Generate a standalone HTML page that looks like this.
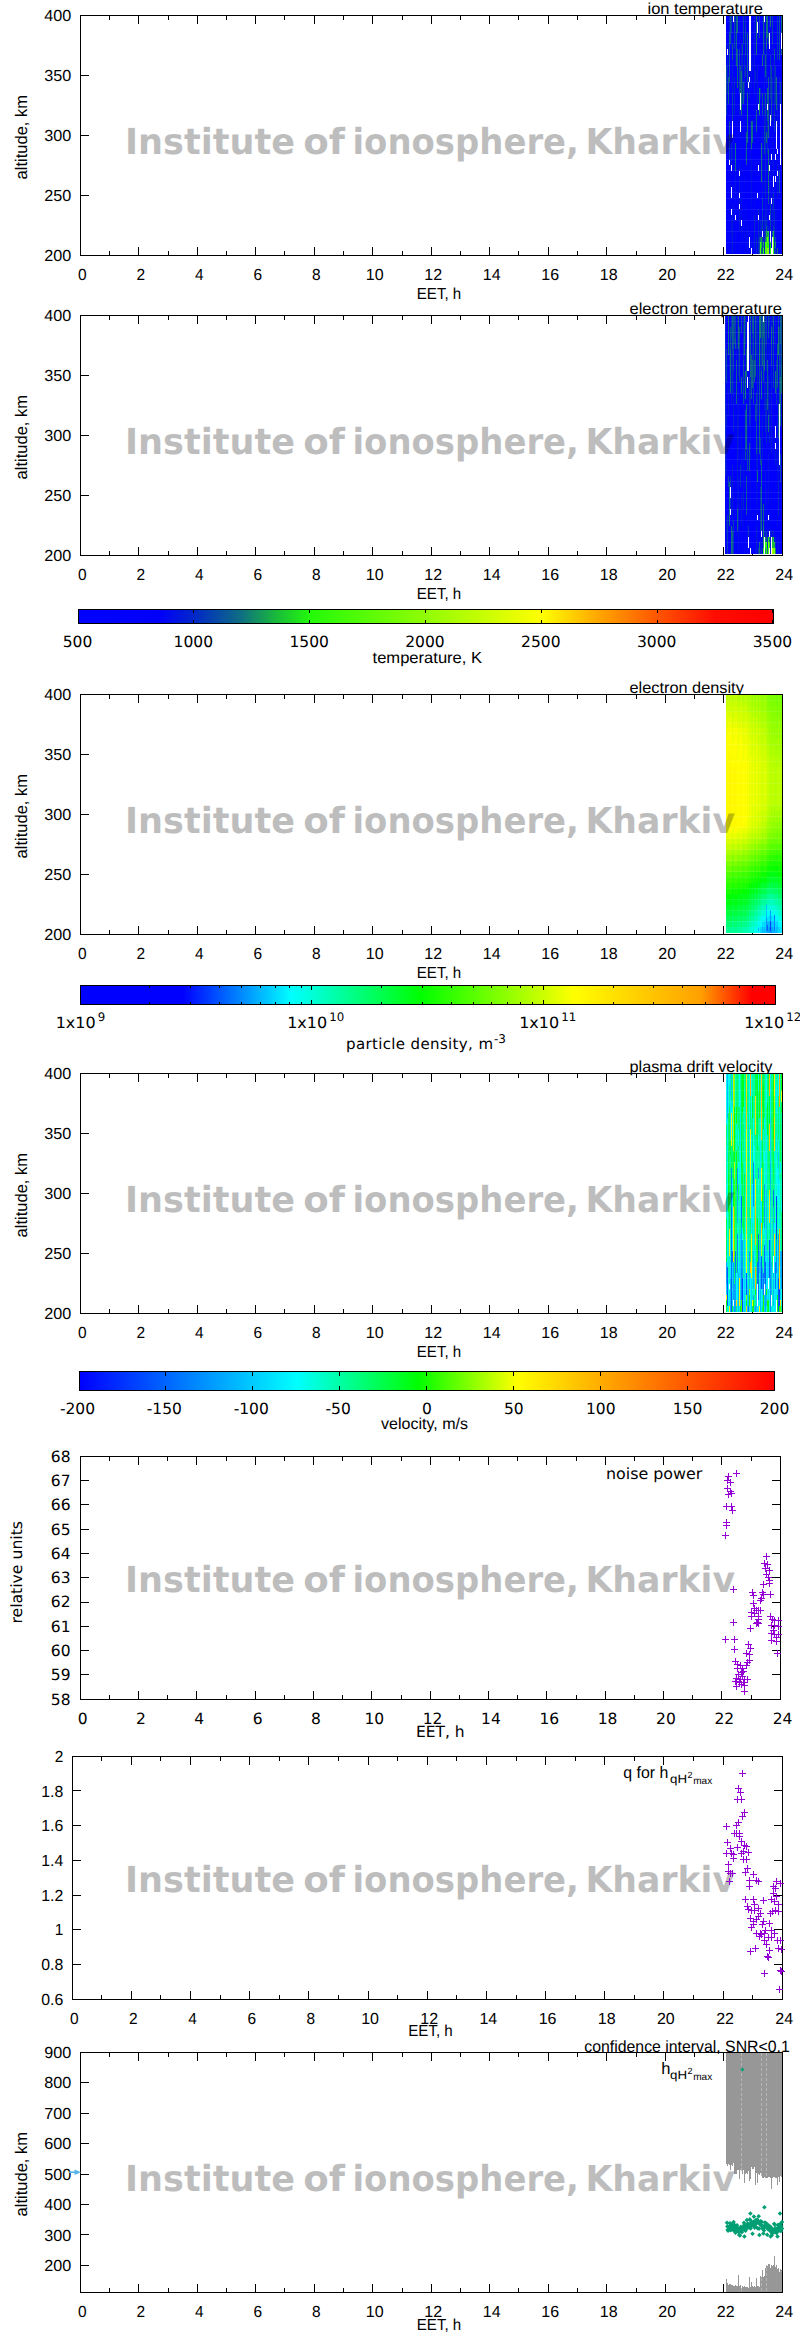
<!DOCTYPE html>
<html><head><meta charset="utf-8"><title>Institute of ionosphere, Kharkiv</title>
<style>
html,body{margin:0;padding:0;background:#fff}
svg{display:block}
.u{font-family:"Liberation Sans",sans-serif}
.d{font-family:"DejaVu Sans",sans-serif}
</style></head><body>
<svg width="800" height="2337" viewBox="0 0 800 2337" shape-rendering="crispEdges" text-rendering="geometricPrecision">
<defs>
<linearGradient id="gT" x1="0" y1="0" x2="1" y2="0"><stop offset="0.0000" stop-color="#0000ff"/><stop offset="0.1167" stop-color="#0000fa"/><stop offset="0.1667" stop-color="#0028c8"/><stop offset="0.2333" stop-color="#0f6e82"/><stop offset="0.2833" stop-color="#19b93c"/><stop offset="0.3333" stop-color="#23fa0a"/><stop offset="0.6667" stop-color="#ffff00"/><stop offset="0.7500" stop-color="#ffa500"/><stop offset="0.8333" stop-color="#ff5500"/><stop offset="0.9167" stop-color="#ff0c00"/><stop offset="1.0000" stop-color="#ff0000"/></linearGradient>
<linearGradient id="gD" x1="0" y1="0" x2="1" y2="0"><stop offset="0.0000" stop-color="#0000ff"/><stop offset="0.1467" stop-color="#0000ff"/><stop offset="0.3033" stop-color="#00ffff"/><stop offset="0.4900" stop-color="#00ff00"/><stop offset="0.7100" stop-color="#ffff00"/><stop offset="0.8933" stop-color="#ffa000"/><stop offset="0.9667" stop-color="#ff0000"/><stop offset="1.0000" stop-color="#ff0000"/></linearGradient>
<linearGradient id="gV" x1="0" y1="0" x2="1" y2="0"><stop offset="0.0000" stop-color="#0000ff"/><stop offset="0.3125" stop-color="#00ffff"/><stop offset="0.4875" stop-color="#00ff00"/><stop offset="0.6300" stop-color="#ffff00"/><stop offset="1.0000" stop-color="#ff0000"/></linearGradient>
</defs>
<text x="647.5" y="14.4" class="u" font-size="16" textLength="115.5" lengthAdjust="spacingAndGlyphs">ion temperature</text>
<rect x="80" y="15" width="703" height="1" fill="#000"/>
<rect x="80" y="255" width="703" height="1" fill="#000"/>
<rect x="80" y="15" width="1" height="241" fill="#000"/>
<rect x="782" y="15" width="1" height="241" fill="#000"/>
<text x="82.2" y="280.1" class="u" font-size="16" text-anchor="middle" textLength="8.6" lengthAdjust="spacingAndGlyphs">0</text>
<rect x="109" y="251" width="1" height="4" fill="#000"/>
<rect x="109" y="16" width="1" height="4" fill="#000"/>
<rect x="138" y="247" width="1" height="8" fill="#000"/>
<rect x="138" y="16" width="1" height="8" fill="#000"/>
<text x="140.7" y="280.1" class="u" font-size="16" text-anchor="middle" textLength="8.6" lengthAdjust="spacingAndGlyphs">2</text>
<rect x="168" y="251" width="1" height="4" fill="#000"/>
<rect x="168" y="16" width="1" height="4" fill="#000"/>
<rect x="197" y="247" width="1" height="8" fill="#000"/>
<rect x="197" y="16" width="1" height="8" fill="#000"/>
<text x="199.2" y="280.1" class="u" font-size="16" text-anchor="middle" textLength="8.6" lengthAdjust="spacingAndGlyphs">4</text>
<rect x="226" y="251" width="1" height="4" fill="#000"/>
<rect x="226" y="16" width="1" height="4" fill="#000"/>
<rect x="255" y="247" width="1" height="8" fill="#000"/>
<rect x="255" y="16" width="1" height="8" fill="#000"/>
<text x="257.7" y="280.1" class="u" font-size="16" text-anchor="middle" textLength="8.6" lengthAdjust="spacingAndGlyphs">6</text>
<rect x="284" y="251" width="1" height="4" fill="#000"/>
<rect x="284" y="16" width="1" height="4" fill="#000"/>
<rect x="314" y="247" width="1" height="8" fill="#000"/>
<rect x="314" y="16" width="1" height="8" fill="#000"/>
<text x="316.2" y="280.1" class="u" font-size="16" text-anchor="middle" textLength="8.6" lengthAdjust="spacingAndGlyphs">8</text>
<rect x="343" y="251" width="1" height="4" fill="#000"/>
<rect x="343" y="16" width="1" height="4" fill="#000"/>
<rect x="372" y="247" width="1" height="8" fill="#000"/>
<rect x="372" y="16" width="1" height="8" fill="#000"/>
<text x="374.7" y="280.1" class="u" font-size="16" text-anchor="middle" textLength="17.8" lengthAdjust="spacingAndGlyphs">10</text>
<rect x="402" y="251" width="1" height="4" fill="#000"/>
<rect x="402" y="16" width="1" height="4" fill="#000"/>
<rect x="431" y="247" width="1" height="8" fill="#000"/>
<rect x="431" y="16" width="1" height="8" fill="#000"/>
<text x="433.2" y="280.1" class="u" font-size="16" text-anchor="middle" textLength="17.8" lengthAdjust="spacingAndGlyphs">12</text>
<rect x="460" y="251" width="1" height="4" fill="#000"/>
<rect x="460" y="16" width="1" height="4" fill="#000"/>
<rect x="489" y="247" width="1" height="8" fill="#000"/>
<rect x="489" y="16" width="1" height="8" fill="#000"/>
<text x="491.7" y="280.1" class="u" font-size="16" text-anchor="middle" textLength="17.8" lengthAdjust="spacingAndGlyphs">14</text>
<rect x="518" y="251" width="1" height="4" fill="#000"/>
<rect x="518" y="16" width="1" height="4" fill="#000"/>
<rect x="548" y="247" width="1" height="8" fill="#000"/>
<rect x="548" y="16" width="1" height="8" fill="#000"/>
<text x="550.2" y="280.1" class="u" font-size="16" text-anchor="middle" textLength="17.8" lengthAdjust="spacingAndGlyphs">16</text>
<rect x="577" y="251" width="1" height="4" fill="#000"/>
<rect x="577" y="16" width="1" height="4" fill="#000"/>
<rect x="606" y="247" width="1" height="8" fill="#000"/>
<rect x="606" y="16" width="1" height="8" fill="#000"/>
<text x="608.7" y="280.1" class="u" font-size="16" text-anchor="middle" textLength="17.8" lengthAdjust="spacingAndGlyphs">18</text>
<rect x="636" y="251" width="1" height="4" fill="#000"/>
<rect x="636" y="16" width="1" height="4" fill="#000"/>
<rect x="665" y="247" width="1" height="8" fill="#000"/>
<rect x="665" y="16" width="1" height="8" fill="#000"/>
<text x="667.2" y="280.1" class="u" font-size="16" text-anchor="middle" textLength="17.8" lengthAdjust="spacingAndGlyphs">20</text>
<rect x="694" y="251" width="1" height="4" fill="#000"/>
<rect x="694" y="16" width="1" height="4" fill="#000"/>
<rect x="723" y="247" width="1" height="8" fill="#000"/>
<rect x="723" y="16" width="1" height="8" fill="#000"/>
<text x="725.7" y="280.1" class="u" font-size="16" text-anchor="middle" textLength="17.8" lengthAdjust="spacingAndGlyphs">22</text>
<rect x="752" y="251" width="1" height="4" fill="#000"/>
<rect x="752" y="16" width="1" height="4" fill="#000"/>
<text x="784.2" y="280.1" class="u" font-size="16" text-anchor="middle" textLength="17.8" lengthAdjust="spacingAndGlyphs">24</text>
<text x="71.3" y="260.9" class="u" font-size="16" text-anchor="end" textLength="27" lengthAdjust="spacingAndGlyphs">200</text>
<rect x="81" y="195" width="8" height="1" fill="#000"/>
<rect x="774" y="195" width="8" height="1" fill="#000"/>
<text x="71.3" y="200.9" class="u" font-size="16" text-anchor="end" textLength="27" lengthAdjust="spacingAndGlyphs">250</text>
<rect x="81" y="135" width="8" height="1" fill="#000"/>
<rect x="774" y="135" width="8" height="1" fill="#000"/>
<text x="71.3" y="140.9" class="u" font-size="16" text-anchor="end" textLength="27" lengthAdjust="spacingAndGlyphs">300</text>
<rect x="81" y="75" width="8" height="1" fill="#000"/>
<rect x="774" y="75" width="8" height="1" fill="#000"/>
<text x="71.3" y="80.9" class="u" font-size="16" text-anchor="end" textLength="27" lengthAdjust="spacingAndGlyphs">350</text>
<text x="71.3" y="20.9" class="u" font-size="16" text-anchor="end" textLength="27" lengthAdjust="spacingAndGlyphs">400</text>
<text x="439" y="298.8" class="u" font-size="16" text-anchor="middle" textLength="44.5" lengthAdjust="spacingAndGlyphs">EET, h</text>
<text x="26.8" y="137.2" class="u" font-size="16.8" text-anchor="middle" textLength="84.5" lengthAdjust="spacingAndGlyphs" transform="rotate(-90 26.8 137.2)">altitude, km</text>
<rect x="726" y="16" width="56" height="237.5" fill="#fff"/>
<path fill="#0000fa" d="M726 16v49.71h1v-49.71zM726 115.42v16.57h1v-16.57zM730 137.51v33.14h1v-33.14zM731 120.94v22.09h1v-22.09zM731 170.65v16.57h1v-16.57zM731 198.27v11.04h1v-11.04zM732 16v11.05h1v-11.05zM735 98.85v44.18h1v-44.18zM738 16v99.42h1v-99.42zM738 231.41v16.57h1v-16.57zM739 231.41v11.04h1v-11.04zM740 32.57v33.14h1v-33.14zM740 159.6v22.1h1v-22.1zM744 16v38.66h1v-38.66zM744 137.51v38.66h1v-38.66zM745 76.76v38.66h1v-38.66zM746 220.36v33.14h1v-33.14zM747 16v16.57h1v-16.57zM747 143.03v82.85h1v-82.85zM749 98.85v22.09h1v-22.09zM749 159.6v38.67h1v-38.67zM749 214.84v22.09h1v-22.09zM750 93.33v16.57h1v-16.57zM751 87.8v33.14h1v-33.14zM752 16v33.14h1v-33.14zM752 71.23v33.14h1v-33.14zM752 143.03v110.47h1v-110.47zM754 93.33v99.41h1v-99.41zM757 242.45v5.53h1v-5.53zM760 60.19v27.61h1v-27.61zM760 176.17v33.14h1v-33.14zM762 65.71v27.62h1v-27.62zM763 214.84v5.52h1v-5.52zM763 225.88v5.53h1v-5.53zM764 198.27v16.57h1v-16.57zM765 16v38.66h1v-38.66zM766 198.27v5.52h1v-5.52zM767 214.84v5.52h1v-5.52zM768 209.31v16.57h1v-16.57zM769 54.66v49.71h1v-49.71zM770 98.85v16.57h1v-16.57zM770 126.47v5.52h1v-5.52zM772 104.37v27.62h1v-27.62zM773 16v38.66h1v-38.66zM773 120.94v27.62h1v-27.62zM775 231.41v5.52h1v-5.52zM776 165.13v44.18h1v-44.18zM777 60.19v33.14h1v-33.14zM777 198.27v49.71h1v-49.71zM780 43.62v38.66h1v-38.66zM780 209.31v33.14h1v-33.14z"/>
<path fill="#0644ac" d="M726 65.71v27.62h1v-27.62zM731 16v16.57h1v-16.57zM732 93.33v27.61h1v-27.61zM734 16v33.14h1v-33.14zM739 49.14v44.19h1v-44.19zM743 16v27.62h1v-27.62zM745 27.05v27.61h1v-27.61zM759 16v22.09h1v-22.09zM759 236.93v11.05h1v-11.05zM762 198.27v11.04h1v-11.04zM762 220.36v11.05h1v-11.05zM762 236.93v11.05h1v-11.05zM764 126.47v27.61h1v-27.61zM770 203.79v27.62h1v-27.62zM771 65.71v33.14h1v-33.14zM772 16v27.62h1v-27.62zM775 236.93v5.52h1v-5.52zM775 247.98v5.52h1v-5.52zM780 82.28v22.09h1v-22.09z"/>
<path fill="#0336ba" d="M726 93.33v22.09h1v-22.09zM729 137.51v22.09h1v-22.09zM745 65.71v11.05h1v-11.05zM762 209.31v11.05h1v-11.05zM765 231.41v5.52h1v-5.52zM769 242.45v11.05h1v-11.05zM770 54.66v44.19h1v-44.19zM773 192.74v16.57h1v-16.57zM773 225.88v5.53h1v-5.53zM774 109.9v22.09h1v-22.09zM775 65.71v38.66h1v-38.66zM777 16v44.19h1v-44.19z"/>
<path fill="#0000fc" d="M726 131.99v11.04h1v-11.04zM726 214.84v16.57h1v-16.57zM727 93.33v49.7h1v-49.7zM728 16v49.71h1v-49.71zM728 104.37v22.1h1v-22.1zM728 154.08v44.19h1v-44.19zM729 82.28v38.66h1v-38.66zM729 165.13v49.71h1v-49.71zM733 82.28v60.75h1v-60.75zM733 225.88v27.62h1v-27.62zM734 49.14v27.62h1v-27.62zM734 154.08v66.28h1v-66.28zM736 143.03v22.1h1v-22.1zM736 192.74v60.76h1v-60.76zM737 32.57v16.57h1v-16.57zM737 98.85v49.71h1v-49.71zM737 236.93v16.57h1v-16.57zM742 16v27.62h1v-27.62zM742 104.37v27.62h1v-27.62zM742 176.17v66.28h1v-66.28zM744 98.85v38.66h1v-38.66zM746 65.71v66.28h1v-66.28zM746 165.13v55.23h1v-55.23zM753 16v99.42h1v-99.42zM753 131.99v11.04h1v-11.04zM755 54.66v16.57h1v-16.57zM755 126.47v33.13h1v-33.13zM755 187.22v66.28h1v-66.28zM756 154.08v33.14h1v-33.14zM756 220.36v16.57h1v-16.57zM757 16v5.52h1v-5.52zM757 32.57v11.05h1v-11.05zM757 104.37v66.28h1v-66.28zM757 187.22v5.52h1v-5.52zM757 198.27v38.66h1v-38.66zM758 43.62v44.18h1v-44.18zM758 143.03v16.57h1v-16.57zM759 203.79v16.57h1v-16.57zM760 98.85v33.14h1v-33.14zM761 16v77.33h1v-77.33zM761 181.7v33.14h1v-33.14zM763 54.66v82.85h1v-82.85zM763 187.22v11.05h1v-11.05zM766 181.7v5.52h1v-5.52zM767 38.09v49.71h1v-49.71zM767 154.08v38.66h1v-38.66zM768 16v16.57h1v-16.57zM768 43.62v33.14h1v-33.14zM768 137.51v11.05h1v-11.05zM771 181.7v16.57h1v-16.57zM771 203.79v5.52h1v-5.52zM771 220.36v5.52h1v-5.52zM774 176.17v33.14h1v-33.14zM775 16v49.71h1v-49.71zM775 143.03v11.05h1v-11.05zM775 198.27v27.61h1v-27.61zM778 16v16.57h1v-16.57zM778 93.33v44.18h1v-44.18zM779 115.42v55.23h1v-55.23zM779 242.45v11.05h1v-11.05zM780 165.13v44.18h1v-44.18zM781 82.28v171.22h1v-171.22z"/>
<path fill="#0000fb" d="M726 143.03v71.81h1v-71.81zM726 231.41v22.09h1v-22.09zM727 16v27.62h1v-27.62zM727 170.65v16.57h1v-16.57zM727 231.41v22.09h1v-22.09zM728 65.71v11.05h1v-11.05zM728 126.47v27.61h1v-27.61zM730 43.62v93.89h1v-93.89zM730 203.79v49.71h1v-49.71zM731 49.14v71.8h1v-71.8zM732 159.6v44.19h1v-44.19zM733 21.52v60.76h1v-60.76zM733 192.74v33.14h1v-33.14zM734 115.42v38.66h1v-38.66zM734 220.36v33.14h1v-33.14zM735 65.71v33.14h1v-33.14zM736 165.13v27.61h1v-27.61zM737 198.27v38.66h1v-38.66zM738 137.51v93.9h1v-93.9zM738 247.98v5.52h1v-5.52zM739 115.42v49.71h1v-49.71zM740 16v16.57h1v-16.57zM740 181.7v71.8h1v-71.8zM741 16v27.62h1v-27.62zM742 165.13v11.04h1v-11.04zM743 43.62v38.66h1v-38.66zM743 143.03v82.85h1v-82.85zM743 242.45v11.05h1v-11.05zM744 187.22v66.28h1v-66.28zM745 159.6v44.19h1v-44.19zM746 16v49.71h1v-49.71zM748 16v66.28h1v-66.28zM748 87.8v165.7h1v-165.7zM749 120.94v38.66h1v-38.66zM749 198.27v16.57h1v-16.57zM749 247.98v5.52h1v-5.52zM750 71.23v22.1h1v-22.1zM750 176.17v77.33h1v-77.33zM752 104.37v16.57h1v-16.57zM753 115.42v16.57h1v-16.57zM755 16v38.66h1v-38.66zM755 82.28v44.19h1v-44.19zM755 159.6v27.62h1v-27.62zM756 54.66v22.1h1v-22.1zM757 43.62v22.09h1v-22.09zM757 236.93v5.52h1v-5.52zM757 247.98v5.52h1v-5.52zM759 220.36v11.05h1v-11.05zM760 16v44.19h1v-44.19zM760 131.99v44.18h1v-44.18zM760 209.31v11.05h1v-11.05zM761 93.33v49.7h1v-49.7zM761 214.84v5.52h1v-5.52zM762 16v38.66h1v-38.66zM763 137.51v49.71h1v-49.71zM763 198.27v16.57h1v-16.57zM765 76.76v16.57h1v-16.57zM766 187.22v11.05h1v-11.05zM767 192.74v11.05h1v-11.05zM768 203.79v5.52h1v-5.52zM769 49.14v5.52h1v-5.52zM769 131.99v33.14h1v-33.14zM769 170.65v11.05h1v-11.05zM770 27.05v27.61h1v-27.61zM770 131.99v22.09h1v-22.09zM771 16v49.71h1v-49.71zM771 170.65v11.05h1v-11.05zM771 225.88v11.05h1v-11.05zM774 16v33.14h1v-33.14zM774 131.99v44.18h1v-44.18zM775 159.6v5.53h1v-5.53zM775 225.88v5.53h1v-5.53zM776 16v60.76h1v-60.76zM776 109.9v11.04h1v-11.04zM776 242.45v11.05h1v-11.05zM778 76.76v16.57h1v-16.57zM778 159.6v49.71h1v-49.71zM780 16v27.62h1v-27.62zM780 242.45v11.05h1v-11.05zM781 54.66v27.62h1v-27.62z"/>
<path fill="#001dd5" d="M727 43.62v5.52h1v-5.52zM727 54.66v38.67h1v-38.67zM732 60.19v33.14h1v-33.14zM732 220.36v33.14h1v-33.14zM739 93.33v22.09h1v-22.09zM739 165.13v5.52h1v-5.52zM739 176.17v16.57h1v-16.57zM739 198.27v5.52h1v-5.52zM739 209.31v22.1h1v-22.1zM741 43.62v27.61h1v-27.61zM747 82.28v11.05h1v-11.05zM749 71.23v5.53h1v-5.53zM749 82.28v16.57h1v-16.57zM754 16v77.33h1v-77.33zM757 65.71v38.66h1v-38.66zM760 231.41v5.52h1v-5.52zM763 236.93v5.52h1v-5.52zM764 21.52v27.62h1v-27.62zM764 93.33v33.14h1v-33.14zM764 214.84v33.14h1v-33.14zM766 214.84v5.52h1v-5.52zM767 225.88v5.53h1v-5.53zM768 225.88v5.53h1v-5.53zM772 76.76v27.61h1v-27.61zM777 93.33v33.14h1v-33.14zM777 165.13v5.52h1v-5.52zM777 176.17v22.1h1v-22.1zM779 76.76v38.66h1v-38.66z"/>
<path fill="#0000fd" d="M727 143.03v27.62h1v-27.62zM727 187.22v44.19h1v-44.19zM728 198.27v55.23h1v-55.23zM729 214.84v38.66h1v-38.66zM733 143.03v49.71h1v-49.71zM736 115.42v27.61h1v-27.61zM742 131.99v33.14h1v-33.14zM742 242.45v11.05h1v-11.05zM753 143.03v16.57h1v-16.57zM753 181.7v71.8h1v-71.8zM756 209.31v11.05h1v-11.05zM758 87.8v16.57h1v-16.57zM758 109.9v16.57h1v-16.57zM766 82.28v49.71h1v-49.71zM766 170.65v11.05h1v-11.05zM771 120.94v33.14h1v-33.14zM771 159.6v11.05h1v-11.05zM771 209.31v11.05h1v-11.05zM775 104.37v38.66h1v-38.66zM775 165.13v11.04h1v-11.04zM775 181.7v16.57h1v-16.57zM778 137.51v22.09h1v-22.09zM778 209.31v44.19h1v-44.19zM779 60.19v16.57h1v-16.57z"/>
<path fill="#0c6090" d="M728 76.76v27.61h1v-27.61zM729 32.57v49.71h1v-49.71zM736 16v49.71h1v-49.71zM737 49.14v38.66h1v-38.66zM743 82.28v22.09h1v-22.09zM746 131.99v33.14h1v-33.14zM747 32.57v49.71h1v-49.71zM752 120.94v22.09h1v-22.09zM756 109.9v22.09h1v-22.09zM761 247.98v5.52h1v-5.52zM762 247.98v5.52h1v-5.52zM763 16v38.66h1v-38.66zM765 54.66v22.1h1v-22.1zM766 225.88v5.53h1v-5.53zM767 87.8v16.57h1v-16.57zM767 109.9v11.04h1v-11.04zM768 76.76v49.71h1v-49.71zM777 247.98v5.52h1v-5.52z"/>
<path fill="#0028c8" d="M729 16v16.57h1v-16.57zM731 143.03v22.1h1v-22.1zM734 76.76v38.66h1v-38.66zM742 54.66v49.71h1v-49.71zM744 54.66v44.19h1v-44.19zM745 16v11.05h1v-11.05zM754 214.84v33.14h1v-33.14zM755 71.23v11.05h1v-11.05zM756 236.93v16.57h1v-16.57zM758 209.31v5.53h1v-5.53zM758 220.36v33.14h1v-33.14zM760 87.8v11.05h1v-11.05zM760 220.36v5.52h1v-5.52zM761 225.88v5.53h1v-5.53zM764 247.98v5.52h1v-5.52zM765 115.42v82.85h1v-82.85zM765 220.36v5.52h1v-5.52zM766 49.14v33.14h1v-33.14zM766 220.36v5.52h1v-5.52zM767 120.94v33.14h1v-33.14zM774 60.19v49.71h1v-49.71zM774 209.31v44.19h1v-44.19z"/>
<path fill="#09529e" d="M729 120.94v16.57h1v-16.57zM730 16v27.62h1v-27.62zM732 43.62v16.57h1v-16.57zM740 65.71v27.62h1v-27.62zM742 43.62v11.04h1v-11.04zM759 247.98v5.52h1v-5.52zM762 93.33v22.09h1v-22.09zM765 93.33v22.09h1v-22.09zM768 32.57v11.05h1v-11.05zM768 192.74v11.05h1v-11.05zM771 98.85v22.09h1v-22.09zM772 231.41v5.52h1v-5.52zM774 49.14v11.05h1v-11.05zM779 16v44.19h1v-44.19zM779 170.65v22.09h1v-22.09z"/>
<path fill="#0008f0" d="M730 170.65v33.14h1v-33.14zM731 236.93v16.57h1v-16.57zM732 27.05v16.57h1v-16.57zM732 137.51v11.05h1v-11.05zM735 198.27v16.57h1v-16.57zM735 220.36v33.14h1v-33.14zM738 115.42v22.09h1v-22.09zM739 32.57v16.57h1v-16.57zM739 242.45v11.05h1v-11.05zM740 109.9v11.04h1v-11.04zM740 131.99v27.61h1v-27.61zM741 115.42v82.85h1v-82.85zM741 236.93v16.57h1v-16.57zM743 104.37v38.66h1v-38.66zM743 225.88v16.57h1v-16.57zM744 176.17v11.05h1v-11.05zM745 54.66v11.05h1v-11.05zM745 115.42v33.14h1v-33.14zM745 203.79v49.71h1v-49.71zM750 109.9v66.27h1v-66.27zM751 16v38.66h1v-38.66zM751 148.56v11.04h1v-11.04zM751 203.79v38.66h1v-38.66zM752 49.14v11.05h1v-11.05zM754 192.74v22.1h1v-22.1zM754 247.98v5.52h1v-5.52zM761 220.36v5.52h1v-5.52zM761 231.41v5.52h1v-5.52zM762 115.42v16.57h1v-16.57zM763 220.36v5.52h1v-5.52zM764 154.08v44.19h1v-44.19zM767 203.79v11.05h1v-11.05zM769 104.37v27.62h1v-27.62zM769 192.74v22.1h1v-22.1zM769 220.36v22.09h1v-22.09zM770 154.08v49.71h1v-49.71zM771 236.93v5.52h1v-5.52zM772 54.66v22.1h1v-22.1zM772 131.99v71.8h1v-71.8zM773 54.66v66.28h1v-66.28zM776 148.56v16.57h1v-16.57zM776 209.31v33.14h1v-33.14zM777 126.47v22.09h1v-22.09zM777 154.08v11.05h1v-11.05z"/>
<path fill="#0013e3" d="M731 32.57v16.57h1v-16.57zM731 214.84v22.09h1v-22.09zM732 148.56v11.04h1v-11.04zM732 203.79v16.57h1v-16.57zM735 16v49.71h1v-49.71zM735 170.65v27.62h1v-27.62zM739 16v16.57h1v-16.57zM741 198.27v22.09h1v-22.09zM741 225.88v11.05h1v-11.05zM745 148.56v11.04h1v-11.04zM747 225.88v27.62h1v-27.62zM751 54.66v33.14h1v-33.14zM751 159.6v44.19h1v-44.19zM751 242.45v5.53h1v-5.53zM752 60.19v11.04h1v-11.04zM759 231.41v5.52h1v-5.52zM760 225.88v5.53h1v-5.53zM762 131.99v66.28h1v-66.28zM763 231.41v5.52h1v-5.52zM764 49.14v44.19h1v-44.19zM765 198.27v22.09h1v-22.09zM765 225.88v5.53h1v-5.53zM766 203.79v11.05h1v-11.05zM767 220.36v5.52h1v-5.52zM769 16v16.57h1v-16.57zM769 181.7v11.04h1v-11.04zM771 242.45v5.53h1v-5.53zM772 43.62v11.04h1v-11.04zM772 203.79v27.62h1v-27.62zM773 148.56v27.61h1v-27.61zM773 187.22v5.52h1v-5.52zM773 209.31v16.57h1v-16.57z"/>
<path fill="#0f6e82" d="M735 143.03v27.62h1v-27.62zM737 16v16.57h1v-16.57zM741 71.23v44.19h1v-44.19zM747 93.33v49.7h1v-49.7zM751 120.94v27.62h1v-27.62zM756 16v38.66h1v-38.66zM760 236.93v5.52h1v-5.52zM761 143.03v38.67h1v-38.67zM762 54.66v11.05h1v-11.05zM765 236.93v5.52h1v-5.52zM766 16v33.14h1v-33.14zM766 131.99v11.04h1v-11.04zM767 16v22.09h1v-22.09zM768 126.47v11.04h1v-11.04zM768 148.56v44.18h1v-44.18zM770 16v11.05h1v-11.05zM776 76.76v33.14h1v-33.14zM781 16v16.57h1v-16.57zM781 49.14v5.52h1v-5.52z"/>
<path fill="#0000fe" d="M736 65.71v49.71h1v-49.71zM737 87.8v11.05h1v-11.05zM737 148.56v49.71h1v-49.71zM753 159.6v22.1h1v-22.1zM756 76.76v33.14h1v-33.14zM756 131.99v22.09h1v-22.09zM756 187.22v22.09h1v-22.09zM757 170.65v16.57h1v-16.57zM758 16v27.62h1v-27.62zM758 126.47v16.56h1v-16.56zM758 159.6v5.53h1v-5.53zM758 170.65v38.66h1v-38.66zM759 38.09v49.71h1v-49.71zM759 115.42v88.37h1v-88.37zM766 143.03v27.62h1v-27.62zM778 32.57v44.19h1v-44.19zM779 192.74v49.71h1v-49.71z"/>
<path fill="#12826f" d="M759 87.8v27.62h1v-27.62zM775 242.45v5.53h1v-5.53z"/>
<path fill="#27fa0a" d="M760 242.45v5.53h1v-5.53z"/>
<path fill="#53fb08" d="M760 247.98v5.52h1v-5.52z"/>
<path fill="#14965d" d="M761 236.93v5.52h1v-5.52zM767 231.41v5.52h1v-5.52z"/>
<path fill="#1abd39" d="M761 242.45v5.53h1v-5.53zM766 236.93v5.52h1v-5.52z"/>
<path fill="#17aa4a" d="M763 242.45v5.53h1v-5.53zM766 231.41v5.52h1v-5.52zM773 231.41v5.52h1v-5.52z"/>
<path fill="#39fa09" d="M763 247.98v5.52h1v-5.52z"/>
<path fill="#4bfb08" d="M765 242.45v5.53h1v-5.53zM766 242.45v5.53h1v-5.53z"/>
<path fill="#5cfb07" d="M765 247.98v5.52h1v-5.52z"/>
<path fill="#42fb09" d="M766 247.98v5.52h1v-5.52zM773 236.93v5.52h1v-5.52zM773 247.98v5.52h1v-5.52z"/>
<path fill="#6efc07" d="M767 236.93v5.52h1v-5.52z"/>
<path fill="#22f111" d="M767 242.45v5.53h1v-5.53zM770 247.98v5.52h1v-5.52z"/>
<path fill="#9afd05" d="M767 247.98v5.52h1v-5.52z"/>
<path fill="#1ccf2b" d="M768 231.41v5.52h1v-5.52z"/>
<path fill="#1fe01e" d="M768 236.93v5.52h1v-5.52zM770 242.45v5.53h1v-5.53z"/>
<path fill="#30fa09" d="M768 242.45v5.53h1v-5.53z"/>
<path fill="#88fc05" d="M768 247.98v5.52h1v-5.52z"/>
<path fill="#65fc07" d="M773 242.45v5.53h1v-5.53z"/>
<rect x="726" y="21.27" width="56" height="0.5" fill="#ffffff" fill-opacity="0.08"/>
<rect x="726" y="26.8" width="56" height="0.5" fill="#ffffff" fill-opacity="0.08"/>
<rect x="726" y="32.32" width="56" height="0.5" fill="#ffffff" fill-opacity="0.08"/>
<rect x="726" y="37.84" width="56" height="0.5" fill="#ffffff" fill-opacity="0.08"/>
<rect x="726" y="43.37" width="56" height="0.5" fill="#ffffff" fill-opacity="0.08"/>
<rect x="726" y="48.89" width="56" height="0.5" fill="#ffffff" fill-opacity="0.08"/>
<rect x="726" y="54.41" width="56" height="0.5" fill="#ffffff" fill-opacity="0.08"/>
<rect x="726" y="59.94" width="56" height="0.5" fill="#ffffff" fill-opacity="0.08"/>
<rect x="726" y="65.46" width="56" height="0.5" fill="#ffffff" fill-opacity="0.08"/>
<rect x="726" y="70.98" width="56" height="0.5" fill="#ffffff" fill-opacity="0.08"/>
<rect x="726" y="76.51" width="56" height="0.5" fill="#ffffff" fill-opacity="0.08"/>
<rect x="726" y="82.03" width="56" height="0.5" fill="#ffffff" fill-opacity="0.08"/>
<rect x="726" y="87.55" width="56" height="0.5" fill="#ffffff" fill-opacity="0.08"/>
<rect x="726" y="93.08" width="56" height="0.5" fill="#ffffff" fill-opacity="0.08"/>
<rect x="726" y="98.6" width="56" height="0.5" fill="#ffffff" fill-opacity="0.08"/>
<rect x="726" y="104.12" width="56" height="0.5" fill="#ffffff" fill-opacity="0.08"/>
<rect x="726" y="109.65" width="56" height="0.5" fill="#ffffff" fill-opacity="0.08"/>
<rect x="726" y="115.17" width="56" height="0.5" fill="#ffffff" fill-opacity="0.08"/>
<rect x="726" y="120.69" width="56" height="0.5" fill="#ffffff" fill-opacity="0.08"/>
<rect x="726" y="126.22" width="56" height="0.5" fill="#ffffff" fill-opacity="0.08"/>
<rect x="726" y="131.74" width="56" height="0.5" fill="#ffffff" fill-opacity="0.08"/>
<rect x="726" y="137.26" width="56" height="0.5" fill="#ffffff" fill-opacity="0.08"/>
<rect x="726" y="142.78" width="56" height="0.5" fill="#ffffff" fill-opacity="0.08"/>
<rect x="726" y="148.31" width="56" height="0.5" fill="#ffffff" fill-opacity="0.08"/>
<rect x="726" y="153.83" width="56" height="0.5" fill="#ffffff" fill-opacity="0.08"/>
<rect x="726" y="159.35" width="56" height="0.5" fill="#ffffff" fill-opacity="0.08"/>
<rect x="726" y="164.88" width="56" height="0.5" fill="#ffffff" fill-opacity="0.08"/>
<rect x="726" y="170.4" width="56" height="0.5" fill="#ffffff" fill-opacity="0.08"/>
<rect x="726" y="175.92" width="56" height="0.5" fill="#ffffff" fill-opacity="0.08"/>
<rect x="726" y="181.45" width="56" height="0.5" fill="#ffffff" fill-opacity="0.08"/>
<rect x="726" y="186.97" width="56" height="0.5" fill="#ffffff" fill-opacity="0.08"/>
<rect x="726" y="192.49" width="56" height="0.5" fill="#ffffff" fill-opacity="0.08"/>
<rect x="726" y="198.02" width="56" height="0.5" fill="#ffffff" fill-opacity="0.08"/>
<rect x="726" y="203.54" width="56" height="0.5" fill="#ffffff" fill-opacity="0.08"/>
<rect x="726" y="209.06" width="56" height="0.5" fill="#ffffff" fill-opacity="0.08"/>
<rect x="726" y="214.59" width="56" height="0.5" fill="#ffffff" fill-opacity="0.08"/>
<rect x="726" y="220.11" width="56" height="0.5" fill="#ffffff" fill-opacity="0.08"/>
<rect x="726" y="225.63" width="56" height="0.5" fill="#ffffff" fill-opacity="0.08"/>
<rect x="726" y="231.16" width="56" height="0.5" fill="#ffffff" fill-opacity="0.08"/>
<rect x="726" y="236.68" width="56" height="0.5" fill="#ffffff" fill-opacity="0.08"/>
<rect x="726" y="242.2" width="56" height="0.5" fill="#ffffff" fill-opacity="0.08"/>
<rect x="726" y="247.73" width="56" height="0.5" fill="#ffffff" fill-opacity="0.08"/>
<g font-family="'DejaVu Sans Condensed','DejaVu Sans',sans-serif" font-size="35.8" font-weight="bold" fill="#000" opacity="0.255">
<text x="125" y="153.5" textLength="170" lengthAdjust="spacingAndGlyphs">Institute</text>
<text x="303.3" y="153.5" textLength="41.7" lengthAdjust="spacingAndGlyphs">of</text>
<text x="352.5" y="153.5" textLength="226.5" lengthAdjust="spacingAndGlyphs">ionosphere,</text>
<text x="585.5" y="153.5" textLength="149.5" lengthAdjust="spacingAndGlyphs">Kharkiv</text>
</g>
<text x="629.5" y="314.4" class="u" font-size="16" textLength="152.5" lengthAdjust="spacingAndGlyphs">electron temperature</text>
<rect x="80" y="315" width="703" height="1" fill="#000"/>
<rect x="80" y="555" width="703" height="1" fill="#000"/>
<rect x="80" y="315" width="1" height="241" fill="#000"/>
<rect x="782" y="315" width="1" height="241" fill="#000"/>
<text x="82.2" y="580.1" class="u" font-size="16" text-anchor="middle" textLength="8.6" lengthAdjust="spacingAndGlyphs">0</text>
<rect x="109" y="551" width="1" height="4" fill="#000"/>
<rect x="109" y="316" width="1" height="4" fill="#000"/>
<rect x="138" y="547" width="1" height="8" fill="#000"/>
<rect x="138" y="316" width="1" height="8" fill="#000"/>
<text x="140.7" y="580.1" class="u" font-size="16" text-anchor="middle" textLength="8.6" lengthAdjust="spacingAndGlyphs">2</text>
<rect x="168" y="551" width="1" height="4" fill="#000"/>
<rect x="168" y="316" width="1" height="4" fill="#000"/>
<rect x="197" y="547" width="1" height="8" fill="#000"/>
<rect x="197" y="316" width="1" height="8" fill="#000"/>
<text x="199.2" y="580.1" class="u" font-size="16" text-anchor="middle" textLength="8.6" lengthAdjust="spacingAndGlyphs">4</text>
<rect x="226" y="551" width="1" height="4" fill="#000"/>
<rect x="226" y="316" width="1" height="4" fill="#000"/>
<rect x="255" y="547" width="1" height="8" fill="#000"/>
<rect x="255" y="316" width="1" height="8" fill="#000"/>
<text x="257.7" y="580.1" class="u" font-size="16" text-anchor="middle" textLength="8.6" lengthAdjust="spacingAndGlyphs">6</text>
<rect x="284" y="551" width="1" height="4" fill="#000"/>
<rect x="284" y="316" width="1" height="4" fill="#000"/>
<rect x="314" y="547" width="1" height="8" fill="#000"/>
<rect x="314" y="316" width="1" height="8" fill="#000"/>
<text x="316.2" y="580.1" class="u" font-size="16" text-anchor="middle" textLength="8.6" lengthAdjust="spacingAndGlyphs">8</text>
<rect x="343" y="551" width="1" height="4" fill="#000"/>
<rect x="343" y="316" width="1" height="4" fill="#000"/>
<rect x="372" y="547" width="1" height="8" fill="#000"/>
<rect x="372" y="316" width="1" height="8" fill="#000"/>
<text x="374.7" y="580.1" class="u" font-size="16" text-anchor="middle" textLength="17.8" lengthAdjust="spacingAndGlyphs">10</text>
<rect x="402" y="551" width="1" height="4" fill="#000"/>
<rect x="402" y="316" width="1" height="4" fill="#000"/>
<rect x="431" y="547" width="1" height="8" fill="#000"/>
<rect x="431" y="316" width="1" height="8" fill="#000"/>
<text x="433.2" y="580.1" class="u" font-size="16" text-anchor="middle" textLength="17.8" lengthAdjust="spacingAndGlyphs">12</text>
<rect x="460" y="551" width="1" height="4" fill="#000"/>
<rect x="460" y="316" width="1" height="4" fill="#000"/>
<rect x="489" y="547" width="1" height="8" fill="#000"/>
<rect x="489" y="316" width="1" height="8" fill="#000"/>
<text x="491.7" y="580.1" class="u" font-size="16" text-anchor="middle" textLength="17.8" lengthAdjust="spacingAndGlyphs">14</text>
<rect x="518" y="551" width="1" height="4" fill="#000"/>
<rect x="518" y="316" width="1" height="4" fill="#000"/>
<rect x="548" y="547" width="1" height="8" fill="#000"/>
<rect x="548" y="316" width="1" height="8" fill="#000"/>
<text x="550.2" y="580.1" class="u" font-size="16" text-anchor="middle" textLength="17.8" lengthAdjust="spacingAndGlyphs">16</text>
<rect x="577" y="551" width="1" height="4" fill="#000"/>
<rect x="577" y="316" width="1" height="4" fill="#000"/>
<rect x="606" y="547" width="1" height="8" fill="#000"/>
<rect x="606" y="316" width="1" height="8" fill="#000"/>
<text x="608.7" y="580.1" class="u" font-size="16" text-anchor="middle" textLength="17.8" lengthAdjust="spacingAndGlyphs">18</text>
<rect x="636" y="551" width="1" height="4" fill="#000"/>
<rect x="636" y="316" width="1" height="4" fill="#000"/>
<rect x="665" y="547" width="1" height="8" fill="#000"/>
<rect x="665" y="316" width="1" height="8" fill="#000"/>
<text x="667.2" y="580.1" class="u" font-size="16" text-anchor="middle" textLength="17.8" lengthAdjust="spacingAndGlyphs">20</text>
<rect x="694" y="551" width="1" height="4" fill="#000"/>
<rect x="694" y="316" width="1" height="4" fill="#000"/>
<rect x="723" y="547" width="1" height="8" fill="#000"/>
<rect x="723" y="316" width="1" height="8" fill="#000"/>
<text x="725.7" y="580.1" class="u" font-size="16" text-anchor="middle" textLength="17.8" lengthAdjust="spacingAndGlyphs">22</text>
<rect x="752" y="551" width="1" height="4" fill="#000"/>
<rect x="752" y="316" width="1" height="4" fill="#000"/>
<text x="784.2" y="580.1" class="u" font-size="16" text-anchor="middle" textLength="17.8" lengthAdjust="spacingAndGlyphs">24</text>
<text x="71.3" y="560.9" class="u" font-size="16" text-anchor="end" textLength="27" lengthAdjust="spacingAndGlyphs">200</text>
<rect x="81" y="495" width="8" height="1" fill="#000"/>
<rect x="774" y="495" width="8" height="1" fill="#000"/>
<text x="71.3" y="500.9" class="u" font-size="16" text-anchor="end" textLength="27" lengthAdjust="spacingAndGlyphs">250</text>
<rect x="81" y="435" width="8" height="1" fill="#000"/>
<rect x="774" y="435" width="8" height="1" fill="#000"/>
<text x="71.3" y="440.9" class="u" font-size="16" text-anchor="end" textLength="27" lengthAdjust="spacingAndGlyphs">300</text>
<rect x="81" y="375" width="8" height="1" fill="#000"/>
<rect x="774" y="375" width="8" height="1" fill="#000"/>
<text x="71.3" y="380.9" class="u" font-size="16" text-anchor="end" textLength="27" lengthAdjust="spacingAndGlyphs">350</text>
<text x="71.3" y="320.9" class="u" font-size="16" text-anchor="end" textLength="27" lengthAdjust="spacingAndGlyphs">400</text>
<text x="439" y="598.8" class="u" font-size="16" text-anchor="middle" textLength="44.5" lengthAdjust="spacingAndGlyphs">EET, h</text>
<text x="26.8" y="437.2" class="u" font-size="16.8" text-anchor="middle" textLength="84.5" lengthAdjust="spacingAndGlyphs" transform="rotate(-90 26.8 437.2)">altitude, km</text>
<rect x="726" y="316" width="56" height="237.5" fill="#fff"/>
<path fill="#0000fb" d="M726 316v33.14h1v-33.14zM726 476.17v44.19h1v-44.19zM727 316v38.66h1v-38.66zM727 415.42v49.71h1v-49.71zM727 487.22v27.62h1v-27.62zM728 354.66v33.14h1v-33.14zM728 487.22v11.05h1v-11.05zM729 437.51v44.19h1v-44.19zM730 393.33v16.57h1v-16.57zM730 426.47v49.7h1v-49.7zM731 454.08v38.66h1v-38.66zM732 393.33v71.8h1v-71.8zM733 476.17v33.14h1v-33.14zM734 426.47v27.61h1v-27.61zM734 487.22v22.09h1v-22.09zM735 443.03v110.47h1v-110.47zM736 316v27.62h1v-27.62zM736 481.7v16.57h1v-16.57zM736 547.98v5.52h1v-5.52zM739 459.6v71.81h1v-71.81zM739 547.98v5.52h1v-5.52zM741 332.57v44.19h1v-44.19zM741 393.33v38.66h1v-38.66zM741 470.65v22.09h1v-22.09zM742 316v38.66h1v-38.66zM742 393.33v49.7h1v-49.7zM742 498.27v55.23h1v-55.23zM745 531.41v22.09h1v-22.09zM746 376.76v27.61h1v-27.61zM746 448.56v11.04h1v-11.04zM747 470.65v49.71h1v-49.71zM748 371.23v5.53h1v-5.53zM749 426.47v16.56h1v-16.56zM749 525.88v22.1h1v-22.1zM753 404.37v16.57h1v-16.57zM754 382.28v22.09h1v-22.09zM755 443.03v55.24h1v-55.24zM758 431.99v44.18h1v-44.18zM759 525.88v16.57h1v-16.57zM760 531.41v5.52h1v-5.52zM762 365.71v49.71h1v-49.71zM762 459.6v27.62h1v-27.62zM763 465.13v38.66h1v-38.66zM766 443.03v22.1h1v-22.1zM766 520.36v5.52h1v-5.52zM767 409.9v93.89h1v-93.89zM768 503.79v11.05h1v-11.05zM768 520.36v5.52h1v-5.52zM769 443.03v66.28h1v-66.28zM770 365.71v77.32h1v-77.32zM770 487.22v44.19h1v-44.19zM771 454.08v33.14h1v-33.14zM772 393.33v44.18h1v-44.18zM772 476.17v55.24h1v-55.24zM773 420.94v27.62h1v-27.62zM773 498.27v33.14h1v-33.14zM774 409.9v55.23h1v-55.23zM775 465.13v60.75h1v-60.75zM775 531.41v5.52h1v-5.52zM776 316v44.19h1v-44.19zM776 437.51v49.71h1v-49.71zM776 514.84v38.66h1v-38.66zM777 387.8v33.14h1v-33.14zM777 525.88v27.62h1v-27.62zM779 465.13v49.71h1v-49.71zM781 431.99v99.42h1v-99.42z"/>
<path fill="#0644ac" d="M726 349.14v33.14h1v-33.14zM728 476.17v11.05h1v-11.05zM733 354.66v16.57h1v-16.57zM734 316v27.62h1v-27.62zM735 316v22.09h1v-22.09zM739 338.09v44.19h1v-44.19zM747 448.56v22.09h1v-22.09zM753 338.09v66.28h1v-66.28zM755 404.37v16.57h1v-16.57zM756 393.33v33.14h1v-33.14zM760 437.51v27.62h1v-27.62zM766 316v27.62h1v-27.62zM773 343.62v44.18h1v-44.18zM779 327.05v27.61h1v-27.61zM780 454.08v27.62h1v-27.62z"/>
<path fill="#0000fa" d="M726 382.28v22.09h1v-22.09zM727 393.33v22.09h1v-22.09zM728 415.42v16.57h1v-16.57zM728 498.27v11.04h1v-11.04zM735 349.14v49.71h1v-49.71zM736 404.37v44.19h1v-44.19zM737 349.14v27.62h1v-27.62zM737 531.41v22.09h1v-22.09zM738 376.76v11.04h1v-11.04zM738 459.6v16.57h1v-16.57zM739 382.28v49.71h1v-49.71zM739 531.41v16.57h1v-16.57zM741 525.88v27.62h1v-27.62zM743 404.37v44.19h1v-44.19zM743 531.41v22.09h1v-22.09zM744 487.22v49.71h1v-49.71zM745 503.79v27.62h1v-27.62zM747 316v5.52h1v-5.52zM748 376.76v71.8h1v-71.8zM750 459.6v11.05h1v-11.05zM750 520.36v27.62h1v-27.62zM752 387.8v165.7h1v-165.7zM756 354.66v38.67h1v-38.67zM757 415.42v22.09h1v-22.09zM762 487.22v49.71h1v-49.71zM763 420.94v44.19h1v-44.19zM764 514.84v5.52h1v-5.52zM765 349.14v33.14h1v-33.14zM765 431.99v38.66h1v-38.66zM765 514.84v16.57h1v-16.57zM766 525.88v5.53h1v-5.53zM767 316v44.19h1v-44.19zM770 443.03v44.19h1v-44.19zM772 354.66v38.67h1v-38.67zM774 365.71v44.19h1v-44.19zM774 531.41v5.52h1v-5.52zM775 393.33v33.14h1v-33.14zM775 437.51v5.52h1v-5.52zM776 404.37v33.14h1v-33.14zM776 487.22v27.62h1v-27.62zM778 354.66v33.14h1v-33.14zM778 514.84v22.09h1v-22.09zM779 525.88v27.62h1v-27.62zM781 531.41v22.09h1v-22.09z"/>
<path fill="#0008f0" d="M726 404.37v11.05h1v-11.05zM726 426.47v49.7h1v-49.7zM726 531.41v22.09h1v-22.09zM727 354.66v38.67h1v-38.67zM727 465.13v22.09h1v-22.09zM728 509.31v27.62h1v-27.62zM735 398.85v44.18h1v-44.18zM737 376.76v38.66h1v-38.66zM743 509.31v22.1h1v-22.1zM744 404.37v27.62h1v-27.62zM744 465.13v22.09h1v-22.09zM744 547.98v5.52h1v-5.52zM747 387.8v60.76h1v-60.76zM747 520.36v33.14h1v-33.14zM748 448.56v77.32h1v-77.32zM748 547.98v5.52h1v-5.52zM750 470.65v49.71h1v-49.71zM756 503.79v22.09h1v-22.09zM757 481.7v33.14h1v-33.14zM757 520.36v33.14h1v-33.14zM761 398.85v11.05h1v-11.05zM761 536.93v5.52h1v-5.52zM762 536.93v16.57h1v-16.57zM763 382.28v38.66h1v-38.66zM764 525.88v5.53h1v-5.53zM767 503.79v33.14h1v-33.14zM768 431.99v22.09h1v-22.09zM768 525.88v5.53h1v-5.53zM769 327.05v82.85h1v-82.85zM769 509.31v22.1h1v-22.1zM771 487.22v49.71h1v-49.71zM772 332.57v22.09h1v-22.09zM777 316v27.62h1v-27.62zM777 470.65v44.19h1v-44.19zM778 387.8v16.57h1v-16.57zM781 393.33v38.66h1v-38.66z"/>
<path fill="#001dd5" d="M726 415.42v11.05h1v-11.05zM728 387.8v27.62h1v-27.62zM729 343.62v33.14h1v-33.14zM731 338.09v66.28h1v-66.28zM732 465.13v49.71h1v-49.71zM733 371.23v38.67h1v-38.67zM736 343.62v16.57h1v-16.57zM737 316v33.14h1v-33.14zM737 415.42v66.28h1v-66.28zM738 349.14v27.62h1v-27.62zM738 503.79v22.09h1v-22.09zM741 492.74v33.14h1v-33.14zM756 525.88v27.62h1v-27.62zM757 316v38.66h1v-38.66zM757 437.51v33.14h1v-33.14zM760 338.09v38.67h1v-38.67zM760 547.98v5.52h1v-5.52zM761 542.45v5.53h1v-5.53zM762 415.42v44.18h1v-44.18zM764 371.23v38.67h1v-38.67zM765 316v33.14h1v-33.14zM765 531.41v5.52h1v-5.52zM769 409.9v33.13h1v-33.13zM770 531.41v22.09h1v-22.09zM771 316v11.05h1v-11.05zM771 365.71v88.37h1v-88.37zM772 316v16.57h1v-16.57zM772 531.41v5.52h1v-5.52zM774 536.93v5.52h1v-5.52zM775 316v33.14h1v-33.14zM775 448.56v16.57h1v-16.57zM775 536.93v5.52h1v-5.52z"/>
<path fill="#0013e3" d="M726 520.36v11.05h1v-11.05zM732 514.84v16.57h1v-16.57zM737 481.7v27.61h1v-27.61zM738 387.8v71.8h1v-71.8zM738 476.17v27.62h1v-27.62zM738 525.88v27.62h1v-27.62zM741 431.99v38.66h1v-38.66zM743 448.56v44.18h1v-44.18zM744 354.66v49.71h1v-49.71zM747 371.23v5.53h1v-5.53zM750 420.94v38.66h1v-38.66zM756 454.08v49.71h1v-49.71zM760 536.93v11.05h1v-11.05zM764 520.36v5.52h1v-5.52zM765 470.65v44.19h1v-44.19zM768 338.09v38.67h1v-38.67zM768 454.08v49.71h1v-49.71zM768 531.41v5.52h1v-5.52zM773 531.41v5.52h1v-5.52zM777 420.94v49.71h1v-49.71zM777 514.84v11.04h1v-11.04zM778 437.51v44.19h1v-44.19zM778 536.93v16.57h1v-16.57z"/>
<path fill="#0336ba" d="M727 514.84v38.66h1v-38.66zM730 476.17v11.05h1v-11.05zM730 498.27v11.04h1v-11.04zM731 316v22.09h1v-22.09zM732 349.14v44.19h1v-44.19zM733 520.36v33.14h1v-33.14zM740 465.13v22.09h1v-22.09zM743 338.09v22.1h1v-22.1zM748 525.88v11.05h1v-11.05zM749 376.76v49.71h1v-49.71zM758 547.98v5.52h1v-5.52zM760 487.22v44.19h1v-44.19zM761 316v55.23h1v-55.23zM761 547.98v5.52h1v-5.52zM763 338.09v22.1h1v-22.1zM766 531.41v5.52h1v-5.52zM767 536.93v11.05h1v-11.05zM776 360.19v44.18h1v-44.18zM780 343.62v33.14h1v-33.14z"/>
<path fill="#0f6e82" d="M728 316v38.66h1v-38.66zM729 481.7v44.18h1v-44.18zM730 349.14v44.19h1v-44.19zM731 525.88v27.62h1v-27.62zM738 316v33.14h1v-33.14zM741 376.76v16.57h1v-16.57zM744 316v38.66h1v-38.66zM746 404.37v44.19h1v-44.19zM750 365.71v11.05h1v-11.05zM757 470.65v11.05h1v-11.05zM759 542.45v11.05h1v-11.05zM761 371.23v27.62h1v-27.62zM761 509.31v22.1h1v-22.1zM764 360.19v11.04h1v-11.04zM767 547.98v5.52h1v-5.52zM768 415.42v16.57h1v-16.57zM769 536.93v5.52h1v-5.52zM771 327.05v16.57h1v-16.57zM775 371.23v22.1h1v-22.1zM780 376.76v49.71h1v-49.71zM781 365.71v27.62h1v-27.62z"/>
<path fill="#0000fc" d="M728 431.99v44.18h1v-44.18zM728 536.93v16.57h1v-16.57zM729 316v27.62h1v-27.62zM729 376.76v60.75h1v-60.75zM729 525.88v27.62h1v-27.62zM730 409.9v16.57h1v-16.57zM730 514.84v38.66h1v-38.66zM731 404.37v49.71h1v-49.71zM731 492.74v33.14h1v-33.14zM733 454.08v22.09h1v-22.09zM733 509.31v11.05h1v-11.05zM734 382.28v44.19h1v-44.19zM734 454.08v33.14h1v-33.14zM736 448.56v33.14h1v-33.14zM736 498.27v49.71h1v-49.71zM739 316v11.05h1v-11.05zM739 431.99v27.61h1v-27.61zM740 316v44.19h1v-44.19zM740 448.56v16.57h1v-16.57zM740 498.27v11.04h1v-11.04zM740 547.98v5.52h1v-5.52zM742 354.66v38.67h1v-38.67zM742 443.03v11.05h1v-11.05zM742 470.65v27.62h1v-27.62zM744 431.99v33.14h1v-33.14zM744 536.93v11.05h1v-11.05zM745 343.62v27.61h1v-27.61zM745 398.85v11.05h1v-11.05zM745 459.6v44.19h1v-44.19zM746 514.84v38.66h1v-38.66zM749 360.19v16.57h1v-16.57zM749 470.65v22.09h1v-22.09zM749 547.98v5.52h1v-5.52zM751 316v38.66h1v-38.66zM751 398.85v38.66h1v-38.66zM753 420.94v11.05h1v-11.05zM753 443.03v49.71h1v-49.71zM753 531.41v22.09h1v-22.09zM754 404.37v60.76h1v-60.76zM754 487.22v66.28h1v-66.28zM755 376.76v27.61h1v-27.61zM755 420.94v22.09h1v-22.09zM755 498.27v55.23h1v-55.23zM758 354.66v27.62h1v-27.62zM758 476.17v71.81h1v-71.81zM759 470.65v27.62h1v-27.62zM759 514.84v11.04h1v-11.04zM760 415.42v22.09h1v-22.09zM760 465.13v22.09h1v-22.09zM761 409.9v49.7h1v-49.7zM764 465.13v16.57h1v-16.57zM764 503.79v11.05h1v-11.05zM766 371.23v27.62h1v-27.62zM766 481.7v38.66h1v-38.66zM770 316v49.71h1v-49.71zM772 437.51v38.66h1v-38.66zM773 387.8v33.14h1v-33.14zM774 316v49.71h1v-49.71zM774 465.13v66.28h1v-66.28zM775 349.14v22.09h1v-22.09zM775 525.88v5.53h1v-5.53zM779 316v11.05h1v-11.05zM779 514.84v11.04h1v-11.04zM780 426.47v11.04h1v-11.04zM780 492.74v60.76h1v-60.76z"/>
<path fill="#0000fd" d="M730 316v11.05h1v-11.05zM733 431.99v22.09h1v-22.09zM734 343.62v38.66h1v-38.66zM734 542.45v11.05h1v-11.05zM740 420.94v27.62h1v-27.62zM740 487.22v11.05h1v-11.05zM740 509.31v38.67h1v-38.67zM742 454.08v16.57h1v-16.57zM746 316v33.14h1v-33.14zM749 316v16.57h1v-16.57zM749 492.74v33.14h1v-33.14zM751 476.17v38.67h1v-38.67zM753 492.74v38.67h1v-38.67zM754 316v44.19h1v-44.19zM759 498.27v16.57h1v-16.57zM760 376.76v38.66h1v-38.66zM764 409.9v55.23h1v-55.23zM764 498.27v5.52h1v-5.52zM766 465.13v16.57h1v-16.57zM773 448.56v49.71h1v-49.71z"/>
<path fill="#09529e" d="M730 327.05v22.09h1v-22.09zM733 316v38.66h1v-38.66zM739 327.05v11.04h1v-11.04zM741 316v16.57h1v-16.57zM743 360.19v44.18h1v-44.18zM745 409.9v49.7h1v-49.7zM746 476.17v38.67h1v-38.67zM752 316v16.57h1v-16.57zM756 426.47v27.61h1v-27.61zM759 365.71v49.71h1v-49.71zM763 360.19v22.09h1v-22.09zM766 536.93v5.52h1v-5.52zM768 316v22.09h1v-22.09zM771 343.62v22.09h1v-22.09zM778 316v11.05h1v-11.05zM779 354.66v49.71h1v-49.71zM781 316v49.71h1v-49.71z"/>
<path fill="#0c6090" d="M732 316v33.14h1v-33.14zM732 531.41v22.09h1v-22.09zM735 338.09v11.05h1v-11.05zM736 360.19v44.18h1v-44.18zM737 509.31v22.1h1v-22.1zM746 349.14v27.62h1v-27.62zM749 443.03v27.62h1v-27.62zM750 316v49.71h1v-49.71zM751 354.66v44.19h1v-44.19zM752 360.19v27.61h1v-27.61zM753 316v22.09h1v-22.09zM754 360.19v22.09h1v-22.09zM755 316v60.76h1v-60.76zM759 415.42v38.66h1v-38.66zM761 459.6v49.71h1v-49.71zM762 316v49.71h1v-49.71zM763 321.52v16.57h1v-16.57zM763 503.79v22.09h1v-22.09zM764 316v44.19h1v-44.19zM767 360.19v49.71h1v-49.71zM773 316v27.62h1v-27.62zM777 343.62v44.18h1v-44.18zM778 404.37v33.14h1v-33.14zM780 316v27.62h1v-27.62z"/>
<path fill="#0028c8" d="M733 409.9v22.09h1v-22.09zM743 316v22.09h1v-22.09zM743 492.74v16.57h1v-16.57zM745 316v27.62h1v-27.62zM749 332.57v27.62h1v-27.62zM750 376.76v44.18h1v-44.18zM752 332.57v27.62h1v-27.62zM756 316v38.66h1v-38.66zM757 354.66v60.76h1v-60.76zM764 531.41v5.52h1v-5.52zM765 382.28v49.71h1v-49.71zM766 343.62v27.61h1v-27.61zM766 398.85v44.18h1v-44.18zM768 376.76v38.66h1v-38.66zM769 316v11.05h1v-11.05zM775 542.45v5.53h1v-5.53zM778 481.7v33.14h1v-33.14z"/>
<path fill="#0000fe" d="M734 509.31v33.14h1v-33.14zM740 360.19v60.75h1v-60.75zM746 459.6v16.57h1v-16.57zM751 437.51v38.66h1v-38.66zM751 514.84v38.66h1v-38.66zM753 431.99v11.04h1v-11.04zM754 465.13v22.09h1v-22.09zM758 316v38.66h1v-38.66zM758 382.28v49.71h1v-49.71zM759 454.08v16.57h1v-16.57zM764 481.7v16.57h1v-16.57zM780 437.51v16.57h1v-16.57zM780 481.7v11.04h1v-11.04z"/>
<path fill="#12826f" d="M745 371.23v27.62h1v-27.62zM759 316v49.71h1v-49.71zM760 316v22.09h1v-22.09zM763 525.88v11.05h1v-11.05zM765 536.93v5.52h1v-5.52zM775 547.98v5.52h1v-5.52zM778 327.05v27.61h1v-27.61z"/>
<path fill="#14965d" d="M763 536.93v11.05h1v-11.05zM765 547.98v5.52h1v-5.52zM772 536.93v5.52h1v-5.52z"/>
<path fill="#42fb09" d="M763 547.98v5.52h1v-5.52z"/>
<path fill="#27fa0a" d="M765 542.45v5.53h1v-5.53zM766 547.98v5.52h1v-5.52z"/>
<path fill="#30fa09" d="M766 542.45v5.53h1v-5.53z"/>
<path fill="#22f111" d="M768 536.93v5.52h1v-5.52z"/>
<path fill="#7ffc06" d="M768 542.45v5.53h1v-5.53zM773 547.98v5.52h1v-5.52zM774 547.98v5.52h1v-5.52z"/>
<path fill="#53fb08" d="M768 547.98v5.52h1v-5.52z"/>
<path fill="#1fe01e" d="M769 542.45v5.53h1v-5.53z"/>
<path fill="#1abd39" d="M772 542.45v5.53h1v-5.53zM773 536.93v11.05h1v-11.05z"/>
<path fill="#abfd04" d="M772 547.98v5.52h1v-5.52z"/>
<path fill="#17aa4a" d="M774 542.45v5.53h1v-5.53z"/>
<rect x="726" y="321.27" width="56" height="0.5" fill="#ffffff" fill-opacity="0.08"/>
<rect x="726" y="326.8" width="56" height="0.5" fill="#ffffff" fill-opacity="0.08"/>
<rect x="726" y="332.32" width="56" height="0.5" fill="#ffffff" fill-opacity="0.08"/>
<rect x="726" y="337.84" width="56" height="0.5" fill="#ffffff" fill-opacity="0.08"/>
<rect x="726" y="343.37" width="56" height="0.5" fill="#ffffff" fill-opacity="0.08"/>
<rect x="726" y="348.89" width="56" height="0.5" fill="#ffffff" fill-opacity="0.08"/>
<rect x="726" y="354.41" width="56" height="0.5" fill="#ffffff" fill-opacity="0.08"/>
<rect x="726" y="359.94" width="56" height="0.5" fill="#ffffff" fill-opacity="0.08"/>
<rect x="726" y="365.46" width="56" height="0.5" fill="#ffffff" fill-opacity="0.08"/>
<rect x="726" y="370.98" width="56" height="0.5" fill="#ffffff" fill-opacity="0.08"/>
<rect x="726" y="376.51" width="56" height="0.5" fill="#ffffff" fill-opacity="0.08"/>
<rect x="726" y="382.03" width="56" height="0.5" fill="#ffffff" fill-opacity="0.08"/>
<rect x="726" y="387.55" width="56" height="0.5" fill="#ffffff" fill-opacity="0.08"/>
<rect x="726" y="393.08" width="56" height="0.5" fill="#ffffff" fill-opacity="0.08"/>
<rect x="726" y="398.6" width="56" height="0.5" fill="#ffffff" fill-opacity="0.08"/>
<rect x="726" y="404.12" width="56" height="0.5" fill="#ffffff" fill-opacity="0.08"/>
<rect x="726" y="409.65" width="56" height="0.5" fill="#ffffff" fill-opacity="0.08"/>
<rect x="726" y="415.17" width="56" height="0.5" fill="#ffffff" fill-opacity="0.08"/>
<rect x="726" y="420.69" width="56" height="0.5" fill="#ffffff" fill-opacity="0.08"/>
<rect x="726" y="426.22" width="56" height="0.5" fill="#ffffff" fill-opacity="0.08"/>
<rect x="726" y="431.74" width="56" height="0.5" fill="#ffffff" fill-opacity="0.08"/>
<rect x="726" y="437.26" width="56" height="0.5" fill="#ffffff" fill-opacity="0.08"/>
<rect x="726" y="442.78" width="56" height="0.5" fill="#ffffff" fill-opacity="0.08"/>
<rect x="726" y="448.31" width="56" height="0.5" fill="#ffffff" fill-opacity="0.08"/>
<rect x="726" y="453.83" width="56" height="0.5" fill="#ffffff" fill-opacity="0.08"/>
<rect x="726" y="459.35" width="56" height="0.5" fill="#ffffff" fill-opacity="0.08"/>
<rect x="726" y="464.88" width="56" height="0.5" fill="#ffffff" fill-opacity="0.08"/>
<rect x="726" y="470.4" width="56" height="0.5" fill="#ffffff" fill-opacity="0.08"/>
<rect x="726" y="475.92" width="56" height="0.5" fill="#ffffff" fill-opacity="0.08"/>
<rect x="726" y="481.45" width="56" height="0.5" fill="#ffffff" fill-opacity="0.08"/>
<rect x="726" y="486.97" width="56" height="0.5" fill="#ffffff" fill-opacity="0.08"/>
<rect x="726" y="492.49" width="56" height="0.5" fill="#ffffff" fill-opacity="0.08"/>
<rect x="726" y="498.02" width="56" height="0.5" fill="#ffffff" fill-opacity="0.08"/>
<rect x="726" y="503.54" width="56" height="0.5" fill="#ffffff" fill-opacity="0.08"/>
<rect x="726" y="509.06" width="56" height="0.5" fill="#ffffff" fill-opacity="0.08"/>
<rect x="726" y="514.59" width="56" height="0.5" fill="#ffffff" fill-opacity="0.08"/>
<rect x="726" y="520.11" width="56" height="0.5" fill="#ffffff" fill-opacity="0.08"/>
<rect x="726" y="525.63" width="56" height="0.5" fill="#ffffff" fill-opacity="0.08"/>
<rect x="726" y="531.16" width="56" height="0.5" fill="#ffffff" fill-opacity="0.08"/>
<rect x="726" y="536.68" width="56" height="0.5" fill="#ffffff" fill-opacity="0.08"/>
<rect x="726" y="542.2" width="56" height="0.5" fill="#ffffff" fill-opacity="0.08"/>
<rect x="726" y="547.73" width="56" height="0.5" fill="#ffffff" fill-opacity="0.08"/>
<rect x="725" y="316" width="1" height="160" fill="#0828d8"/>
<rect x="725" y="476" width="1" height="77.5" fill="#0000ff"/>
<g font-family="'DejaVu Sans Condensed','DejaVu Sans',sans-serif" font-size="35.8" font-weight="bold" fill="#000" opacity="0.255">
<text x="125" y="453.5" textLength="170" lengthAdjust="spacingAndGlyphs">Institute</text>
<text x="303.3" y="453.5" textLength="41.7" lengthAdjust="spacingAndGlyphs">of</text>
<text x="352.5" y="453.5" textLength="226.5" lengthAdjust="spacingAndGlyphs">ionosphere,</text>
<text x="585.5" y="453.5" textLength="149.5" lengthAdjust="spacingAndGlyphs">Kharkiv</text>
</g>
<rect x="78" y="609" width="696" height="15" fill="#000"/>
<rect x="79" y="610" width="694" height="13" fill="url(#gT)"/>
<rect x="193" y="610" width="1" height="3" fill="#000"/>
<rect x="193" y="620" width="1" height="3" fill="#000"/>
<rect x="309" y="610" width="1" height="3" fill="#000"/>
<rect x="309" y="620" width="1" height="3" fill="#000"/>
<rect x="425" y="610" width="1" height="3" fill="#000"/>
<rect x="425" y="620" width="1" height="3" fill="#000"/>
<rect x="541" y="610" width="1" height="3" fill="#000"/>
<rect x="541" y="620" width="1" height="3" fill="#000"/>
<rect x="657" y="610" width="1" height="3" fill="#000"/>
<rect x="657" y="620" width="1" height="3" fill="#000"/>
<rect x="772" y="610" width="1" height="3" fill="#000"/>
<rect x="772" y="620" width="1" height="3" fill="#000"/>
<text x="77.5" y="647" class="d" font-size="15.5" text-anchor="middle">500</text>
<text x="193.33" y="647" class="d" font-size="15.5" text-anchor="middle">1000</text>
<text x="309.16" y="647" class="d" font-size="15.5" text-anchor="middle">1500</text>
<text x="424.99" y="647" class="d" font-size="15.5" text-anchor="middle">2000</text>
<text x="540.82" y="647" class="d" font-size="15.5" text-anchor="middle">2500</text>
<text x="656.65" y="647" class="d" font-size="15.5" text-anchor="middle">3000</text>
<text x="772.48" y="647" class="d" font-size="15.5" text-anchor="middle">3500</text>
<text x="427.3" y="663.3" class="u" font-size="16" text-anchor="middle" textLength="109.5" lengthAdjust="spacingAndGlyphs">temperature, K</text>
<text x="629.5" y="693.4" class="u" font-size="16" textLength="114.3" lengthAdjust="spacingAndGlyphs">electron density</text>
<rect x="80" y="694" width="703" height="1" fill="#000"/>
<rect x="80" y="934" width="703" height="1" fill="#000"/>
<rect x="80" y="694" width="1" height="241" fill="#000"/>
<rect x="782" y="694" width="1" height="241" fill="#000"/>
<text x="82.2" y="959.1" class="u" font-size="16" text-anchor="middle" textLength="8.6" lengthAdjust="spacingAndGlyphs">0</text>
<rect x="109" y="930" width="1" height="4" fill="#000"/>
<rect x="109" y="695" width="1" height="4" fill="#000"/>
<rect x="138" y="926" width="1" height="8" fill="#000"/>
<rect x="138" y="695" width="1" height="8" fill="#000"/>
<text x="140.7" y="959.1" class="u" font-size="16" text-anchor="middle" textLength="8.6" lengthAdjust="spacingAndGlyphs">2</text>
<rect x="168" y="930" width="1" height="4" fill="#000"/>
<rect x="168" y="695" width="1" height="4" fill="#000"/>
<rect x="197" y="926" width="1" height="8" fill="#000"/>
<rect x="197" y="695" width="1" height="8" fill="#000"/>
<text x="199.2" y="959.1" class="u" font-size="16" text-anchor="middle" textLength="8.6" lengthAdjust="spacingAndGlyphs">4</text>
<rect x="226" y="930" width="1" height="4" fill="#000"/>
<rect x="226" y="695" width="1" height="4" fill="#000"/>
<rect x="255" y="926" width="1" height="8" fill="#000"/>
<rect x="255" y="695" width="1" height="8" fill="#000"/>
<text x="257.7" y="959.1" class="u" font-size="16" text-anchor="middle" textLength="8.6" lengthAdjust="spacingAndGlyphs">6</text>
<rect x="284" y="930" width="1" height="4" fill="#000"/>
<rect x="284" y="695" width="1" height="4" fill="#000"/>
<rect x="314" y="926" width="1" height="8" fill="#000"/>
<rect x="314" y="695" width="1" height="8" fill="#000"/>
<text x="316.2" y="959.1" class="u" font-size="16" text-anchor="middle" textLength="8.6" lengthAdjust="spacingAndGlyphs">8</text>
<rect x="343" y="930" width="1" height="4" fill="#000"/>
<rect x="343" y="695" width="1" height="4" fill="#000"/>
<rect x="372" y="926" width="1" height="8" fill="#000"/>
<rect x="372" y="695" width="1" height="8" fill="#000"/>
<text x="374.7" y="959.1" class="u" font-size="16" text-anchor="middle" textLength="17.8" lengthAdjust="spacingAndGlyphs">10</text>
<rect x="402" y="930" width="1" height="4" fill="#000"/>
<rect x="402" y="695" width="1" height="4" fill="#000"/>
<rect x="431" y="926" width="1" height="8" fill="#000"/>
<rect x="431" y="695" width="1" height="8" fill="#000"/>
<text x="433.2" y="959.1" class="u" font-size="16" text-anchor="middle" textLength="17.8" lengthAdjust="spacingAndGlyphs">12</text>
<rect x="460" y="930" width="1" height="4" fill="#000"/>
<rect x="460" y="695" width="1" height="4" fill="#000"/>
<rect x="489" y="926" width="1" height="8" fill="#000"/>
<rect x="489" y="695" width="1" height="8" fill="#000"/>
<text x="491.7" y="959.1" class="u" font-size="16" text-anchor="middle" textLength="17.8" lengthAdjust="spacingAndGlyphs">14</text>
<rect x="518" y="930" width="1" height="4" fill="#000"/>
<rect x="518" y="695" width="1" height="4" fill="#000"/>
<rect x="548" y="926" width="1" height="8" fill="#000"/>
<rect x="548" y="695" width="1" height="8" fill="#000"/>
<text x="550.2" y="959.1" class="u" font-size="16" text-anchor="middle" textLength="17.8" lengthAdjust="spacingAndGlyphs">16</text>
<rect x="577" y="930" width="1" height="4" fill="#000"/>
<rect x="577" y="695" width="1" height="4" fill="#000"/>
<rect x="606" y="926" width="1" height="8" fill="#000"/>
<rect x="606" y="695" width="1" height="8" fill="#000"/>
<text x="608.7" y="959.1" class="u" font-size="16" text-anchor="middle" textLength="17.8" lengthAdjust="spacingAndGlyphs">18</text>
<rect x="636" y="930" width="1" height="4" fill="#000"/>
<rect x="636" y="695" width="1" height="4" fill="#000"/>
<rect x="665" y="926" width="1" height="8" fill="#000"/>
<rect x="665" y="695" width="1" height="8" fill="#000"/>
<text x="667.2" y="959.1" class="u" font-size="16" text-anchor="middle" textLength="17.8" lengthAdjust="spacingAndGlyphs">20</text>
<rect x="694" y="930" width="1" height="4" fill="#000"/>
<rect x="694" y="695" width="1" height="4" fill="#000"/>
<rect x="723" y="926" width="1" height="8" fill="#000"/>
<rect x="723" y="695" width="1" height="8" fill="#000"/>
<text x="725.7" y="959.1" class="u" font-size="16" text-anchor="middle" textLength="17.8" lengthAdjust="spacingAndGlyphs">22</text>
<rect x="752" y="930" width="1" height="4" fill="#000"/>
<rect x="752" y="695" width="1" height="4" fill="#000"/>
<text x="784.2" y="959.1" class="u" font-size="16" text-anchor="middle" textLength="17.8" lengthAdjust="spacingAndGlyphs">24</text>
<text x="71.3" y="939.9" class="u" font-size="16" text-anchor="end" textLength="27" lengthAdjust="spacingAndGlyphs">200</text>
<rect x="81" y="874" width="8" height="1" fill="#000"/>
<rect x="774" y="874" width="8" height="1" fill="#000"/>
<text x="71.3" y="879.9" class="u" font-size="16" text-anchor="end" textLength="27" lengthAdjust="spacingAndGlyphs">250</text>
<rect x="81" y="814" width="8" height="1" fill="#000"/>
<rect x="774" y="814" width="8" height="1" fill="#000"/>
<text x="71.3" y="819.9" class="u" font-size="16" text-anchor="end" textLength="27" lengthAdjust="spacingAndGlyphs">300</text>
<rect x="81" y="754" width="8" height="1" fill="#000"/>
<rect x="774" y="754" width="8" height="1" fill="#000"/>
<text x="71.3" y="759.9" class="u" font-size="16" text-anchor="end" textLength="27" lengthAdjust="spacingAndGlyphs">350</text>
<text x="71.3" y="699.9" class="u" font-size="16" text-anchor="end" textLength="27" lengthAdjust="spacingAndGlyphs">400</text>
<text x="439" y="977.8" class="u" font-size="16" text-anchor="middle" textLength="44.5" lengthAdjust="spacingAndGlyphs">EET, h</text>
<text x="26.8" y="816.2" class="u" font-size="16.8" text-anchor="middle" textLength="84.5" lengthAdjust="spacingAndGlyphs" transform="rotate(-90 26.8 816.2)">altitude, km</text>
<rect x="726" y="695" width="56" height="237.5" fill="#fff"/>
<path fill="#b9ff00" d="M726 695v5.52h1v-5.52zM727 695v5.52h1v-5.52zM730 695v5.52h1v-5.52zM732 700.52v5.53h1v-5.53zM732 844.13v5.52h1v-5.52zM733 695v5.52h1v-5.52zM733 844.13v5.52h1v-5.52zM735 695v5.52h1v-5.52zM737 700.52v5.53h1v-5.53zM737 844.13v5.52h1v-5.52zM738 695v5.52h1v-5.52zM738 844.13v5.52h1v-5.52zM739 700.52v5.53h1v-5.53zM739 844.13v5.52h1v-5.52zM740 695v5.52h1v-5.52zM741 695v5.52h1v-5.52zM742 700.52v5.53h1v-5.53zM743 700.52v5.53h1v-5.53zM744 700.52v5.53h1v-5.53zM745 695v5.52h1v-5.52zM745 844.13v5.52h1v-5.52zM746 695v5.52h1v-5.52zM746 844.13v5.52h1v-5.52zM747 706.05v5.52h1v-5.52zM747 838.6v5.53h1v-5.53zM748 700.52v5.53h1v-5.53zM749 711.57v5.52h1v-5.52zM750 700.52v11.05h1v-11.05zM750 838.6v5.53h1v-5.53zM751 711.57v11.05h1v-11.05zM751 833.08v5.52h1v-5.52zM752 717.09v5.53h1v-5.53zM752 833.08v5.52h1v-5.52zM753 706.05v5.52h1v-5.52zM753 838.6v5.53h1v-5.53zM754 717.09v5.53h1v-5.53zM754 833.08v5.52h1v-5.52zM755 717.09v11.05h1v-11.05zM756 706.05v11.04h1v-11.04zM757 711.57v5.52h1v-5.52zM757 833.08v5.52h1v-5.52zM758 722.62v5.52h1v-5.52zM758 827.56v5.52h1v-5.52zM759 711.57v11.05h1v-11.05zM759 833.08v5.52h1v-5.52zM760 722.62v5.52h1v-5.52zM760 827.56v5.52h1v-5.52zM761 722.62v5.52h1v-5.52zM761 827.56v5.52h1v-5.52zM762 728.14v16.57h1v-16.57zM762 816.51v11.05h1v-11.05zM763 717.09v11.05h1v-11.05zM763 827.56v5.52h1v-5.52zM764 728.14v11.05h1v-11.05zM764 822.03v5.53h1v-5.53zM765 722.62v11.04h1v-11.04zM765 822.03v5.53h1v-5.53zM766 728.14v11.05h1v-11.05zM766 822.03v5.53h1v-5.53zM767 744.71v11.05h1v-11.05zM767 810.99v5.52h1v-5.52zM768 744.71v11.05h1v-11.05zM768 805.47v11.04h1v-11.04zM769 750.23v16.57h1v-16.57zM769 805.47v5.52h1v-5.52zM770 755.76v55.23h1v-55.23zM771 761.28v44.19h1v-44.19zM772 755.76v49.71h1v-49.71zM773 750.23v16.57h1v-16.57zM773 805.47v5.52h1v-5.52zM775 755.76v49.71h1v-49.71zM776 766.8v38.67h1v-38.67zM777 766.8v38.67h1v-38.67zM778 755.76v11.04h1v-11.04zM778 805.47v5.52h1v-5.52zM779 761.28v44.19h1v-44.19zM780 766.8v38.67h1v-38.67zM781 761.28v44.19h1v-44.19z"/>
<path fill="#c5ff00" d="M726 700.52v5.53h1v-5.53zM726 844.13v5.52h1v-5.52zM727 700.52v5.53h1v-5.53zM727 844.13v5.52h1v-5.52zM728 695v11.05h1v-11.05zM728 844.13v5.52h1v-5.52zM729 695v5.52h1v-5.52zM729 844.13v5.52h1v-5.52zM730 700.52v5.53h1v-5.53zM730 844.13v5.52h1v-5.52zM731 695v5.52h1v-5.52zM731 844.13v5.52h1v-5.52zM732 706.05v11.04h1v-11.04zM732 838.6v5.53h1v-5.53zM733 700.52v5.53h1v-5.53zM734 695v5.52h1v-5.52zM734 844.13v5.52h1v-5.52zM735 700.52v5.53h1v-5.53zM735 844.13v5.52h1v-5.52zM736 695v5.52h1v-5.52zM736 844.13v5.52h1v-5.52zM737 706.05v5.52h1v-5.52zM737 838.6v5.53h1v-5.53zM738 700.52v5.53h1v-5.53zM739 706.05v5.52h1v-5.52zM740 700.52v5.53h1v-5.53zM740 844.13v5.52h1v-5.52zM741 700.52v5.53h1v-5.53zM741 844.13v5.52h1v-5.52zM742 706.05v11.04h1v-11.04zM742 838.6v5.53h1v-5.53zM743 706.05v5.52h1v-5.52zM743 838.6v5.53h1v-5.53zM744 706.05v11.04h1v-11.04zM744 838.6v5.53h1v-5.53zM745 700.52v5.53h1v-5.53zM746 700.52v11.05h1v-11.05zM746 838.6v5.53h1v-5.53zM747 711.57v11.05h1v-11.05zM747 833.08v5.52h1v-5.52zM748 706.05v5.52h1v-5.52zM748 838.6v5.53h1v-5.53zM749 717.09v5.53h1v-5.53zM749 833.08v5.52h1v-5.52zM750 711.57v5.52h1v-5.52zM751 722.62v5.52h1v-5.52zM752 722.62v11.04h1v-11.04zM752 827.56v5.52h1v-5.52zM753 711.57v5.52h1v-5.52zM753 833.08v5.52h1v-5.52zM754 722.62v11.04h1v-11.04zM754 827.56v5.52h1v-5.52zM755 728.14v5.52h1v-5.52zM755 827.56v5.52h1v-5.52zM756 717.09v5.53h1v-5.53zM756 833.08v5.52h1v-5.52zM757 717.09v11.05h1v-11.05zM757 827.56v5.52h1v-5.52zM758 728.14v16.57h1v-16.57zM758 822.03v5.53h1v-5.53zM759 722.62v5.52h1v-5.52zM759 827.56v5.52h1v-5.52zM760 728.14v16.57h1v-16.57zM760 822.03v5.53h1v-5.53zM761 728.14v16.57h1v-16.57zM761 822.03v5.53h1v-5.53zM762 744.71v16.57h1v-16.57zM762 805.47v11.04h1v-11.04zM763 728.14v11.05h1v-11.05zM763 822.03v5.53h1v-5.53zM764 739.19v11.04h1v-11.04zM764 810.99v11.04h1v-11.04zM765 733.66v11.05h1v-11.05zM765 816.51v5.52h1v-5.52zM766 739.19v11.04h1v-11.04zM766 810.99v11.04h1v-11.04zM767 755.76v55.23h1v-55.23zM768 755.76v49.71h1v-49.71zM769 766.8v38.67h1v-38.67zM773 766.8v38.67h1v-38.67zM778 766.8v38.67h1v-38.67z"/>
<path fill="#d1ff00" d="M726 706.05v5.52h1v-5.52zM726 838.6v5.53h1v-5.53zM727 706.05v5.52h1v-5.52zM728 706.05v5.52h1v-5.52zM729 700.52v11.05h1v-11.05zM730 706.05v5.52h1v-5.52zM731 700.52v11.05h1v-11.05zM732 717.09v5.53h1v-5.53zM733 706.05v11.04h1v-11.04zM733 838.6v5.53h1v-5.53zM734 700.52v11.05h1v-11.05zM735 706.05v5.52h1v-5.52zM735 838.6v5.53h1v-5.53zM736 700.52v11.05h1v-11.05zM737 711.57v11.05h1v-11.05zM738 706.05v11.04h1v-11.04zM738 838.6v5.53h1v-5.53zM739 711.57v5.52h1v-5.52zM739 838.6v5.53h1v-5.53zM740 706.05v11.04h1v-11.04zM740 838.6v5.53h1v-5.53zM741 706.05v5.52h1v-5.52zM741 838.6v5.53h1v-5.53zM742 717.09v5.53h1v-5.53zM743 711.57v11.05h1v-11.05zM744 717.09v5.53h1v-5.53zM745 706.05v5.52h1v-5.52zM745 838.6v5.53h1v-5.53zM746 711.57v5.52h1v-5.52zM747 722.62v5.52h1v-5.52zM748 711.57v11.05h1v-11.05zM748 833.08v5.52h1v-5.52zM749 722.62v11.04h1v-11.04zM749 827.56v5.52h1v-5.52zM750 717.09v11.05h1v-11.05zM750 833.08v5.52h1v-5.52zM751 728.14v11.05h1v-11.05zM751 827.56v5.52h1v-5.52zM752 733.66v16.57h1v-16.57zM752 822.03v5.53h1v-5.53zM753 717.09v11.05h1v-11.05zM754 733.66v16.57h1v-16.57zM754 822.03v5.53h1v-5.53zM755 733.66v16.57h1v-16.57zM755 816.51v11.05h1v-11.05zM756 722.62v11.04h1v-11.04zM756 827.56v5.52h1v-5.52zM757 728.14v11.05h1v-11.05zM758 744.71v16.57h1v-16.57zM758 810.99v11.04h1v-11.04zM759 728.14v16.57h1v-16.57zM759 822.03v5.53h1v-5.53zM760 744.71v11.05h1v-11.05zM760 810.99v11.04h1v-11.04zM761 744.71v11.05h1v-11.05zM761 810.99v11.04h1v-11.04zM762 761.28v44.19h1v-44.19zM763 739.19v16.57h1v-16.57zM763 810.99v11.04h1v-11.04zM764 750.23v16.57h1v-16.57zM764 805.47v5.52h1v-5.52zM765 744.71v16.57h1v-16.57zM765 805.47v11.04h1v-11.04zM766 750.23v16.57h1v-16.57zM766 805.47v5.52h1v-5.52z"/>
<path fill="#dcff00" d="M726 711.57v11.05h1v-11.05zM727 711.57v5.52h1v-5.52zM727 838.6v5.53h1v-5.53zM728 711.57v5.52h1v-5.52zM728 838.6v5.53h1v-5.53zM729 711.57v5.52h1v-5.52zM729 838.6v5.53h1v-5.53zM730 711.57v5.52h1v-5.52zM730 838.6v5.53h1v-5.53zM731 711.57v5.52h1v-5.52zM731 838.6v5.53h1v-5.53zM732 722.62v5.52h1v-5.52zM732 833.08v5.52h1v-5.52zM733 717.09v5.53h1v-5.53zM734 711.57v5.52h1v-5.52zM734 838.6v5.53h1v-5.53zM735 711.57v11.05h1v-11.05zM736 711.57v5.52h1v-5.52zM736 838.6v5.53h1v-5.53zM737 722.62v5.52h1v-5.52zM737 833.08v5.52h1v-5.52zM738 717.09v5.53h1v-5.53zM739 717.09v11.05h1v-11.05zM739 833.08v5.52h1v-5.52zM740 717.09v5.53h1v-5.53zM741 711.57v11.05h1v-11.05zM742 722.62v5.52h1v-5.52zM742 833.08v5.52h1v-5.52zM743 722.62v5.52h1v-5.52zM743 833.08v5.52h1v-5.52zM744 722.62v5.52h1v-5.52zM744 833.08v5.52h1v-5.52zM745 711.57v11.05h1v-11.05zM746 717.09v5.53h1v-5.53zM746 833.08v5.52h1v-5.52zM747 728.14v11.05h1v-11.05zM747 827.56v5.52h1v-5.52zM748 722.62v5.52h1v-5.52zM749 733.66v16.57h1v-16.57zM750 728.14v11.05h1v-11.05zM750 827.56v5.52h1v-5.52zM751 739.19v16.57h1v-16.57zM751 816.51v11.05h1v-11.05zM752 750.23v16.57h1v-16.57zM752 805.47v16.56h1v-16.56zM753 728.14v11.05h1v-11.05zM753 827.56v5.52h1v-5.52zM754 750.23v16.57h1v-16.57zM754 805.47v16.56h1v-16.56zM755 750.23v66.28h1v-66.28zM756 733.66v11.05h1v-11.05zM756 822.03v5.53h1v-5.53zM757 739.19v16.57h1v-16.57zM757 810.99v16.57h1v-16.57zM758 761.28v49.71h1v-49.71zM759 744.71v11.05h1v-11.05zM759 810.99v11.04h1v-11.04zM760 755.76v55.23h1v-55.23zM761 755.76v55.23h1v-55.23zM763 755.76v55.23h1v-55.23zM764 766.8v38.67h1v-38.67zM765 761.28v44.19h1v-44.19zM766 766.8v38.67h1v-38.67z"/>
<path fill="#e8ff00" d="M726 722.62v5.52h1v-5.52zM726 833.08v5.52h1v-5.52zM727 717.09v11.05h1v-11.05zM727 833.08v5.52h1v-5.52zM728 717.09v5.53h1v-5.53zM728 833.08v5.52h1v-5.52zM729 717.09v5.53h1v-5.53zM730 717.09v11.05h1v-11.05zM730 833.08v5.52h1v-5.52zM731 717.09v5.53h1v-5.53zM731 833.08v5.52h1v-5.52zM732 728.14v11.05h1v-11.05zM732 827.56v5.52h1v-5.52zM733 722.62v5.52h1v-5.52zM733 833.08v5.52h1v-5.52zM734 717.09v5.53h1v-5.53zM735 722.62v5.52h1v-5.52zM735 833.08v5.52h1v-5.52zM736 717.09v5.53h1v-5.53zM736 833.08v5.52h1v-5.52zM737 728.14v11.05h1v-11.05zM737 827.56v5.52h1v-5.52zM738 722.62v5.52h1v-5.52zM738 833.08v5.52h1v-5.52zM739 728.14v5.52h1v-5.52zM740 722.62v5.52h1v-5.52zM740 833.08v5.52h1v-5.52zM741 722.62v5.52h1v-5.52zM741 833.08v5.52h1v-5.52zM742 728.14v16.57h1v-16.57zM742 827.56v5.52h1v-5.52zM743 728.14v11.05h1v-11.05zM743 827.56v5.52h1v-5.52zM744 728.14v16.57h1v-16.57zM744 827.56v5.52h1v-5.52zM745 722.62v5.52h1v-5.52zM745 833.08v5.52h1v-5.52zM746 722.62v11.04h1v-11.04zM746 827.56v5.52h1v-5.52zM747 739.19v22.09h1v-22.09zM747 816.51v11.05h1v-11.05zM748 728.14v11.05h1v-11.05zM748 827.56v5.52h1v-5.52zM749 750.23v77.33h1v-77.33zM750 739.19v16.57h1v-16.57zM750 822.03v5.53h1v-5.53zM751 755.76v60.75h1v-60.75zM752 766.8v38.67h1v-38.67zM753 739.19v16.57h1v-16.57zM753 810.99v16.57h1v-16.57zM754 766.8v38.67h1v-38.67zM756 744.71v16.57h1v-16.57zM756 805.47v16.56h1v-16.56zM757 755.76v55.23h1v-55.23zM759 755.76v55.23h1v-55.23z"/>
<path fill="#f3ff00" d="M726 728.14v11.05h1v-11.05zM726 827.56v5.52h1v-5.52zM727 728.14v5.52h1v-5.52zM728 722.62v11.04h1v-11.04zM729 722.62v5.52h1v-5.52zM729 833.08v5.52h1v-5.52zM730 728.14v5.52h1v-5.52zM731 722.62v5.52h1v-5.52zM732 739.19v22.09h1v-22.09zM733 728.14v16.57h1v-16.57zM733 827.56v5.52h1v-5.52zM734 722.62v5.52h1v-5.52zM734 833.08v5.52h1v-5.52zM735 728.14v11.05h1v-11.05zM736 722.62v5.52h1v-5.52zM737 739.19v22.09h1v-22.09zM738 728.14v16.57h1v-16.57zM738 827.56v5.52h1v-5.52zM739 733.66v22.1h1v-22.1zM739 827.56v5.52h1v-5.52zM740 728.14v11.05h1v-11.05zM740 827.56v5.52h1v-5.52zM741 728.14v11.05h1v-11.05zM741 827.56v5.52h1v-5.52zM742 744.71v22.09h1v-22.09zM743 739.19v22.09h1v-22.09zM744 744.71v16.57h1v-16.57zM744 822.03v5.53h1v-5.53zM745 728.14v16.57h1v-16.57zM745 827.56v5.52h1v-5.52zM746 733.66v16.57h1v-16.57zM747 761.28v55.23h1v-55.23zM748 739.19v22.09h1v-22.09zM748 816.51v11.05h1v-11.05zM750 755.76v66.27h1v-66.27zM753 755.76v55.23h1v-55.23zM756 761.28v44.19h1v-44.19z"/>
<path fill="#ffff00" d="M726 739.19v22.09h1v-22.09zM727 733.66v22.1h1v-22.1zM727 827.56v5.52h1v-5.52zM728 733.66v16.57h1v-16.57zM728 827.56v5.52h1v-5.52zM729 728.14v16.57h1v-16.57zM729 827.56v5.52h1v-5.52zM730 733.66v22.1h1v-22.1zM730 827.56v5.52h1v-5.52zM731 728.14v16.57h1v-16.57zM731 827.56v5.52h1v-5.52zM732 761.28v66.28h1v-66.28zM733 744.71v22.09h1v-22.09zM734 728.14v16.57h1v-16.57zM734 827.56v5.52h1v-5.52zM735 739.19v16.57h1v-16.57zM735 827.56v5.52h1v-5.52zM736 728.14v16.57h1v-16.57zM736 827.56v5.52h1v-5.52zM737 761.28v66.28h1v-66.28zM738 744.71v22.09h1v-22.09zM739 755.76v71.8h1v-71.8zM740 739.19v22.09h1v-22.09zM741 739.19v22.09h1v-22.09zM742 766.8v60.76h1v-60.76zM743 761.28v66.28h1v-66.28zM744 761.28v60.75h1v-60.75zM745 744.71v16.57h1v-16.57zM745 816.51v11.05h1v-11.05zM746 750.23v77.33h1v-77.33zM748 761.28v55.23h1v-55.23z"/>
<path fill="#fffa00" d="M726 761.28v66.28h1v-66.28zM727 755.76v71.8h1v-71.8zM728 750.23v77.33h1v-77.33zM729 744.71v22.09h1v-22.09zM730 755.76v71.8h1v-71.8zM731 744.71v22.09h1v-22.09zM733 766.8v60.76h1v-60.76zM734 744.71v22.09h1v-22.09zM735 755.76v71.8h1v-71.8zM736 744.71v82.85h1v-82.85zM738 766.8v60.76h1v-60.76zM740 761.28v66.28h1v-66.28zM741 761.28v66.28h1v-66.28zM745 761.28v55.23h1v-55.23z"/>
<path fill="#aeff00" d="M726 849.65v5.52h1v-5.52zM727 849.65v5.52h1v-5.52zM728 849.65v5.52h1v-5.52zM729 849.65v5.52h1v-5.52zM730 849.65v5.52h1v-5.52zM731 849.65v5.52h1v-5.52zM732 695v5.52h1v-5.52zM734 849.65v5.52h1v-5.52zM735 849.65v5.52h1v-5.52zM736 849.65v5.52h1v-5.52zM737 695v5.52h1v-5.52zM739 695v5.52h1v-5.52zM740 849.65v5.52h1v-5.52zM741 849.65v5.52h1v-5.52zM742 695v5.52h1v-5.52zM742 844.13v5.52h1v-5.52zM743 695v5.52h1v-5.52zM743 844.13v5.52h1v-5.52zM744 695v5.52h1v-5.52zM744 844.13v5.52h1v-5.52zM747 700.52v5.53h1v-5.53zM748 695v5.52h1v-5.52zM748 844.13v5.52h1v-5.52zM749 700.52v11.05h1v-11.05zM749 838.6v5.53h1v-5.53zM750 695v5.52h1v-5.52zM751 706.05v5.52h1v-5.52zM751 838.6v5.53h1v-5.53zM752 706.05v11.04h1v-11.04zM753 695v11.05h1v-11.05zM754 706.05v11.04h1v-11.04zM755 711.57v5.52h1v-5.52zM755 833.08v5.52h1v-5.52zM756 695v11.05h1v-11.05zM756 838.6v5.53h1v-5.53zM757 700.52v11.05h1v-11.05zM757 838.6v5.53h1v-5.53zM758 711.57v11.05h1v-11.05zM758 833.08v5.52h1v-5.52zM759 700.52v11.05h1v-11.05zM760 711.57v11.05h1v-11.05zM760 833.08v5.52h1v-5.52zM761 711.57v11.05h1v-11.05zM761 833.08v5.52h1v-5.52zM762 722.62v5.52h1v-5.52zM762 827.56v5.52h1v-5.52zM763 711.57v5.52h1v-5.52zM763 833.08v5.52h1v-5.52zM764 717.09v11.05h1v-11.05zM764 827.56v5.52h1v-5.52zM765 711.57v11.05h1v-11.05zM765 827.56v5.52h1v-5.52zM766 717.09v11.05h1v-11.05zM766 827.56v5.52h1v-5.52zM767 728.14v16.57h1v-16.57zM767 816.51v5.52h1v-5.52zM768 733.66v11.05h1v-11.05zM768 816.51v5.52h1v-5.52zM769 739.19v11.04h1v-11.04zM769 810.99v5.52h1v-5.52zM770 744.71v11.05h1v-11.05zM770 810.99v5.52h1v-5.52zM771 750.23v11.05h1v-11.05zM771 805.47v5.52h1v-5.52zM772 744.71v11.05h1v-11.05zM772 805.47v11.04h1v-11.04zM773 739.19v11.04h1v-11.04zM773 810.99v5.52h1v-5.52zM774 755.76v49.71h1v-49.71zM775 744.71v11.05h1v-11.05zM775 805.47v11.04h1v-11.04zM776 750.23v16.57h1v-16.57zM776 805.47v5.52h1v-5.52zM777 755.76v11.04h1v-11.04zM777 805.47v5.52h1v-5.52zM778 739.19v16.57h1v-16.57zM778 810.99v5.52h1v-5.52zM779 750.23v11.05h1v-11.05zM779 805.47v5.52h1v-5.52zM780 755.76v11.04h1v-11.04zM780 805.47v5.52h1v-5.52zM781 750.23v11.05h1v-11.05zM781 805.47v5.52h1v-5.52z"/>
<path fill="#97ff00" d="M726 855.17v5.53h1v-5.53zM727 855.17v5.53h1v-5.53zM728 855.17v5.53h1v-5.53zM729 855.17v5.53h1v-5.53zM730 855.17v5.53h1v-5.53zM731 855.17v5.53h1v-5.53zM734 855.17v5.53h1v-5.53zM735 855.17v5.53h1v-5.53zM736 855.17v5.53h1v-5.53zM742 849.65v5.52h1v-5.52zM743 849.65v5.52h1v-5.52zM744 849.65v5.52h1v-5.52zM748 849.65v5.52h1v-5.52zM751 844.13v5.52h1v-5.52zM752 695v5.52h1v-5.52zM752 844.13v5.52h1v-5.52zM754 695v5.52h1v-5.52zM755 695v5.52h1v-5.52zM756 844.13v5.52h1v-5.52zM757 844.13v5.52h1v-5.52zM758 695v11.05h1v-11.05zM758 838.6v5.53h1v-5.53zM760 695v5.52h1v-5.52zM760 838.6v5.53h1v-5.53zM761 695v5.52h1v-5.52zM761 838.6v5.53h1v-5.53zM762 700.52v11.05h1v-11.05zM762 833.08v5.52h1v-5.52zM763 695v5.52h1v-5.52zM763 838.6v5.53h1v-5.53zM764 695v11.05h1v-11.05zM765 695v5.52h1v-5.52zM765 838.6v5.53h1v-5.53zM766 695v11.05h1v-11.05zM767 711.57v11.05h1v-11.05zM767 827.56v5.52h1v-5.52zM768 711.57v11.05h1v-11.05zM768 827.56v5.52h1v-5.52zM769 717.09v11.05h1v-11.05zM769 827.56v5.52h1v-5.52zM770 717.09v11.05h1v-11.05zM770 822.03v5.53h1v-5.53zM771 722.62v11.04h1v-11.04zM771 822.03v5.53h1v-5.53zM772 722.62v11.04h1v-11.04zM772 822.03v5.53h1v-5.53zM773 717.09v11.05h1v-11.05zM773 822.03v5.53h1v-5.53zM774 733.66v11.05h1v-11.05zM774 810.99v11.04h1v-11.04zM775 717.09v11.05h1v-11.05zM775 822.03v5.53h1v-5.53zM776 728.14v11.05h1v-11.05zM776 816.51v5.52h1v-5.52zM777 728.14v11.05h1v-11.05zM777 816.51v5.52h1v-5.52zM778 717.09v11.05h1v-11.05zM778 822.03v5.53h1v-5.53zM779 722.62v16.57h1v-16.57zM779 816.51v5.52h1v-5.52zM780 728.14v11.05h1v-11.05zM780 816.51v5.52h1v-5.52zM781 722.62v16.57h1v-16.57zM781 816.51v5.52h1v-5.52z"/>
<path fill="#74ff00" d="M726 860.7v5.52h1v-5.52zM733 860.7v5.52h1v-5.52zM738 860.7v5.52h1v-5.52zM739 860.7v5.52h1v-5.52zM740 860.7v5.52h1v-5.52zM741 860.7v5.52h1v-5.52zM745 860.7v5.52h1v-5.52zM746 860.7v5.52h1v-5.52zM747 855.17v5.53h1v-5.53zM749 855.17v5.53h1v-5.53zM750 855.17v5.53h1v-5.53zM753 855.17v5.53h1v-5.53zM754 849.65v5.52h1v-5.52zM755 849.65v5.52h1v-5.52zM762 844.13v5.52h1v-5.52zM766 844.13v5.52h1v-5.52zM768 838.6v5.53h1v-5.53zM769 838.6v5.53h1v-5.53zM770 838.6v5.53h1v-5.53zM771 695v5.52h1v-5.52zM773 838.6v5.53h1v-5.53zM774 695v11.05h1v-11.05zM774 833.08v5.52h1v-5.52zM776 695v11.05h1v-11.05zM776 833.08v5.52h1v-5.52zM777 695v11.05h1v-11.05zM777 833.08v5.52h1v-5.52zM778 838.6v5.53h1v-5.53zM779 695v5.52h1v-5.52zM779 833.08v5.52h1v-5.52zM780 695v11.05h1v-11.05zM780 833.08v5.52h1v-5.52zM781 695v5.52h1v-5.52zM781 833.08v5.52h1v-5.52z"/>
<path fill="#5dff00" d="M726 866.22v5.52h1v-5.52zM733 866.22v5.52h1v-5.52zM735 866.22v5.52h1v-5.52zM738 866.22v5.52h1v-5.52zM739 866.22v5.52h1v-5.52zM740 866.22v5.52h1v-5.52zM741 866.22v5.52h1v-5.52zM745 866.22v5.52h1v-5.52zM746 866.22v5.52h1v-5.52zM747 860.7v5.52h1v-5.52zM749 860.7v5.52h1v-5.52zM750 860.7v5.52h1v-5.52zM753 860.7v5.52h1v-5.52zM754 855.17v5.53h1v-5.53zM755 855.17v5.53h1v-5.53zM759 855.17v5.53h1v-5.53zM762 849.65v5.52h1v-5.52zM766 849.65v5.52h1v-5.52zM769 844.13v5.52h1v-5.52zM770 844.13v5.52h1v-5.52zM772 844.13v5.52h1v-5.52zM773 844.13v5.52h1v-5.52zM774 838.6v5.53h1v-5.53zM775 844.13v5.52h1v-5.52zM778 844.13v5.52h1v-5.52z"/>
<path fill="#46ff00" d="M726 871.74v5.53h1v-5.53zM733 871.74v5.53h1v-5.53zM735 871.74v5.53h1v-5.53zM738 871.74v5.53h1v-5.53zM739 871.74v5.53h1v-5.53zM740 871.74v5.53h1v-5.53zM741 871.74v5.53h1v-5.53zM745 871.74v5.53h1v-5.53zM746 871.74v5.53h1v-5.53zM747 866.22v5.52h1v-5.52zM749 866.22v5.52h1v-5.52zM750 866.22v5.52h1v-5.52zM753 866.22v5.52h1v-5.52zM754 860.7v5.52h1v-5.52zM755 860.7v5.52h1v-5.52zM762 855.17v5.53h1v-5.53zM766 855.17v5.53h1v-5.53zM769 849.65v5.52h1v-5.52zM770 849.65v5.52h1v-5.52zM771 849.65v5.52h1v-5.52zM772 849.65v5.52h1v-5.52zM773 849.65v5.52h1v-5.52zM775 849.65v5.52h1v-5.52zM778 849.65v5.52h1v-5.52zM781 849.65v5.52h1v-5.52z"/>
<path fill="#3aff00" d="M726 877.27v5.52h1v-5.52zM727 877.27v5.52h1v-5.52zM728 877.27v5.52h1v-5.52zM729 877.27v5.52h1v-5.52zM730 877.27v5.52h1v-5.52zM731 877.27v5.52h1v-5.52zM732 871.74v5.53h1v-5.53zM734 877.27v5.52h1v-5.52zM735 877.27v5.52h1v-5.52zM736 877.27v5.52h1v-5.52zM737 871.74v5.53h1v-5.53zM741 877.27v5.52h1v-5.52zM742 871.74v5.53h1v-5.53zM743 871.74v5.53h1v-5.53zM744 871.74v5.53h1v-5.53zM745 877.27v5.52h1v-5.52zM748 871.74v5.53h1v-5.53zM750 871.74v5.53h1v-5.53zM751 866.22v5.52h1v-5.52zM752 866.22v5.52h1v-5.52zM756 866.22v5.52h1v-5.52zM757 866.22v5.52h1v-5.52zM758 860.7v5.52h1v-5.52zM759 866.22v5.52h1v-5.52zM760 860.7v5.52h1v-5.52zM761 860.7v5.52h1v-5.52zM763 860.7v5.52h1v-5.52zM764 860.7v5.52h1v-5.52zM765 860.7v5.52h1v-5.52zM766 860.7v5.52h1v-5.52zM767 855.17v5.53h1v-5.53zM768 855.17v5.53h1v-5.53zM774 849.65v5.52h1v-5.52zM776 849.65v5.52h1v-5.52zM777 849.65v5.52h1v-5.52zM779 849.65v5.52h1v-5.52zM780 849.65v5.52h1v-5.52z"/>
<path fill="#23ff00" d="M726 882.79v5.52h1v-5.52zM727 882.79v5.52h1v-5.52zM728 882.79v5.52h1v-5.52zM730 882.79v5.52h1v-5.52zM733 882.79v5.52h1v-5.52zM735 882.79v5.52h1v-5.52zM738 882.79v5.52h1v-5.52zM740 882.79v5.52h1v-5.52zM741 882.79v5.52h1v-5.52zM742 877.27v5.52h1v-5.52zM744 877.27v5.52h1v-5.52zM745 882.79v5.52h1v-5.52zM747 877.27v5.52h1v-5.52zM750 877.27v5.52h1v-5.52zM751 871.74v5.53h1v-5.53zM752 871.74v5.53h1v-5.53zM753 877.27v5.52h1v-5.52zM754 871.74v5.53h1v-5.53zM757 871.74v5.53h1v-5.53zM759 871.74v5.53h1v-5.53zM760 866.22v5.52h1v-5.52zM761 866.22v5.52h1v-5.52zM763 866.22v5.52h1v-5.52zM764 866.22v5.52h1v-5.52zM765 866.22v5.52h1v-5.52zM766 866.22v5.52h1v-5.52zM767 860.7v5.52h1v-5.52zM768 860.7v5.52h1v-5.52zM773 860.7v5.52h1v-5.52zM774 855.17v5.53h1v-5.53zM776 855.17v5.53h1v-5.53zM777 855.17v5.53h1v-5.53zM778 860.7v5.52h1v-5.52zM780 855.17v5.53h1v-5.53z"/>
<path fill="#0cff00" d="M726 888.31v5.53h1v-5.53zM733 888.31v5.53h1v-5.53zM735 888.31v5.53h1v-5.53zM738 888.31v5.53h1v-5.53zM739 888.31v5.53h1v-5.53zM740 888.31v5.53h1v-5.53zM741 888.31v5.53h1v-5.53zM745 888.31v5.53h1v-5.53zM746 888.31v5.53h1v-5.53zM747 882.79v5.52h1v-5.52zM750 882.79v5.52h1v-5.52zM752 877.27v5.52h1v-5.52zM753 882.79v5.52h1v-5.52zM754 877.27v5.52h1v-5.52zM755 877.27v5.52h1v-5.52zM757 877.27v5.52h1v-5.52zM759 877.27v5.52h1v-5.52zM764 871.74v5.53h1v-5.53zM765 871.74v5.53h1v-5.53zM766 871.74v5.53h1v-5.53zM767 866.22v5.52h1v-5.52zM768 866.22v5.52h1v-5.52zM769 866.22v5.52h1v-5.52zM770 866.22v5.52h1v-5.52zM772 866.22v5.52h1v-5.52zM773 866.22v5.52h1v-5.52zM774 860.7v5.52h1v-5.52zM775 866.22v5.52h1v-5.52zM779 866.22v5.52h1v-5.52zM780 866.22v5.52h1v-5.52zM781 866.22v5.52h1v-5.52z"/>
<path fill="#00ff00" d="M726 893.84v5.52h1v-5.52zM727 893.84v5.52h1v-5.52zM728 893.84v5.52h1v-5.52zM729 893.84v5.52h1v-5.52zM730 893.84v5.52h1v-5.52zM731 893.84v5.52h1v-5.52zM732 888.31v5.53h1v-5.53zM734 893.84v5.52h1v-5.52zM735 893.84v5.52h1v-5.52zM736 893.84v5.52h1v-5.52zM737 888.31v5.53h1v-5.53zM742 888.31v5.53h1v-5.53zM743 888.31v5.53h1v-5.53zM744 888.31v5.53h1v-5.53zM748 888.31v5.53h1v-5.53zM749 882.79v5.52h1v-5.52zM751 882.79v5.52h1v-5.52zM756 882.79v5.52h1v-5.52zM758 877.27v5.52h1v-5.52zM760 877.27v5.52h1v-5.52zM761 877.27v5.52h1v-5.52zM762 871.74v5.53h1v-5.53zM763 877.27v5.52h1v-5.52zM771 866.22v5.52h1v-5.52zM774 866.22v5.52h1v-5.52zM776 866.22v5.52h1v-5.52zM777 866.22v5.52h1v-5.52zM778 871.74v5.53h1v-5.53zM779 871.74v5.53h1v-5.53zM781 871.74v5.53h1v-5.53z"/>
<path fill="#00ff1b" d="M726 899.36v5.52h1v-5.52zM733 899.36v5.52h1v-5.52zM735 899.36v5.52h1v-5.52zM738 899.36v5.52h1v-5.52zM740 899.36v5.52h1v-5.52zM741 899.36v5.52h1v-5.52zM742 893.84v5.52h1v-5.52zM743 893.84v5.52h1v-5.52zM744 893.84v5.52h1v-5.52zM745 899.36v5.52h1v-5.52zM748 893.84v5.52h1v-5.52zM749 888.31v5.53h1v-5.53zM751 888.31v5.53h1v-5.53zM756 888.31v5.53h1v-5.53zM758 882.79v5.52h1v-5.52zM760 882.79v5.52h1v-5.52zM762 877.27v5.52h1v-5.52zM767 877.27v5.52h1v-5.52zM768 877.27v5.52h1v-5.52zM771 871.74v5.53h1v-5.53zM773 877.27v5.52h1v-5.52zM774 871.74v5.53h1v-5.53zM775 877.27v5.52h1v-5.52zM779 877.27v5.52h1v-5.52zM780 877.27v5.52h1v-5.52zM781 877.27v5.52h1v-5.52z"/>
<path fill="#00ff29" d="M726 904.88v5.53h1v-5.53zM727 904.88v5.53h1v-5.53zM728 904.88v5.53h1v-5.53zM729 904.88v5.53h1v-5.53zM730 904.88v5.53h1v-5.53zM731 904.88v5.53h1v-5.53zM732 899.36v5.52h1v-5.52zM734 904.88v5.53h1v-5.53zM735 904.88v5.53h1v-5.53zM736 904.88v5.53h1v-5.53zM737 899.36v5.52h1v-5.52zM739 899.36v5.52h1v-5.52zM742 899.36v5.52h1v-5.52zM743 899.36v5.52h1v-5.52zM744 899.36v5.52h1v-5.52zM746 899.36v5.52h1v-5.52zM747 893.84v5.52h1v-5.52zM748 899.36v5.52h1v-5.52zM749 893.84v5.52h1v-5.52zM750 893.84v5.52h1v-5.52zM752 888.31v5.53h1v-5.53zM753 893.84v5.52h1v-5.52zM754 888.31v5.53h1v-5.53zM757 888.31v5.53h1v-5.53zM761 882.79v5.52h1v-5.52zM763 882.79v5.52h1v-5.52zM764 882.79v5.52h1v-5.52zM765 882.79v5.52h1v-5.52zM766 882.79v5.52h1v-5.52zM769 877.27v5.52h1v-5.52zM770 877.27v5.52h1v-5.52zM771 877.27v5.52h1v-5.52zM772 877.27v5.52h1v-5.52zM776 877.27v5.52h1v-5.52zM777 877.27v5.52h1v-5.52zM778 882.79v5.52h1v-5.52zM781 882.79v5.52h1v-5.52z"/>
<path fill="#00ff44" d="M726 910.41v5.52h1v-5.52zM733 910.41v5.52h1v-5.52zM735 910.41v5.52h1v-5.52zM738 910.41v5.52h1v-5.52zM740 910.41v5.52h1v-5.52zM741 910.41v5.52h1v-5.52zM742 904.88v5.53h1v-5.53zM743 904.88v5.53h1v-5.53zM744 904.88v5.53h1v-5.53zM745 910.41v5.52h1v-5.52zM746 904.88v5.53h1v-5.53zM748 904.88v5.53h1v-5.53zM749 899.36v5.52h1v-5.52zM750 899.36v5.52h1v-5.52zM752 893.84v5.52h1v-5.52zM753 899.36v5.52h1v-5.52zM754 893.84v5.52h1v-5.52zM756 893.84v5.52h1v-5.52zM757 893.84v5.52h1v-5.52zM758 888.31v5.53h1v-5.53zM760 888.31v5.53h1v-5.53zM761 888.31v5.53h1v-5.53zM763 888.31v5.53h1v-5.53zM767 882.79v5.52h1v-5.52zM768 882.79v5.52h1v-5.52zM769 882.79v5.52h1v-5.52zM770 882.79v5.52h1v-5.52zM772 882.79v5.52h1v-5.52zM776 882.79v5.52h1v-5.52zM777 882.79v5.52h1v-5.52z"/>
<path fill="#00ff60" d="M726 915.93v5.52h1v-5.52zM733 915.93v5.52h1v-5.52zM735 915.93v5.52h1v-5.52zM738 915.93v5.52h1v-5.52zM740 915.93v5.52h1v-5.52zM741 915.93v5.52h1v-5.52zM745 915.93v5.52h1v-5.52zM748 910.41v5.52h1v-5.52zM749 904.88v5.53h1v-5.53zM752 899.36v5.52h1v-5.52zM753 904.88v5.53h1v-5.53zM754 899.36v5.52h1v-5.52zM756 899.36v5.52h1v-5.52zM758 893.84v5.52h1v-5.52zM760 893.84v5.52h1v-5.52zM773 888.31v5.53h1v-5.53zM775 888.31v5.53h1v-5.53zM776 888.31v5.53h1v-5.53zM777 888.31v5.53h1v-5.53z"/>
<path fill="#00ff7b" d="M726 921.45v5.53h1v-5.53zM733 921.45v5.53h1v-5.53zM735 921.45v5.53h1v-5.53zM738 921.45v5.53h1v-5.53zM740 921.45v5.53h1v-5.53zM741 921.45v5.53h1v-5.53zM748 915.93v5.52h1v-5.52zM749 910.41v5.52h1v-5.52zM752 904.88v5.53h1v-5.53zM753 910.41v5.52h1v-5.52zM754 904.88v5.53h1v-5.53zM756 904.88v5.53h1v-5.53zM758 899.36v5.52h1v-5.52zM762 893.84v5.52h1v-5.52zM764 893.84v5.52h1v-5.52zM766 893.84v5.52h1v-5.52zM775 893.84v5.52h1v-5.52z"/>
<path fill="#00ff96" d="M726 926.98v5.52h1v-5.52zM727 926.98v5.52h1v-5.52zM730 926.98v5.52h1v-5.52zM733 926.98v5.52h1v-5.52zM735 926.98v5.52h1v-5.52zM738 926.98v5.52h1v-5.52zM740 926.98v5.52h1v-5.52zM741 926.98v5.52h1v-5.52zM748 921.45v5.53h1v-5.53zM749 915.93v5.52h1v-5.52zM753 915.93v5.52h1v-5.52zM754 910.41v5.52h1v-5.52zM756 910.41v5.52h1v-5.52zM759 904.88v5.53h1v-5.53zM763 899.36v5.52h1v-5.52zM764 899.36v5.52h1v-5.52zM765 899.36v5.52h1v-5.52zM769 893.84v5.52h1v-5.52zM770 893.84v5.52h1v-5.52zM771 893.84v5.52h1v-5.52zM772 893.84v5.52h1v-5.52zM774 893.84v5.52h1v-5.52zM778 899.36v5.52h1v-5.52zM779 899.36v5.52h1v-5.52zM780 899.36v5.52h1v-5.52z"/>
<path fill="#7fff00" d="M727 860.7v5.52h1v-5.52zM728 860.7v5.52h1v-5.52zM729 860.7v5.52h1v-5.52zM730 860.7v5.52h1v-5.52zM731 860.7v5.52h1v-5.52zM732 855.17v5.53h1v-5.53zM734 860.7v5.52h1v-5.52zM735 860.7v5.52h1v-5.52zM736 860.7v5.52h1v-5.52zM742 855.17v5.53h1v-5.53zM743 855.17v5.53h1v-5.53zM744 855.17v5.53h1v-5.53zM748 855.17v5.53h1v-5.53zM751 849.65v5.52h1v-5.52zM752 849.65v5.52h1v-5.52zM756 849.65v5.52h1v-5.52zM757 849.65v5.52h1v-5.52zM758 844.13v5.52h1v-5.52zM759 849.65v5.52h1v-5.52zM760 844.13v5.52h1v-5.52zM761 844.13v5.52h1v-5.52zM763 844.13v5.52h1v-5.52zM764 844.13v5.52h1v-5.52zM765 844.13v5.52h1v-5.52zM767 695v5.52h1v-5.52zM767 838.6v5.53h1v-5.53zM768 695v5.52h1v-5.52zM769 695v11.05h1v-11.05zM769 833.08v5.52h1v-5.52zM770 695v11.05h1v-11.05zM770 833.08v5.52h1v-5.52zM771 700.52v11.05h1v-11.05zM771 833.08v5.52h1v-5.52zM772 695v16.57h1v-16.57zM772 833.08v5.52h1v-5.52zM773 695v11.05h1v-11.05zM773 833.08v5.52h1v-5.52zM774 706.05v16.57h1v-16.57zM774 827.56v5.52h1v-5.52zM775 695v11.05h1v-11.05zM775 833.08v5.52h1v-5.52zM776 706.05v11.04h1v-11.04zM776 827.56v5.52h1v-5.52zM777 706.05v11.04h1v-11.04zM777 827.56v5.52h1v-5.52zM778 695v11.05h1v-11.05zM778 833.08v5.52h1v-5.52zM779 700.52v11.05h1v-11.05zM779 827.56v5.52h1v-5.52zM780 706.05v11.04h1v-11.04zM780 827.56v5.52h1v-5.52zM781 700.52v11.05h1v-11.05zM781 827.56v5.52h1v-5.52z"/>
<path fill="#68ff00" d="M727 866.22v5.52h1v-5.52zM728 866.22v5.52h1v-5.52zM729 866.22v5.52h1v-5.52zM730 866.22v5.52h1v-5.52zM731 866.22v5.52h1v-5.52zM732 860.7v5.52h1v-5.52zM734 866.22v5.52h1v-5.52zM736 866.22v5.52h1v-5.52zM737 860.7v5.52h1v-5.52zM742 860.7v5.52h1v-5.52zM743 860.7v5.52h1v-5.52zM744 860.7v5.52h1v-5.52zM748 860.7v5.52h1v-5.52zM751 855.17v5.53h1v-5.53zM752 855.17v5.53h1v-5.53zM756 855.17v5.53h1v-5.53zM757 855.17v5.53h1v-5.53zM758 849.65v5.52h1v-5.52zM760 849.65v5.52h1v-5.52zM761 849.65v5.52h1v-5.52zM763 849.65v5.52h1v-5.52zM764 849.65v5.52h1v-5.52zM765 849.65v5.52h1v-5.52zM767 844.13v5.52h1v-5.52zM768 844.13v5.52h1v-5.52zM771 838.6v5.53h1v-5.53zM772 838.6v5.53h1v-5.53zM775 838.6v5.53h1v-5.53zM776 838.6v5.53h1v-5.53zM777 838.6v5.53h1v-5.53zM779 838.6v5.53h1v-5.53zM780 838.6v5.53h1v-5.53zM781 838.6v5.53h1v-5.53z"/>
<path fill="#51ff00" d="M727 871.74v5.53h1v-5.53zM728 871.74v5.53h1v-5.53zM729 871.74v5.53h1v-5.53zM730 871.74v5.53h1v-5.53zM731 871.74v5.53h1v-5.53zM732 866.22v5.52h1v-5.52zM734 871.74v5.53h1v-5.53zM736 871.74v5.53h1v-5.53zM737 866.22v5.52h1v-5.52zM742 866.22v5.52h1v-5.52zM743 866.22v5.52h1v-5.52zM744 866.22v5.52h1v-5.52zM748 866.22v5.52h1v-5.52zM751 860.7v5.52h1v-5.52zM752 860.7v5.52h1v-5.52zM756 860.7v5.52h1v-5.52zM757 860.7v5.52h1v-5.52zM758 855.17v5.53h1v-5.53zM759 860.7v5.52h1v-5.52zM760 855.17v5.53h1v-5.53zM761 855.17v5.53h1v-5.53zM763 855.17v5.53h1v-5.53zM764 855.17v5.53h1v-5.53zM765 855.17v5.53h1v-5.53zM767 849.65v5.52h1v-5.52zM768 849.65v5.52h1v-5.52zM771 844.13v5.52h1v-5.52zM774 844.13v5.52h1v-5.52zM776 844.13v5.52h1v-5.52zM777 844.13v5.52h1v-5.52zM779 844.13v5.52h1v-5.52zM780 844.13v5.52h1v-5.52zM781 844.13v5.52h1v-5.52z"/>
<path fill="#17ff00" d="M727 888.31v5.53h1v-5.53zM728 888.31v5.53h1v-5.53zM729 888.31v5.53h1v-5.53zM730 888.31v5.53h1v-5.53zM731 888.31v5.53h1v-5.53zM732 882.79v5.52h1v-5.52zM734 888.31v5.53h1v-5.53zM736 888.31v5.53h1v-5.53zM737 882.79v5.52h1v-5.52zM739 882.79v5.52h1v-5.52zM742 882.79v5.52h1v-5.52zM743 882.79v5.52h1v-5.52zM744 882.79v5.52h1v-5.52zM746 882.79v5.52h1v-5.52zM748 882.79v5.52h1v-5.52zM749 877.27v5.52h1v-5.52zM751 877.27v5.52h1v-5.52zM755 871.74v5.53h1v-5.53zM756 877.27v5.52h1v-5.52zM758 871.74v5.53h1v-5.53zM760 871.74v5.53h1v-5.53zM761 871.74v5.53h1v-5.53zM762 866.22v5.52h1v-5.52zM763 871.74v5.53h1v-5.53zM769 860.7v5.52h1v-5.52zM770 860.7v5.52h1v-5.52zM771 860.7v5.52h1v-5.52zM772 860.7v5.52h1v-5.52zM775 860.7v5.52h1v-5.52zM776 860.7v5.52h1v-5.52zM777 860.7v5.52h1v-5.52zM778 866.22v5.52h1v-5.52zM779 860.7v5.52h1v-5.52zM780 860.7v5.52h1v-5.52zM781 860.7v5.52h1v-5.52z"/>
<path fill="#00ff0e" d="M727 899.36v5.52h1v-5.52zM728 899.36v5.52h1v-5.52zM729 899.36v5.52h1v-5.52zM730 899.36v5.52h1v-5.52zM731 899.36v5.52h1v-5.52zM732 893.84v5.52h1v-5.52zM733 893.84v5.52h1v-5.52zM734 899.36v5.52h1v-5.52zM736 899.36v5.52h1v-5.52zM737 893.84v5.52h1v-5.52zM738 893.84v5.52h1v-5.52zM739 893.84v5.52h1v-5.52zM740 893.84v5.52h1v-5.52zM741 893.84v5.52h1v-5.52zM745 893.84v5.52h1v-5.52zM746 893.84v5.52h1v-5.52zM747 888.31v5.53h1v-5.53zM750 888.31v5.53h1v-5.53zM752 882.79v5.52h1v-5.52zM753 888.31v5.53h1v-5.53zM754 882.79v5.52h1v-5.52zM755 882.79v5.52h1v-5.52zM757 882.79v5.52h1v-5.52zM759 882.79v5.52h1v-5.52zM764 877.27v5.52h1v-5.52zM765 877.27v5.52h1v-5.52zM766 877.27v5.52h1v-5.52zM767 871.74v5.53h1v-5.53zM768 871.74v5.53h1v-5.53zM769 871.74v5.53h1v-5.53zM770 871.74v5.53h1v-5.53zM772 871.74v5.53h1v-5.53zM773 871.74v5.53h1v-5.53zM775 871.74v5.53h1v-5.53zM776 871.74v5.53h1v-5.53zM777 871.74v5.53h1v-5.53zM778 877.27v5.52h1v-5.52zM780 871.74v5.53h1v-5.53z"/>
<path fill="#00ff37" d="M727 910.41v5.52h1v-5.52zM728 910.41v5.52h1v-5.52zM729 910.41v5.52h1v-5.52zM730 910.41v5.52h1v-5.52zM731 910.41v5.52h1v-5.52zM732 904.88v5.53h1v-5.53zM733 904.88v5.53h1v-5.53zM734 910.41v5.52h1v-5.52zM736 910.41v5.52h1v-5.52zM737 904.88v5.53h1v-5.53zM738 904.88v5.53h1v-5.53zM739 904.88v5.53h1v-5.53zM740 904.88v5.53h1v-5.53zM741 904.88v5.53h1v-5.53zM745 904.88v5.53h1v-5.53zM747 899.36v5.52h1v-5.52zM751 893.84v5.52h1v-5.52zM755 888.31v5.53h1v-5.53zM759 888.31v5.53h1v-5.53zM762 882.79v5.52h1v-5.52zM773 882.79v5.52h1v-5.52zM774 877.27v5.52h1v-5.52zM775 882.79v5.52h1v-5.52zM779 882.79v5.52h1v-5.52zM780 882.79v5.52h1v-5.52z"/>
<path fill="#00ff52" d="M727 915.93v5.52h1v-5.52zM728 915.93v5.52h1v-5.52zM729 915.93v5.52h1v-5.52zM730 915.93v5.52h1v-5.52zM731 915.93v5.52h1v-5.52zM732 910.41v5.52h1v-5.52zM734 915.93v5.52h1v-5.52zM736 915.93v5.52h1v-5.52zM737 910.41v5.52h1v-5.52zM739 910.41v5.52h1v-5.52zM742 910.41v5.52h1v-5.52zM743 910.41v5.52h1v-5.52zM744 910.41v5.52h1v-5.52zM746 910.41v5.52h1v-5.52zM747 904.88v5.53h1v-5.53zM750 904.88v5.53h1v-5.53zM751 899.36v5.52h1v-5.52zM755 893.84v5.52h1v-5.52zM759 893.84v5.52h1v-5.52zM762 888.31v5.53h1v-5.53zM764 888.31v5.53h1v-5.53zM765 888.31v5.53h1v-5.53zM766 888.31v5.53h1v-5.53zM771 882.79v5.52h1v-5.52zM774 882.79v5.52h1v-5.52zM778 888.31v5.53h1v-5.53zM779 888.31v5.53h1v-5.53zM780 888.31v5.53h1v-5.53zM781 888.31v5.53h1v-5.53z"/>
<path fill="#00ff6d" d="M727 921.45v5.53h1v-5.53zM728 921.45v5.53h1v-5.53zM729 921.45v5.53h1v-5.53zM730 921.45v5.53h1v-5.53zM731 921.45v5.53h1v-5.53zM732 915.93v5.52h1v-5.52zM734 921.45v5.53h1v-5.53zM736 921.45v5.53h1v-5.53zM737 915.93v5.52h1v-5.52zM739 915.93v5.52h1v-5.52zM742 915.93v5.52h1v-5.52zM743 915.93v5.52h1v-5.52zM744 915.93v5.52h1v-5.52zM746 915.93v5.52h1v-5.52zM747 910.41v5.52h1v-5.52zM750 910.41v5.52h1v-5.52zM751 904.88v5.53h1v-5.53zM755 899.36v5.52h1v-5.52zM757 899.36v5.52h1v-5.52zM759 899.36v5.52h1v-5.52zM761 893.84v5.52h1v-5.52zM763 893.84v5.52h1v-5.52zM765 893.84v5.52h1v-5.52zM767 888.31v5.53h1v-5.53zM768 888.31v5.53h1v-5.53zM769 888.31v5.53h1v-5.53zM770 888.31v5.53h1v-5.53zM771 888.31v5.53h1v-5.53zM772 888.31v5.53h1v-5.53zM774 888.31v5.53h1v-5.53zM778 893.84v5.52h1v-5.52zM779 893.84v5.52h1v-5.52zM780 893.84v5.52h1v-5.52zM781 893.84v5.52h1v-5.52z"/>
<path fill="#00ff89" d="M728 926.98v5.52h1v-5.52zM729 926.98v5.52h1v-5.52zM731 926.98v5.52h1v-5.52zM732 921.45v5.53h1v-5.53zM734 926.98v5.52h1v-5.52zM736 926.98v5.52h1v-5.52zM737 921.45v5.53h1v-5.53zM739 921.45v5.53h1v-5.53zM742 921.45v5.53h1v-5.53zM743 921.45v5.53h1v-5.53zM744 921.45v5.53h1v-5.53zM745 921.45v5.53h1v-5.53zM746 921.45v5.53h1v-5.53zM747 915.93v5.52h1v-5.52zM750 915.93v5.52h1v-5.52zM751 910.41v5.52h1v-5.52zM752 910.41v5.52h1v-5.52zM755 904.88v5.53h1v-5.53zM757 904.88v5.53h1v-5.53zM760 899.36v5.52h1v-5.52zM761 899.36v5.52h1v-5.52zM767 893.84v5.52h1v-5.52zM768 893.84v5.52h1v-5.52zM773 893.84v5.52h1v-5.52zM776 893.84v5.52h1v-5.52zM777 893.84v5.52h1v-5.52zM781 899.36v5.52h1v-5.52z"/>
<path fill="#fff500" d="M729 766.8v60.76h1v-60.76zM731 766.8v60.76h1v-60.76zM734 766.8v60.76h1v-60.76z"/>
<path fill="#2eff00" d="M729 882.79v5.52h1v-5.52zM731 882.79v5.52h1v-5.52zM732 877.27v5.52h1v-5.52zM733 877.27v5.52h1v-5.52zM734 882.79v5.52h1v-5.52zM736 882.79v5.52h1v-5.52zM737 877.27v5.52h1v-5.52zM738 877.27v5.52h1v-5.52zM739 877.27v5.52h1v-5.52zM740 877.27v5.52h1v-5.52zM743 877.27v5.52h1v-5.52zM746 877.27v5.52h1v-5.52zM747 871.74v5.53h1v-5.53zM748 877.27v5.52h1v-5.52zM749 871.74v5.53h1v-5.53zM753 871.74v5.53h1v-5.53zM754 866.22v5.52h1v-5.52zM755 866.22v5.52h1v-5.52zM756 871.74v5.53h1v-5.53zM758 866.22v5.52h1v-5.52zM762 860.7v5.52h1v-5.52zM769 855.17v5.53h1v-5.53zM770 855.17v5.53h1v-5.53zM771 855.17v5.53h1v-5.53zM772 855.17v5.53h1v-5.53zM773 855.17v5.53h1v-5.53zM775 855.17v5.53h1v-5.53zM778 855.17v5.53h1v-5.53zM779 855.17v5.53h1v-5.53zM781 855.17v5.53h1v-5.53z"/>
<path fill="#a2ff00" d="M732 849.65v5.52h1v-5.52zM733 849.65v5.52h1v-5.52zM737 849.65v5.52h1v-5.52zM738 849.65v5.52h1v-5.52zM739 849.65v5.52h1v-5.52zM745 849.65v5.52h1v-5.52zM746 849.65v5.52h1v-5.52zM747 695v5.52h1v-5.52zM747 844.13v5.52h1v-5.52zM749 695v5.52h1v-5.52zM749 844.13v5.52h1v-5.52zM750 844.13v5.52h1v-5.52zM751 695v11.05h1v-11.05zM752 700.52v5.53h1v-5.53zM752 838.6v5.53h1v-5.53zM753 844.13v5.52h1v-5.52zM754 700.52v5.53h1v-5.53zM754 838.6v5.53h1v-5.53zM755 700.52v11.05h1v-11.05zM755 838.6v5.53h1v-5.53zM757 695v5.52h1v-5.52zM758 706.05v5.52h1v-5.52zM759 695v5.52h1v-5.52zM759 838.6v5.53h1v-5.53zM760 700.52v11.05h1v-11.05zM761 700.52v11.05h1v-11.05zM762 711.57v11.05h1v-11.05zM763 700.52v11.05h1v-11.05zM764 706.05v11.04h1v-11.04zM764 833.08v5.52h1v-5.52zM765 700.52v11.05h1v-11.05zM765 833.08v5.52h1v-5.52zM766 706.05v11.04h1v-11.04zM766 833.08v5.52h1v-5.52zM767 722.62v5.52h1v-5.52zM767 822.03v5.53h1v-5.53zM768 722.62v11.04h1v-11.04zM768 822.03v5.53h1v-5.53zM769 728.14v11.05h1v-11.05zM769 816.51v11.05h1v-11.05zM770 728.14v16.57h1v-16.57zM770 816.51v5.52h1v-5.52zM771 733.66v16.57h1v-16.57zM771 810.99v11.04h1v-11.04zM772 733.66v11.05h1v-11.05zM772 816.51v5.52h1v-5.52zM773 728.14v11.05h1v-11.05zM773 816.51v5.52h1v-5.52zM774 744.71v11.05h1v-11.05zM774 805.47v5.52h1v-5.52zM775 728.14v16.57h1v-16.57zM775 816.51v5.52h1v-5.52zM776 739.19v11.04h1v-11.04zM776 810.99v5.52h1v-5.52zM777 739.19v16.57h1v-16.57zM777 810.99v5.52h1v-5.52zM778 728.14v11.05h1v-11.05zM778 816.51v5.52h1v-5.52zM779 739.19v11.04h1v-11.04zM779 810.99v5.52h1v-5.52zM780 739.19v16.57h1v-16.57zM780 810.99v5.52h1v-5.52zM781 739.19v11.04h1v-11.04zM781 810.99v5.52h1v-5.52z"/>
<path fill="#00ffa4" d="M732 926.98v5.52h1v-5.52zM737 926.98v5.52h1v-5.52zM739 926.98v5.52h1v-5.52zM743 926.98v5.52h1v-5.52zM745 926.98v5.52h1v-5.52zM746 926.98v5.52h1v-5.52zM747 921.45v5.53h1v-5.53zM750 921.45v5.53h1v-5.53zM751 915.93v5.52h1v-5.52zM752 915.93v5.52h1v-5.52zM755 910.41v5.52h1v-5.52zM757 910.41v5.52h1v-5.52zM758 904.88v5.53h1v-5.53zM760 904.88v5.53h1v-5.53zM762 899.36v5.52h1v-5.52zM766 899.36v5.52h1v-5.52zM775 899.36v5.52h1v-5.52zM776 899.36v5.52h1v-5.52zM777 899.36v5.52h1v-5.52zM781 904.88v5.53h1v-5.53z"/>
<path fill="#8bff00" d="M733 855.17v5.53h1v-5.53zM737 855.17v5.53h1v-5.53zM738 855.17v5.53h1v-5.53zM739 855.17v5.53h1v-5.53zM740 855.17v5.53h1v-5.53zM741 855.17v5.53h1v-5.53zM745 855.17v5.53h1v-5.53zM746 855.17v5.53h1v-5.53zM747 849.65v5.52h1v-5.52zM749 849.65v5.52h1v-5.52zM750 849.65v5.52h1v-5.52zM753 849.65v5.52h1v-5.52zM754 844.13v5.52h1v-5.52zM755 844.13v5.52h1v-5.52zM759 844.13v5.52h1v-5.52zM762 695v5.52h1v-5.52zM762 838.6v5.53h1v-5.53zM764 838.6v5.53h1v-5.53zM766 838.6v5.53h1v-5.53zM767 700.52v11.05h1v-11.05zM767 833.08v5.52h1v-5.52zM768 700.52v11.05h1v-11.05zM768 833.08v5.52h1v-5.52zM769 706.05v11.04h1v-11.04zM770 706.05v11.04h1v-11.04zM770 827.56v5.52h1v-5.52zM771 711.57v11.05h1v-11.05zM771 827.56v5.52h1v-5.52zM772 711.57v11.05h1v-11.05zM772 827.56v5.52h1v-5.52zM773 706.05v11.04h1v-11.04zM773 827.56v5.52h1v-5.52zM774 722.62v11.04h1v-11.04zM774 822.03v5.53h1v-5.53zM775 706.05v11.04h1v-11.04zM775 827.56v5.52h1v-5.52zM776 717.09v11.05h1v-11.05zM776 822.03v5.53h1v-5.53zM777 717.09v11.05h1v-11.05zM777 822.03v5.53h1v-5.53zM778 706.05v11.04h1v-11.04zM778 827.56v5.52h1v-5.52zM779 711.57v11.05h1v-11.05zM779 822.03v5.53h1v-5.53zM780 717.09v11.05h1v-11.05zM780 822.03v5.53h1v-5.53zM781 711.57v11.05h1v-11.05zM781 822.03v5.53h1v-5.53z"/>
<path fill="#00ffb2" d="M742 926.98v5.52h1v-5.52zM744 926.98v5.52h1v-5.52zM748 926.98v5.52h1v-5.52zM749 921.45v5.53h1v-5.53zM753 921.45v5.53h1v-5.53zM754 915.93v5.52h1v-5.52zM756 915.93v5.52h1v-5.52zM759 910.41v5.52h1v-5.52zM761 904.88v5.53h1v-5.53zM763 904.88v5.53h1v-5.53zM767 899.36v5.52h1v-5.52zM768 899.36v5.52h1v-5.52zM772 899.36v5.52h1v-5.52zM773 899.36v5.52h1v-5.52zM778 904.88v5.53h1v-5.53zM779 904.88v5.53h1v-5.53zM780 904.88v5.53h1v-5.53z"/>
<path fill="#00ffbf" d="M747 926.98v5.52h1v-5.52zM750 926.98v5.52h1v-5.52zM751 921.45v5.53h1v-5.53zM755 915.93v5.52h1v-5.52zM757 915.93v5.52h1v-5.52zM758 910.41v5.52h1v-5.52zM760 910.41v5.52h1v-5.52zM762 904.88v5.53h1v-5.53zM764 904.88v5.53h1v-5.53zM765 904.88v5.53h1v-5.53zM766 904.88v5.53h1v-5.53zM769 899.36v5.52h1v-5.52zM770 899.36v5.52h1v-5.52zM771 899.36v5.52h1v-5.52zM774 899.36v5.52h1v-5.52zM777 904.88v5.53h1v-5.53zM781 910.41v5.52h1v-5.52z"/>
<path fill="#00ffcd" d="M749 926.98v5.52h1v-5.52zM752 921.45v5.53h1v-5.53zM753 926.98v5.52h1v-5.52zM754 921.45v5.53h1v-5.53zM756 921.45v5.53h1v-5.53zM759 915.93v5.52h1v-5.52zM761 910.41v5.52h1v-5.52zM763 910.41v5.52h1v-5.52zM773 904.88v5.53h1v-5.53zM775 904.88v5.53h1v-5.53zM776 904.88v5.53h1v-5.53zM778 910.41v5.52h1v-5.52zM779 910.41v5.52h1v-5.52zM780 910.41v5.52h1v-5.52z"/>
<path fill="#00ffdb" d="M751 926.98v5.52h1v-5.52zM752 926.98v5.52h1v-5.52zM755 921.45v5.53h1v-5.53zM757 921.45v5.53h1v-5.53zM758 915.93v5.52h1v-5.52zM762 910.41v5.52h1v-5.52zM764 910.41v5.52h1v-5.52zM765 910.41v5.52h1v-5.52zM767 904.88v5.53h1v-5.53zM768 904.88v5.53h1v-5.53zM769 904.88v5.53h1v-5.53zM770 904.88v5.53h1v-5.53zM771 904.88v5.53h1v-5.53zM772 904.88v5.53h1v-5.53zM774 904.88v5.53h1v-5.53zM781 915.93v5.52h1v-5.52z"/>
<path fill="#00ffe8" d="M754 926.98v5.52h1v-5.52zM756 926.98v5.52h1v-5.52zM759 921.45v5.53h1v-5.53zM760 915.93v5.52h1v-5.52zM761 915.93v5.52h1v-5.52zM766 910.41v5.52h1v-5.52zM773 910.41v5.52h1v-5.52zM775 910.41v5.52h1v-5.52zM776 910.41v5.52h1v-5.52zM777 910.41v5.52h1v-5.52zM778 915.93v5.52h1v-5.52zM779 915.93v5.52h1v-5.52zM780 915.93v5.52h1v-5.52z"/>
<path fill="#00fff6" d="M755 926.98v5.52h1v-5.52zM757 926.98v5.52h1v-5.52zM758 921.45v5.53h1v-5.53zM763 915.93v5.52h1v-5.52zM767 910.41v5.52h1v-5.52zM768 910.41v5.52h1v-5.52zM772 910.41v5.52h1v-5.52zM774 910.41v5.52h1v-5.52zM781 921.45v5.53h1v-5.53z"/>
<path fill="#00e9ff" d="M758 926.98v5.52h1v-5.52zM763 921.45v5.53h1v-5.53zM767 915.93v5.52h1v-5.52zM768 915.93v5.52h1v-5.52zM772 915.93v5.52h1v-5.52zM773 915.93v5.52h1v-5.52zM780 926.98v5.52h1v-5.52zM781 926.98v5.52h1v-5.52z"/>
<path fill="#00faff" d="M759 926.98v5.52h1v-5.52zM760 921.45v5.53h1v-5.53zM761 921.45v5.53h1v-5.53zM762 915.93v5.52h1v-5.52zM764 915.93v5.52h1v-5.52zM765 915.93v5.52h1v-5.52zM766 915.93v5.52h1v-5.52zM769 910.41v5.52h1v-5.52zM770 910.41v5.52h1v-5.52zM771 910.41v5.52h1v-5.52zM775 915.93v5.52h1v-5.52zM776 915.93v5.52h1v-5.52zM777 915.93v5.52h1v-5.52zM778 921.45v5.53h1v-5.53zM779 921.45v5.53h1v-5.53zM780 921.45v5.53h1v-5.53z"/>
<path fill="#00d9ff" d="M760 926.98v5.52h1v-5.52zM761 926.98v5.52h1v-5.52zM762 921.45v5.53h1v-5.53zM764 921.45v5.53h1v-5.53zM765 921.45v5.53h1v-5.53zM766 921.45v5.53h1v-5.53zM769 915.93v5.52h1v-5.52zM770 915.93v5.52h1v-5.52zM771 915.93v5.52h1v-5.52zM774 915.93v5.52h1v-5.52zM775 921.45v5.53h1v-5.53zM776 921.45v5.53h1v-5.53zM777 921.45v5.53h1v-5.53zM778 926.98v5.52h1v-5.52zM779 926.98v5.52h1v-5.52z"/>
<path fill="#00b8ff" d="M762 926.98v5.52h1v-5.52zM764 926.98v5.52h1v-5.52zM766 926.98v5.52h1v-5.52zM767 921.45v5.53h1v-5.53zM768 921.45v5.53h1v-5.53zM769 921.45v5.53h1v-5.53zM770 921.45v5.53h1v-5.53zM771 921.45v5.53h1v-5.53zM773 926.98v5.52h1v-5.52zM776 926.98v5.52h1v-5.52z"/>
<path fill="#00c9ff" d="M763 926.98v5.52h1v-5.52zM765 926.98v5.52h1v-5.52zM772 921.45v5.53h1v-5.53zM773 921.45v5.53h1v-5.53zM774 921.45v5.53h1v-5.53zM775 926.98v5.52h1v-5.52zM777 926.98v5.52h1v-5.52z"/>
<path fill="#00a8ff" d="M767 926.98v5.52h1v-5.52zM768 926.98v5.52h1v-5.52zM772 926.98v5.52h1v-5.52zM774 926.98v5.52h1v-5.52z"/>
<path fill="#0098ff" d="M769 926.98v5.52h1v-5.52zM770 926.98v5.52h1v-5.52zM771 926.98v5.52h1v-5.52z"/>
<rect x="765.5" y="905" width="1" height="12.5" fill="#00c8ff"/>
<rect x="765.5" y="917.5" width="1" height="13.75" fill="#0090ff"/>
<rect x="770.125" y="910" width="1" height="11.25" fill="#00a0ff"/>
<rect x="770.125" y="921.25" width="1" height="10" fill="#0040ff"/>
<rect x="773.875" y="915" width="1" height="16.25" fill="#0080ff"/>
<rect x="767" y="925" width="1" height="6.25" fill="#0060ff"/>
<rect x="758.25" y="927.5" width="1" height="3.75" fill="#00b0ff"/>
<rect x="777" y="925" width="1" height="6.25" fill="#00c0ff"/>
<rect x="726" y="700.27" width="56" height="0.5" fill="#ffffff" fill-opacity="0.10"/>
<rect x="726" y="705.8" width="56" height="0.5" fill="#ffffff" fill-opacity="0.10"/>
<rect x="726" y="711.32" width="56" height="0.5" fill="#ffffff" fill-opacity="0.10"/>
<rect x="726" y="716.84" width="56" height="0.5" fill="#ffffff" fill-opacity="0.10"/>
<rect x="726" y="722.37" width="56" height="0.5" fill="#ffffff" fill-opacity="0.10"/>
<rect x="726" y="727.89" width="56" height="0.5" fill="#ffffff" fill-opacity="0.10"/>
<rect x="726" y="733.41" width="56" height="0.5" fill="#ffffff" fill-opacity="0.10"/>
<rect x="726" y="738.94" width="56" height="0.5" fill="#ffffff" fill-opacity="0.10"/>
<rect x="726" y="744.46" width="56" height="0.5" fill="#ffffff" fill-opacity="0.10"/>
<rect x="726" y="749.98" width="56" height="0.5" fill="#ffffff" fill-opacity="0.10"/>
<rect x="726" y="755.51" width="56" height="0.5" fill="#ffffff" fill-opacity="0.10"/>
<rect x="726" y="761.03" width="56" height="0.5" fill="#ffffff" fill-opacity="0.10"/>
<rect x="726" y="766.55" width="56" height="0.5" fill="#ffffff" fill-opacity="0.10"/>
<rect x="726" y="772.08" width="56" height="0.5" fill="#ffffff" fill-opacity="0.10"/>
<rect x="726" y="777.6" width="56" height="0.5" fill="#ffffff" fill-opacity="0.10"/>
<rect x="726" y="783.12" width="56" height="0.5" fill="#ffffff" fill-opacity="0.10"/>
<rect x="726" y="788.65" width="56" height="0.5" fill="#ffffff" fill-opacity="0.10"/>
<rect x="726" y="794.17" width="56" height="0.5" fill="#ffffff" fill-opacity="0.10"/>
<rect x="726" y="799.69" width="56" height="0.5" fill="#ffffff" fill-opacity="0.10"/>
<rect x="726" y="805.22" width="56" height="0.5" fill="#ffffff" fill-opacity="0.10"/>
<rect x="726" y="810.74" width="56" height="0.5" fill="#ffffff" fill-opacity="0.10"/>
<rect x="726" y="816.26" width="56" height="0.5" fill="#ffffff" fill-opacity="0.10"/>
<rect x="726" y="821.78" width="56" height="0.5" fill="#ffffff" fill-opacity="0.10"/>
<rect x="726" y="827.31" width="56" height="0.5" fill="#ffffff" fill-opacity="0.10"/>
<rect x="726" y="832.83" width="56" height="0.5" fill="#ffffff" fill-opacity="0.10"/>
<rect x="726" y="838.35" width="56" height="0.5" fill="#ffffff" fill-opacity="0.10"/>
<rect x="726" y="843.88" width="56" height="0.5" fill="#ffffff" fill-opacity="0.10"/>
<rect x="726" y="849.4" width="56" height="0.5" fill="#ffffff" fill-opacity="0.10"/>
<rect x="726" y="854.92" width="56" height="0.5" fill="#ffffff" fill-opacity="0.10"/>
<rect x="726" y="860.45" width="56" height="0.5" fill="#ffffff" fill-opacity="0.10"/>
<rect x="726" y="865.97" width="56" height="0.5" fill="#ffffff" fill-opacity="0.10"/>
<rect x="726" y="871.49" width="56" height="0.5" fill="#ffffff" fill-opacity="0.10"/>
<rect x="726" y="877.02" width="56" height="0.5" fill="#ffffff" fill-opacity="0.10"/>
<rect x="726" y="882.54" width="56" height="0.5" fill="#ffffff" fill-opacity="0.10"/>
<rect x="726" y="888.06" width="56" height="0.5" fill="#ffffff" fill-opacity="0.10"/>
<rect x="726" y="893.59" width="56" height="0.5" fill="#ffffff" fill-opacity="0.10"/>
<rect x="726" y="899.11" width="56" height="0.5" fill="#ffffff" fill-opacity="0.10"/>
<rect x="726" y="904.63" width="56" height="0.5" fill="#ffffff" fill-opacity="0.10"/>
<rect x="726" y="910.16" width="56" height="0.5" fill="#ffffff" fill-opacity="0.10"/>
<rect x="726" y="915.68" width="56" height="0.5" fill="#ffffff" fill-opacity="0.10"/>
<rect x="726" y="921.2" width="56" height="0.5" fill="#ffffff" fill-opacity="0.10"/>
<rect x="726" y="926.73" width="56" height="0.5" fill="#ffffff" fill-opacity="0.10"/>
<g font-family="'DejaVu Sans Condensed','DejaVu Sans',sans-serif" font-size="35.8" font-weight="bold" fill="#000" opacity="0.255">
<text x="125" y="832.5" textLength="170" lengthAdjust="spacingAndGlyphs">Institute</text>
<text x="303.3" y="832.5" textLength="41.7" lengthAdjust="spacingAndGlyphs">of</text>
<text x="352.5" y="832.5" textLength="226.5" lengthAdjust="spacingAndGlyphs">ionosphere,</text>
<text x="585.5" y="832.5" textLength="149.5" lengthAdjust="spacingAndGlyphs">Kharkiv</text>
</g>
<rect x="80" y="985" width="696" height="20" fill="#000"/>
<rect x="81" y="986" width="694" height="18" fill="url(#gD)"/>
<rect x="311" y="986" width="1" height="4" fill="#000"/>
<rect x="311" y="1000" width="1" height="4" fill="#000"/>
<rect x="543" y="986" width="1" height="4" fill="#000"/>
<rect x="543" y="1000" width="1" height="4" fill="#000"/>
<rect x="149" y="986" width="1" height="2" fill="#000"/>
<rect x="149" y="1002" width="1" height="2" fill="#000"/>
<rect x="190" y="986" width="1" height="2" fill="#000"/>
<rect x="190" y="1002" width="1" height="2" fill="#000"/>
<rect x="219" y="986" width="1" height="2" fill="#000"/>
<rect x="219" y="1002" width="1" height="2" fill="#000"/>
<rect x="241" y="986" width="1" height="2" fill="#000"/>
<rect x="241" y="1002" width="1" height="2" fill="#000"/>
<rect x="260" y="986" width="1" height="2" fill="#000"/>
<rect x="260" y="1002" width="1" height="2" fill="#000"/>
<rect x="275" y="986" width="1" height="2" fill="#000"/>
<rect x="275" y="1002" width="1" height="2" fill="#000"/>
<rect x="289" y="986" width="1" height="2" fill="#000"/>
<rect x="289" y="1002" width="1" height="2" fill="#000"/>
<rect x="301" y="986" width="1" height="2" fill="#000"/>
<rect x="301" y="1002" width="1" height="2" fill="#000"/>
<rect x="381" y="986" width="1" height="2" fill="#000"/>
<rect x="381" y="1002" width="1" height="2" fill="#000"/>
<rect x="422" y="986" width="1" height="2" fill="#000"/>
<rect x="422" y="1002" width="1" height="2" fill="#000"/>
<rect x="451" y="986" width="1" height="2" fill="#000"/>
<rect x="451" y="1002" width="1" height="2" fill="#000"/>
<rect x="473" y="986" width="1" height="2" fill="#000"/>
<rect x="473" y="1002" width="1" height="2" fill="#000"/>
<rect x="491" y="986" width="1" height="2" fill="#000"/>
<rect x="491" y="1002" width="1" height="2" fill="#000"/>
<rect x="507" y="986" width="1" height="2" fill="#000"/>
<rect x="507" y="1002" width="1" height="2" fill="#000"/>
<rect x="520" y="986" width="1" height="2" fill="#000"/>
<rect x="520" y="1002" width="1" height="2" fill="#000"/>
<rect x="532" y="986" width="1" height="2" fill="#000"/>
<rect x="532" y="1002" width="1" height="2" fill="#000"/>
<rect x="613" y="986" width="1" height="2" fill="#000"/>
<rect x="613" y="1002" width="1" height="2" fill="#000"/>
<rect x="653" y="986" width="1" height="2" fill="#000"/>
<rect x="653" y="1002" width="1" height="2" fill="#000"/>
<rect x="682" y="986" width="1" height="2" fill="#000"/>
<rect x="682" y="1002" width="1" height="2" fill="#000"/>
<rect x="705" y="986" width="1" height="2" fill="#000"/>
<rect x="705" y="1002" width="1" height="2" fill="#000"/>
<rect x="723" y="986" width="1" height="2" fill="#000"/>
<rect x="723" y="1002" width="1" height="2" fill="#000"/>
<rect x="739" y="986" width="1" height="2" fill="#000"/>
<rect x="739" y="1002" width="1" height="2" fill="#000"/>
<rect x="752" y="986" width="1" height="2" fill="#000"/>
<rect x="752" y="1002" width="1" height="2" fill="#000"/>
<rect x="764" y="986" width="1" height="2" fill="#000"/>
<rect x="764" y="1002" width="1" height="2" fill="#000"/>
<text x="55.7" y="1028" class="d" font-size="15.4" textLength="40" lengthAdjust="spacingAndGlyphs">1x10</text>
<text x="97.7" y="1020.6" class="d" font-size="11.8">9</text>
<text x="287.2" y="1028" class="d" font-size="15.4" textLength="40" lengthAdjust="spacingAndGlyphs">1x10</text>
<text x="329.2" y="1020.6" class="d" font-size="11.8">10</text>
<text x="519.2" y="1028" class="d" font-size="15.4" textLength="40" lengthAdjust="spacingAndGlyphs">1x10</text>
<text x="561.2" y="1020.6" class="d" font-size="11.8">11</text>
<text x="744.2" y="1028" class="d" font-size="15.4" textLength="40" lengthAdjust="spacingAndGlyphs">1x10</text>
<text x="786.2" y="1020.6" class="d" font-size="11.8">12</text>
<text x="346" y="1048.7" class="d" font-size="15" textLength="147" lengthAdjust="spacing">particle density, m</text>
<text x="494" y="1042.5" class="d" font-size="12">-3</text>
<text x="629.5" y="1072.4" class="u" font-size="16" textLength="143" lengthAdjust="spacingAndGlyphs">plasma drift velocity</text>
<rect x="80" y="1073" width="703" height="1" fill="#000"/>
<rect x="80" y="1313" width="703" height="1" fill="#000"/>
<rect x="80" y="1073" width="1" height="241" fill="#000"/>
<rect x="782" y="1073" width="1" height="241" fill="#000"/>
<text x="82.2" y="1338.1" class="u" font-size="16" text-anchor="middle" textLength="8.6" lengthAdjust="spacingAndGlyphs">0</text>
<rect x="109" y="1309" width="1" height="4" fill="#000"/>
<rect x="109" y="1074" width="1" height="4" fill="#000"/>
<rect x="138" y="1305" width="1" height="8" fill="#000"/>
<rect x="138" y="1074" width="1" height="8" fill="#000"/>
<text x="140.7" y="1338.1" class="u" font-size="16" text-anchor="middle" textLength="8.6" lengthAdjust="spacingAndGlyphs">2</text>
<rect x="168" y="1309" width="1" height="4" fill="#000"/>
<rect x="168" y="1074" width="1" height="4" fill="#000"/>
<rect x="197" y="1305" width="1" height="8" fill="#000"/>
<rect x="197" y="1074" width="1" height="8" fill="#000"/>
<text x="199.2" y="1338.1" class="u" font-size="16" text-anchor="middle" textLength="8.6" lengthAdjust="spacingAndGlyphs">4</text>
<rect x="226" y="1309" width="1" height="4" fill="#000"/>
<rect x="226" y="1074" width="1" height="4" fill="#000"/>
<rect x="255" y="1305" width="1" height="8" fill="#000"/>
<rect x="255" y="1074" width="1" height="8" fill="#000"/>
<text x="257.7" y="1338.1" class="u" font-size="16" text-anchor="middle" textLength="8.6" lengthAdjust="spacingAndGlyphs">6</text>
<rect x="284" y="1309" width="1" height="4" fill="#000"/>
<rect x="284" y="1074" width="1" height="4" fill="#000"/>
<rect x="314" y="1305" width="1" height="8" fill="#000"/>
<rect x="314" y="1074" width="1" height="8" fill="#000"/>
<text x="316.2" y="1338.1" class="u" font-size="16" text-anchor="middle" textLength="8.6" lengthAdjust="spacingAndGlyphs">8</text>
<rect x="343" y="1309" width="1" height="4" fill="#000"/>
<rect x="343" y="1074" width="1" height="4" fill="#000"/>
<rect x="372" y="1305" width="1" height="8" fill="#000"/>
<rect x="372" y="1074" width="1" height="8" fill="#000"/>
<text x="374.7" y="1338.1" class="u" font-size="16" text-anchor="middle" textLength="17.8" lengthAdjust="spacingAndGlyphs">10</text>
<rect x="402" y="1309" width="1" height="4" fill="#000"/>
<rect x="402" y="1074" width="1" height="4" fill="#000"/>
<rect x="431" y="1305" width="1" height="8" fill="#000"/>
<rect x="431" y="1074" width="1" height="8" fill="#000"/>
<text x="433.2" y="1338.1" class="u" font-size="16" text-anchor="middle" textLength="17.8" lengthAdjust="spacingAndGlyphs">12</text>
<rect x="460" y="1309" width="1" height="4" fill="#000"/>
<rect x="460" y="1074" width="1" height="4" fill="#000"/>
<rect x="489" y="1305" width="1" height="8" fill="#000"/>
<rect x="489" y="1074" width="1" height="8" fill="#000"/>
<text x="491.7" y="1338.1" class="u" font-size="16" text-anchor="middle" textLength="17.8" lengthAdjust="spacingAndGlyphs">14</text>
<rect x="518" y="1309" width="1" height="4" fill="#000"/>
<rect x="518" y="1074" width="1" height="4" fill="#000"/>
<rect x="548" y="1305" width="1" height="8" fill="#000"/>
<rect x="548" y="1074" width="1" height="8" fill="#000"/>
<text x="550.2" y="1338.1" class="u" font-size="16" text-anchor="middle" textLength="17.8" lengthAdjust="spacingAndGlyphs">16</text>
<rect x="577" y="1309" width="1" height="4" fill="#000"/>
<rect x="577" y="1074" width="1" height="4" fill="#000"/>
<rect x="606" y="1305" width="1" height="8" fill="#000"/>
<rect x="606" y="1074" width="1" height="8" fill="#000"/>
<text x="608.7" y="1338.1" class="u" font-size="16" text-anchor="middle" textLength="17.8" lengthAdjust="spacingAndGlyphs">18</text>
<rect x="636" y="1309" width="1" height="4" fill="#000"/>
<rect x="636" y="1074" width="1" height="4" fill="#000"/>
<rect x="665" y="1305" width="1" height="8" fill="#000"/>
<rect x="665" y="1074" width="1" height="8" fill="#000"/>
<text x="667.2" y="1338.1" class="u" font-size="16" text-anchor="middle" textLength="17.8" lengthAdjust="spacingAndGlyphs">20</text>
<rect x="694" y="1309" width="1" height="4" fill="#000"/>
<rect x="694" y="1074" width="1" height="4" fill="#000"/>
<rect x="723" y="1305" width="1" height="8" fill="#000"/>
<rect x="723" y="1074" width="1" height="8" fill="#000"/>
<text x="725.7" y="1338.1" class="u" font-size="16" text-anchor="middle" textLength="17.8" lengthAdjust="spacingAndGlyphs">22</text>
<rect x="752" y="1309" width="1" height="4" fill="#000"/>
<rect x="752" y="1074" width="1" height="4" fill="#000"/>
<text x="784.2" y="1338.1" class="u" font-size="16" text-anchor="middle" textLength="17.8" lengthAdjust="spacingAndGlyphs">24</text>
<text x="71.3" y="1318.9" class="u" font-size="16" text-anchor="end" textLength="27" lengthAdjust="spacingAndGlyphs">200</text>
<rect x="81" y="1253" width="8" height="1" fill="#000"/>
<rect x="774" y="1253" width="8" height="1" fill="#000"/>
<text x="71.3" y="1258.9" class="u" font-size="16" text-anchor="end" textLength="27" lengthAdjust="spacingAndGlyphs">250</text>
<rect x="81" y="1193" width="8" height="1" fill="#000"/>
<rect x="774" y="1193" width="8" height="1" fill="#000"/>
<text x="71.3" y="1198.9" class="u" font-size="16" text-anchor="end" textLength="27" lengthAdjust="spacingAndGlyphs">300</text>
<rect x="81" y="1133" width="8" height="1" fill="#000"/>
<rect x="774" y="1133" width="8" height="1" fill="#000"/>
<text x="71.3" y="1138.9" class="u" font-size="16" text-anchor="end" textLength="27" lengthAdjust="spacingAndGlyphs">350</text>
<text x="71.3" y="1078.9" class="u" font-size="16" text-anchor="end" textLength="27" lengthAdjust="spacingAndGlyphs">400</text>
<text x="439" y="1356.8" class="u" font-size="16" text-anchor="middle" textLength="44.5" lengthAdjust="spacingAndGlyphs">EET, h</text>
<text x="26.8" y="1195.2" class="u" font-size="16.8" text-anchor="middle" textLength="84.5" lengthAdjust="spacingAndGlyphs" transform="rotate(-90 26.8 1195.2)">altitude, km</text>
<rect x="726" y="1074" width="56" height="237.5" fill="#fff"/>
<path fill="#00fff4" d="M726 1074v49.71h1v-49.71zM727 1162.37v77.33h1v-77.33zM728 1074v38.66h1v-38.66zM728 1278.36v33.14h1v-33.14zM729 1074v11.05h1v-11.05zM732 1107.14v16.57h1v-16.57zM732 1223.13v27.61h1v-27.61zM736 1272.84v27.61h1v-27.61zM738 1129.23v16.57h1v-16.57zM738 1162.37v22.1h1v-22.1zM738 1234.17v38.67h1v-38.67zM739 1074v33.14h1v-33.14zM740 1151.33v33.14h1v-33.14zM742 1228.65v11.05h1v-11.05zM745 1195.51v77.33h1v-77.33zM749 1074v49.71h1v-49.71zM750 1272.84v38.66h1v-38.66zM751 1074v44.19h1v-44.19zM753 1118.19v44.18h1v-44.18zM753 1206.56v16.57h1v-16.57zM754 1145.8v27.62h1v-27.62zM758 1074v16.57h1v-16.57zM758 1134.76v11.04h1v-11.04zM758 1178.94v11.05h1v-11.05zM759 1283.88v22.1h1v-22.1zM760 1118.19v22.09h1v-22.09zM761 1289.41v16.57h1v-16.57zM763 1223.13v11.04h1v-11.04zM764 1151.33v33.14h1v-33.14zM766 1074v33.14h1v-33.14zM766 1305.98v5.52h1v-5.52zM768 1195.51v33.14h1v-33.14zM769 1278.36v33.14h1v-33.14zM773 1305.98v5.52h1v-5.52zM774 1223.13v11.04h1v-11.04zM775 1184.47v44.18h1v-44.18zM776 1156.85v27.62h1v-27.62zM777 1167.9v33.13h1v-33.13zM778 1074v22.09h1v-22.09zM778 1140.28v11.05h1v-11.05zM778 1195.51v38.66h1v-38.66zM779 1178.94v27.62h1v-27.62zM781 1201.03v11.05h1v-11.05zM781 1289.41v16.57h1v-16.57z"/>
<path fill="#00ff71" d="M726 1123.71v22.09h1v-22.09zM728 1112.66v38.67h1v-38.67zM729 1151.33v33.14h1v-33.14zM730 1167.9v44.18h1v-44.18zM731 1074v27.62h1v-27.62zM731 1145.8v11.05h1v-11.05zM732 1145.8v33.14h1v-33.14zM734 1256.27v27.61h1v-27.61zM735 1189.99v33.14h1v-33.14zM736 1074v33.14h1v-33.14zM736 1189.99v82.85h1v-82.85zM736 1305.98v5.52h1v-5.52zM737 1074v38.66h1v-38.66zM738 1107.14v22.09h1v-22.09zM738 1145.8v16.57h1v-16.57zM738 1184.47v16.56h1v-16.56zM739 1107.14v38.66h1v-38.66zM742 1112.66v27.62h1v-27.62zM742 1206.56v22.09h1v-22.09zM743 1123.71v27.62h1v-27.62zM744 1217.6v22.1h1v-22.1zM745 1074v27.62h1v-27.62zM747 1090.57v22.09h1v-22.09zM748 1112.66v60.76h1v-60.76zM749 1206.56v11.04h1v-11.04zM750 1096.09v33.14h1v-33.14zM750 1217.6v44.19h1v-44.19zM752 1118.19v66.28h1v-66.28zM756 1096.09v44.19h1v-44.19zM756 1245.22v38.66h1v-38.66zM759 1223.13v27.61h1v-27.61zM762 1074v11.05h1v-11.05zM762 1107.14v33.14h1v-33.14zM762 1167.9v22.09h1v-22.09zM762 1305.98v5.52h1v-5.52zM763 1162.37v60.76h1v-60.76zM764 1074v44.19h1v-44.19zM767 1074v27.62h1v-27.62zM767 1234.17v16.57h1v-16.57zM768 1123.71v44.19h1v-44.19zM769 1151.33v38.66h1v-38.66zM771 1074v55.23h1v-55.23zM772 1085.05v82.85h1v-82.85zM772 1245.22v22.09h1v-22.09zM773 1178.94v11.05h1v-11.05zM774 1201.03v22.1h1v-22.1zM778 1096.09v44.19h1v-44.19zM780 1107.14v16.57h1v-16.57zM781 1212.08v38.66h1v-38.66z"/>
<path fill="#00ff9d" d="M726 1145.8v38.67h1v-38.67zM728 1212.08v33.14h1v-33.14zM729 1085.05v22.09h1v-22.09zM730 1156.85v11.05h1v-11.05zM730 1212.08v16.57h1v-16.57zM732 1134.76v11.04h1v-11.04zM735 1112.66v77.33h1v-77.33zM735 1223.13v27.61h1v-27.61zM737 1112.66v55.24h1v-55.24zM738 1074v33.14h1v-33.14zM739 1217.6v44.19h1v-44.19zM740 1074v16.57h1v-16.57zM740 1217.6v16.57h1v-16.57zM741 1184.47v11.04h1v-11.04zM742 1140.28v22.09h1v-22.09zM743 1107.14v16.57h1v-16.57zM743 1151.33v44.18h1v-44.18zM743 1234.17v44.19h1v-44.19zM744 1074v11.05h1v-11.05zM745 1101.62v60.75h1v-60.75zM747 1074v16.57h1v-16.57zM747 1206.56v11.04h1v-11.04zM748 1074v38.66h1v-38.66zM748 1173.42v66.28h1v-66.28zM748 1250.74v38.67h1v-38.67zM749 1217.6v33.14h1v-33.14zM751 1118.19v16.57h1v-16.57zM752 1074v22.09h1v-22.09zM752 1223.13v38.66h1v-38.66zM753 1074v44.19h1v-44.19zM754 1074v71.8h1v-71.8zM754 1212.08v38.66h1v-38.66zM754 1294.93v11.05h1v-11.05zM755 1134.76v44.18h1v-44.18zM755 1294.93v11.05h1v-11.05zM756 1140.28v104.94h1v-104.94zM757 1151.33v66.27h1v-66.27zM758 1090.57v44.19h1v-44.19zM758 1145.8v11.05h1v-11.05zM759 1118.19v104.94h1v-104.94zM761 1140.28v27.62h1v-27.62zM762 1228.65v38.66h1v-38.66zM763 1234.17v38.67h1v-38.67zM764 1129.23v22.1h1v-22.1zM766 1107.14v22.09h1v-22.09zM767 1134.76v99.41h1v-99.41zM768 1090.57v33.14h1v-33.14zM768 1167.9v27.61h1v-27.61zM769 1223.13v16.57h1v-16.57zM771 1129.23v27.62h1v-27.62zM771 1178.94v38.66h1v-38.66zM772 1074v11.05h1v-11.05zM772 1167.9v77.32h1v-77.32zM774 1162.37v38.66h1v-38.66zM775 1101.62v44.18h1v-44.18zM776 1074v11.05h1v-11.05zM776 1112.66v22.1h1v-22.1zM777 1074v16.57h1v-16.57zM777 1134.76v33.14h1v-33.14zM777 1201.03v44.19h1v-44.19zM779 1140.28v38.66h1v-38.66zM780 1074v33.14h1v-33.14zM780 1173.42v44.18h1v-44.18zM781 1112.66v66.28h1v-66.28zM781 1305.98v5.52h1v-5.52z"/>
<path fill="#00ffc8" d="M726 1184.47v33.13h1v-33.13zM727 1305.98v5.52h1v-5.52zM728 1245.22v33.14h1v-33.14zM729 1256.27v27.61h1v-27.61zM729 1289.41v5.52h1v-5.52zM730 1228.65v33.14h1v-33.14zM731 1101.62v11.04h1v-11.04zM735 1074v38.66h1v-38.66zM736 1123.71v27.62h1v-27.62zM737 1223.13v11.04h1v-11.04zM738 1201.03v33.14h1v-33.14zM739 1145.8v71.8h1v-71.8zM739 1305.98v5.52h1v-5.52zM740 1090.57v27.62h1v-27.62zM744 1085.05v88.37h1v-88.37zM745 1162.37v33.14h1v-33.14zM747 1112.66v93.9h1v-93.9zM747 1217.6v33.14h1v-33.14zM748 1239.7v11.04h1v-11.04zM749 1156.85v49.71h1v-49.71zM751 1167.9v22.09h1v-22.09zM752 1261.79v38.66h1v-38.66zM753 1289.41v5.52h1v-5.52zM754 1201.03v11.05h1v-11.05zM755 1245.22v22.09h1v-22.09zM758 1156.85v11.05h1v-11.05zM758 1189.99v44.18h1v-44.18zM759 1272.84v11.04h1v-11.04zM760 1074v44.19h1v-44.19zM763 1129.23v33.14h1v-33.14zM764 1228.65v16.57h1v-16.57zM765 1074v154.65h1v-154.65zM768 1228.65v33.14h1v-33.14zM771 1156.85v22.09h1v-22.09zM771 1217.6v44.19h1v-44.19zM772 1267.31v44.19h1v-44.19zM774 1151.33v11.04h1v-11.04zM775 1074v27.62h1v-27.62zM775 1145.8v38.67h1v-38.67zM775 1228.65v33.14h1v-33.14zM776 1184.47v11.04h1v-11.04zM777 1090.57v44.19h1v-44.19zM779 1107.14v33.14h1v-33.14zM779 1206.56v22.09h1v-22.09zM780 1217.6v33.14h1v-33.14zM781 1178.94v22.09h1v-22.09z"/>
<path fill="#00ff45" d="M726 1217.6v44.19h1v-44.19zM726 1305.98v5.52h1v-5.52zM728 1151.33v22.09h1v-22.09zM729 1107.14v44.19h1v-44.19zM729 1184.47v44.18h1v-44.18zM730 1140.28v16.57h1v-16.57zM731 1156.85v11.05h1v-11.05zM732 1305.98v5.52h1v-5.52zM733 1151.33v44.18h1v-44.18zM741 1074v66.28h1v-66.28zM741 1167.9v16.57h1v-16.57zM742 1162.37v44.19h1v-44.19zM743 1195.51v38.66h1v-38.66zM744 1173.42v44.18h1v-44.18zM752 1305.98v5.52h1v-5.52zM755 1074v22.09h1v-22.09zM756 1074v22.09h1v-22.09zM757 1123.71v27.62h1v-27.62zM762 1085.05v22.09h1v-22.09zM762 1140.28v27.62h1v-27.62zM763 1074v11.05h1v-11.05zM767 1305.98v5.52h1v-5.52zM768 1074v16.57h1v-16.57zM773 1140.28v38.66h1v-38.66zM780 1123.71v38.66h1v-38.66zM781 1101.62v11.04h1v-11.04z"/>
<path fill="#00a3ff" d="M726 1261.79v22.09h1v-22.09zM733 1261.79v38.66h1v-38.66zM734 1283.88v27.62h1v-27.62zM735 1272.84v38.66h1v-38.66zM737 1167.9v22.09h1v-22.09zM741 1223.13v44.18h1v-44.18zM742 1239.7v38.66h1v-38.66zM749 1250.74v11.05h1v-11.05zM753 1294.93v5.52h1v-5.52zM755 1305.98v5.52h1v-5.52zM758 1167.9v11.04h1v-11.04zM762 1267.31v22.1h1v-22.1zM764 1184.47v44.18h1v-44.18zM765 1283.88v27.62h1v-27.62zM770 1256.27v22.09h1v-22.09zM778 1234.17v16.57h1v-16.57zM781 1250.74v38.67h1v-38.67z"/>
<path fill="#00d4ff" d="M726 1283.88v11.05h1v-11.05zM730 1074v22.09h1v-22.09zM732 1074v33.14h1v-33.14zM732 1261.79v44.19h1v-44.19zM733 1305.98v5.52h1v-5.52zM739 1261.79v16.57h1v-16.57zM740 1234.17v71.81h1v-71.81zM744 1239.7v71.8h1v-71.8zM747 1283.88v27.62h1v-27.62zM751 1278.36v33.14h1v-33.14zM754 1305.98v5.52h1v-5.52zM756 1283.88v27.62h1v-27.62zM760 1217.6v44.19h1v-44.19zM762 1289.41v16.57h1v-16.57zM764 1305.98v5.52h1v-5.52zM765 1239.7v22.09h1v-22.09zM766 1228.65v27.62h1v-27.62zM767 1250.74v27.62h1v-27.62zM768 1261.79v16.57h1v-16.57zM768 1289.41v11.04h1v-11.04zM770 1118.19v44.18h1v-44.18zM770 1201.03v27.62h1v-27.62zM773 1239.7v16.57h1v-16.57zM777 1267.31v27.62h1v-27.62zM778 1151.33v16.57h1v-16.57zM780 1278.36v22.09h1v-22.09z"/>
<path fill="#edff00" d="M726 1294.93v5.52h1v-5.52zM746 1234.17v38.67h1v-38.67zM750 1140.28v38.66h1v-38.66zM752 1300.45v5.53h1v-5.53zM759 1305.98v5.52h1v-5.52zM781 1090.57v11.05h1v-11.05z"/>
<path fill="#16ff00" d="M726 1300.45v5.53h1v-5.53zM734 1107.14v55.23h1v-55.23zM736 1107.14v16.57h1v-16.57zM736 1151.33v38.66h1v-38.66zM749 1294.93v11.05h1v-11.05zM753 1300.45v11.05h1v-11.05zM755 1289.41v5.52h1v-5.52zM759 1074v44.19h1v-44.19zM763 1294.93v16.57h1v-16.57zM766 1289.41v5.52h1v-5.52zM767 1300.45v5.53h1v-5.53zM773 1074v66.28h1v-66.28zM779 1305.98v5.52h1v-5.52zM781 1074v16.57h1v-16.57z"/>
<path fill="#00bcff" d="M727 1074v44.19h1v-44.19zM730 1278.36v33.14h1v-33.14zM737 1189.99v33.14h1v-33.14zM738 1272.84v38.66h1v-38.66zM748 1289.41v16.57h1v-16.57zM749 1261.79v27.62h1v-27.62zM753 1250.74v38.67h1v-38.67zM759 1250.74v22.1h1v-22.1zM760 1261.79v49.71h1v-49.71zM764 1278.36v5.52h1v-5.52zM764 1294.93v11.05h1v-11.05zM766 1189.99v38.66h1v-38.66zM766 1294.93v11.05h1v-11.05zM770 1162.37v38.66h1v-38.66zM770 1228.65v27.62h1v-27.62zM771 1261.79v33.14h1v-33.14zM773 1206.56v33.14h1v-33.14zM773 1272.84v33.14h1v-33.14zM778 1250.74v27.62h1v-27.62zM780 1250.74v27.62h1v-27.62z"/>
<path fill="#00edff" d="M727 1118.19v44.18h1v-44.18zM727 1239.7v27.61h1v-27.61zM729 1294.93v11.05h1v-11.05zM730 1096.09v44.19h1v-44.19zM730 1261.79v16.57h1v-16.57zM732 1123.71v11.05h1v-11.05zM732 1178.94v44.19h1v-44.19zM737 1272.84v38.66h1v-38.66zM740 1118.19v33.14h1v-33.14zM740 1184.47v33.13h1v-33.13zM743 1278.36v33.14h1v-33.14zM745 1272.84v38.66h1v-38.66zM747 1250.74v33.14h1v-33.14zM749 1123.71v33.14h1v-33.14zM749 1305.98v5.52h1v-5.52zM751 1134.76v33.14h1v-33.14zM751 1189.99v44.18h1v-44.18zM752 1184.47v38.66h1v-38.66zM753 1223.13v27.61h1v-27.61zM754 1173.42v27.61h1v-27.61zM754 1250.74v44.19h1v-44.19zM757 1305.98v5.52h1v-5.52zM758 1300.45v11.05h1v-11.05zM760 1140.28v77.32h1v-77.32zM761 1201.03v22.1h1v-22.1zM761 1305.98v5.52h1v-5.52zM764 1118.19v11.04h1v-11.04zM765 1228.65v11.05h1v-11.05zM766 1129.23v60.76h1v-60.76zM766 1256.27v33.14h1v-33.14zM767 1278.36v22.09h1v-22.09zM770 1074v44.19h1v-44.19zM771 1305.98v5.52h1v-5.52zM774 1256.27v55.23h1v-55.23zM775 1289.41v22.09h1v-22.09zM776 1085.05v27.61h1v-27.61zM776 1134.76v22.09h1v-22.09zM776 1272.84v27.61h1v-27.61zM777 1245.22v22.09h1v-22.09zM778 1167.9v27.61h1v-27.61zM780 1162.37v11.05h1v-11.05z"/>
<path fill="#005aff" d="M727 1267.31v38.67h1v-38.67zM731 1278.36v33.14h1v-33.14zM746 1272.84v22.09h1v-22.09zM761 1256.27v33.14h1v-33.14zM765 1261.79v22.09h1v-22.09zM769 1239.7v38.66h1v-38.66zM778 1278.36v33.14h1v-33.14z"/>
<path fill="#00ff1a" d="M728 1173.42v38.66h1v-38.66zM733 1195.51v11.05h1v-11.05zM740 1305.98v5.52h1v-5.52zM741 1140.28v27.62h1v-27.62zM742 1074v38.66h1v-38.66zM743 1074v33.14h1v-33.14zM746 1300.45v5.53h1v-5.53zM752 1096.09v22.1h1v-22.1zM757 1074v49.71h1v-49.71zM757 1217.6v44.19h1v-44.19zM762 1189.99v38.66h1v-38.66zM763 1085.05v44.18h1v-44.18zM767 1101.62v33.14h1v-33.14zM768 1300.45v11.05h1v-11.05zM769 1096.09v27.62h1v-27.62zM777 1294.93v16.57h1v-16.57z"/>
<path fill="#fff100" d="M729 1228.65v27.62h1v-27.62zM729 1305.98v5.52h1v-5.52zM731 1112.66v33.14h1v-33.14zM739 1278.36v27.62h1v-27.62zM746 1129.23v44.19h1v-44.19zM750 1129.23v11.05h1v-11.05zM751 1234.17v44.19h1v-44.19zM755 1178.94v22.09h1v-22.09zM761 1167.9v33.13h1v-33.13zM761 1234.17v11.05h1v-11.05zM774 1074v22.09h1v-22.09z"/>
<path fill="#008bff" d="M731 1167.9v38.66h1v-38.66zM737 1234.17v38.67h1v-38.67zM741 1267.31v33.14h1v-33.14zM753 1162.37v44.19h1v-44.19zM770 1278.36v33.14h1v-33.14zM776 1239.7v33.14h1v-33.14z"/>
<path fill="#0072ff" d="M731 1206.56v71.8h1v-71.8zM732 1250.74v11.05h1v-11.05zM735 1250.74v22.1h1v-22.1zM741 1195.51v27.62h1v-27.62zM748 1305.98v5.52h1v-5.52zM757 1261.79v22.09h1v-22.09zM758 1234.17v66.28h1v-66.28zM763 1272.84v22.09h1v-22.09zM764 1245.22v33.14h1v-33.14zM773 1189.99v16.57h1v-16.57zM775 1261.79v27.62h1v-27.62z"/>
<path fill="#b7ff00" d="M733 1074v77.33h1v-77.33zM734 1162.37v16.57h1v-16.57zM750 1178.94v38.66h1v-38.66zM761 1245.22v11.05h1v-11.05zM774 1096.09v22.1h1v-22.1z"/>
<path fill="#ffdd00" d="M733 1206.56v55.23h1v-55.23zM736 1300.45v5.53h1v-5.53zM746 1074v22.09h1v-22.09zM746 1173.42v60.75h1v-60.75zM755 1096.09v38.67h1v-38.67zM769 1189.99v33.14h1v-33.14zM774 1118.19v33.14h1v-33.14zM774 1234.17v22.1h1v-22.1zM779 1267.31v22.1h1v-22.1zM780 1300.45v5.53h1v-5.53z"/>
<path fill="#82ff00" d="M734 1074v33.14h1v-33.14zM746 1294.93v5.52h1v-5.52zM749 1289.41v5.52h1v-5.52z"/>
<path fill="#4cff00" d="M734 1178.94v77.33h1v-77.33zM741 1300.45v11.05h1v-11.05zM780 1305.98v5.52h1v-5.52z"/>
<path fill="#0041ff" d="M742 1278.36v33.14h1v-33.14zM776 1195.51v44.19h1v-44.19zM779 1289.41v16.57h1v-16.57z"/>
<path fill="#ffc800" d="M746 1096.09v33.14h1v-33.14zM746 1305.98v5.52h1v-5.52zM750 1261.79v11.05h1v-11.05zM755 1201.03v44.19h1v-44.19zM761 1074v66.28h1v-66.28zM761 1223.13v11.04h1v-11.04zM769 1123.71v27.62h1v-27.62z"/>
<path fill="#ffb300" d="M750 1074v22.09h1v-22.09zM755 1267.31v22.1h1v-22.1zM769 1074v22.09h1v-22.09zM779 1074v33.14h1v-33.14zM779 1228.65v38.66h1v-38.66z"/>
<rect x="726" y="1079.27" width="56" height="0.5" fill="#ffffff" fill-opacity="0.10"/>
<rect x="726" y="1084.8" width="56" height="0.5" fill="#ffffff" fill-opacity="0.10"/>
<rect x="726" y="1090.32" width="56" height="0.5" fill="#ffffff" fill-opacity="0.10"/>
<rect x="726" y="1095.84" width="56" height="0.5" fill="#ffffff" fill-opacity="0.10"/>
<rect x="726" y="1101.37" width="56" height="0.5" fill="#ffffff" fill-opacity="0.10"/>
<rect x="726" y="1106.89" width="56" height="0.5" fill="#ffffff" fill-opacity="0.10"/>
<rect x="726" y="1112.41" width="56" height="0.5" fill="#ffffff" fill-opacity="0.10"/>
<rect x="726" y="1117.94" width="56" height="0.5" fill="#ffffff" fill-opacity="0.10"/>
<rect x="726" y="1123.46" width="56" height="0.5" fill="#ffffff" fill-opacity="0.10"/>
<rect x="726" y="1128.98" width="56" height="0.5" fill="#ffffff" fill-opacity="0.10"/>
<rect x="726" y="1134.51" width="56" height="0.5" fill="#ffffff" fill-opacity="0.10"/>
<rect x="726" y="1140.03" width="56" height="0.5" fill="#ffffff" fill-opacity="0.10"/>
<rect x="726" y="1145.55" width="56" height="0.5" fill="#ffffff" fill-opacity="0.10"/>
<rect x="726" y="1151.08" width="56" height="0.5" fill="#ffffff" fill-opacity="0.10"/>
<rect x="726" y="1156.6" width="56" height="0.5" fill="#ffffff" fill-opacity="0.10"/>
<rect x="726" y="1162.12" width="56" height="0.5" fill="#ffffff" fill-opacity="0.10"/>
<rect x="726" y="1167.65" width="56" height="0.5" fill="#ffffff" fill-opacity="0.10"/>
<rect x="726" y="1173.17" width="56" height="0.5" fill="#ffffff" fill-opacity="0.10"/>
<rect x="726" y="1178.69" width="56" height="0.5" fill="#ffffff" fill-opacity="0.10"/>
<rect x="726" y="1184.22" width="56" height="0.5" fill="#ffffff" fill-opacity="0.10"/>
<rect x="726" y="1189.74" width="56" height="0.5" fill="#ffffff" fill-opacity="0.10"/>
<rect x="726" y="1195.26" width="56" height="0.5" fill="#ffffff" fill-opacity="0.10"/>
<rect x="726" y="1200.78" width="56" height="0.5" fill="#ffffff" fill-opacity="0.10"/>
<rect x="726" y="1206.31" width="56" height="0.5" fill="#ffffff" fill-opacity="0.10"/>
<rect x="726" y="1211.83" width="56" height="0.5" fill="#ffffff" fill-opacity="0.10"/>
<rect x="726" y="1217.35" width="56" height="0.5" fill="#ffffff" fill-opacity="0.10"/>
<rect x="726" y="1222.88" width="56" height="0.5" fill="#ffffff" fill-opacity="0.10"/>
<rect x="726" y="1228.4" width="56" height="0.5" fill="#ffffff" fill-opacity="0.10"/>
<rect x="726" y="1233.92" width="56" height="0.5" fill="#ffffff" fill-opacity="0.10"/>
<rect x="726" y="1239.45" width="56" height="0.5" fill="#ffffff" fill-opacity="0.10"/>
<rect x="726" y="1244.97" width="56" height="0.5" fill="#ffffff" fill-opacity="0.10"/>
<rect x="726" y="1250.49" width="56" height="0.5" fill="#ffffff" fill-opacity="0.10"/>
<rect x="726" y="1256.02" width="56" height="0.5" fill="#ffffff" fill-opacity="0.10"/>
<rect x="726" y="1261.54" width="56" height="0.5" fill="#ffffff" fill-opacity="0.10"/>
<rect x="726" y="1267.06" width="56" height="0.5" fill="#ffffff" fill-opacity="0.10"/>
<rect x="726" y="1272.59" width="56" height="0.5" fill="#ffffff" fill-opacity="0.10"/>
<rect x="726" y="1278.11" width="56" height="0.5" fill="#ffffff" fill-opacity="0.10"/>
<rect x="726" y="1283.63" width="56" height="0.5" fill="#ffffff" fill-opacity="0.10"/>
<rect x="726" y="1289.16" width="56" height="0.5" fill="#ffffff" fill-opacity="0.10"/>
<rect x="726" y="1294.68" width="56" height="0.5" fill="#ffffff" fill-opacity="0.10"/>
<rect x="726" y="1300.2" width="56" height="0.5" fill="#ffffff" fill-opacity="0.10"/>
<rect x="726" y="1305.73" width="56" height="0.5" fill="#ffffff" fill-opacity="0.10"/>
<g font-family="'DejaVu Sans Condensed','DejaVu Sans',sans-serif" font-size="35.8" font-weight="bold" fill="#000" opacity="0.255">
<text x="125" y="1211.5" textLength="170" lengthAdjust="spacingAndGlyphs">Institute</text>
<text x="303.3" y="1211.5" textLength="41.7" lengthAdjust="spacingAndGlyphs">of</text>
<text x="352.5" y="1211.5" textLength="226.5" lengthAdjust="spacingAndGlyphs">ionosphere,</text>
<text x="585.5" y="1211.5" textLength="149.5" lengthAdjust="spacingAndGlyphs">Kharkiv</text>
</g>
<rect x="79" y="1371" width="696" height="20" fill="#000"/>
<rect x="80" y="1372" width="694" height="18" fill="url(#gV)"/>
<rect x="165" y="1372" width="1" height="4" fill="#000"/>
<rect x="165" y="1386" width="1" height="4" fill="#000"/>
<rect x="252" y="1372" width="1" height="4" fill="#000"/>
<rect x="252" y="1386" width="1" height="4" fill="#000"/>
<rect x="339" y="1372" width="1" height="4" fill="#000"/>
<rect x="339" y="1386" width="1" height="4" fill="#000"/>
<rect x="426" y="1372" width="1" height="4" fill="#000"/>
<rect x="426" y="1386" width="1" height="4" fill="#000"/>
<rect x="513" y="1372" width="1" height="4" fill="#000"/>
<rect x="513" y="1386" width="1" height="4" fill="#000"/>
<rect x="600" y="1372" width="1" height="4" fill="#000"/>
<rect x="600" y="1386" width="1" height="4" fill="#000"/>
<rect x="687" y="1372" width="1" height="4" fill="#000"/>
<rect x="687" y="1386" width="1" height="4" fill="#000"/>
<text x="77.5" y="1414" class="d" font-size="15.5" text-anchor="middle">-200</text>
<text x="164.375" y="1414" class="d" font-size="15.5" text-anchor="middle">-150</text>
<text x="251.25" y="1414" class="d" font-size="15.5" text-anchor="middle">-100</text>
<text x="338.125" y="1414" class="d" font-size="15.5" text-anchor="middle">-50</text>
<text x="427" y="1414" class="d" font-size="15.5" text-anchor="middle">0</text>
<text x="513.875" y="1414" class="d" font-size="15.5" text-anchor="middle">50</text>
<text x="600.75" y="1414" class="d" font-size="15.5" text-anchor="middle">100</text>
<text x="687.625" y="1414" class="d" font-size="15.5" text-anchor="middle">150</text>
<text x="774.5" y="1414" class="d" font-size="15.5" text-anchor="middle">200</text>
<text x="424.5" y="1428.5" class="u" font-size="16" text-anchor="middle">velocity, m/s</text>
<rect x="80" y="1456" width="701" height="1" fill="#000"/>
<rect x="80" y="1699" width="701" height="1" fill="#000"/>
<rect x="80" y="1456" width="1" height="244" fill="#000"/>
<rect x="780" y="1456" width="1" height="244" fill="#000"/>
<text x="82.6" y="1723.5" class="d" font-size="15.5" text-anchor="middle">0</text>
<rect x="109" y="1695" width="1" height="4" fill="#000"/>
<rect x="109" y="1457" width="1" height="4" fill="#000"/>
<rect x="138" y="1691" width="1" height="8" fill="#000"/>
<rect x="138" y="1457" width="1" height="8" fill="#000"/>
<text x="140.933" y="1723.5" class="d" font-size="15.5" text-anchor="middle">2</text>
<rect x="167" y="1695" width="1" height="4" fill="#000"/>
<rect x="167" y="1457" width="1" height="4" fill="#000"/>
<rect x="196" y="1691" width="1" height="8" fill="#000"/>
<rect x="196" y="1457" width="1" height="8" fill="#000"/>
<text x="199.267" y="1723.5" class="d" font-size="15.5" text-anchor="middle">4</text>
<rect x="226" y="1695" width="1" height="4" fill="#000"/>
<rect x="226" y="1457" width="1" height="4" fill="#000"/>
<rect x="255" y="1691" width="1" height="8" fill="#000"/>
<rect x="255" y="1457" width="1" height="8" fill="#000"/>
<text x="257.6" y="1723.5" class="d" font-size="15.5" text-anchor="middle">6</text>
<rect x="284" y="1695" width="1" height="4" fill="#000"/>
<rect x="284" y="1457" width="1" height="4" fill="#000"/>
<rect x="313" y="1691" width="1" height="8" fill="#000"/>
<rect x="313" y="1457" width="1" height="8" fill="#000"/>
<text x="315.933" y="1723.5" class="d" font-size="15.5" text-anchor="middle">8</text>
<rect x="342" y="1695" width="1" height="4" fill="#000"/>
<rect x="342" y="1457" width="1" height="4" fill="#000"/>
<rect x="371" y="1691" width="1" height="8" fill="#000"/>
<rect x="371" y="1457" width="1" height="8" fill="#000"/>
<text x="374.267" y="1723.5" class="d" font-size="15.5" text-anchor="middle">10</text>
<rect x="401" y="1695" width="1" height="4" fill="#000"/>
<rect x="401" y="1457" width="1" height="4" fill="#000"/>
<rect x="430" y="1691" width="1" height="8" fill="#000"/>
<rect x="430" y="1457" width="1" height="8" fill="#000"/>
<text x="432.6" y="1723.5" class="d" font-size="15.5" text-anchor="middle">12</text>
<rect x="459" y="1695" width="1" height="4" fill="#000"/>
<rect x="459" y="1457" width="1" height="4" fill="#000"/>
<rect x="488" y="1691" width="1" height="8" fill="#000"/>
<rect x="488" y="1457" width="1" height="8" fill="#000"/>
<text x="490.933" y="1723.5" class="d" font-size="15.5" text-anchor="middle">14</text>
<rect x="517" y="1695" width="1" height="4" fill="#000"/>
<rect x="517" y="1457" width="1" height="4" fill="#000"/>
<rect x="546" y="1691" width="1" height="8" fill="#000"/>
<rect x="546" y="1457" width="1" height="8" fill="#000"/>
<text x="549.267" y="1723.5" class="d" font-size="15.5" text-anchor="middle">16</text>
<rect x="576" y="1695" width="1" height="4" fill="#000"/>
<rect x="576" y="1457" width="1" height="4" fill="#000"/>
<rect x="605" y="1691" width="1" height="8" fill="#000"/>
<rect x="605" y="1457" width="1" height="8" fill="#000"/>
<text x="607.6" y="1723.5" class="d" font-size="15.5" text-anchor="middle">18</text>
<rect x="634" y="1695" width="1" height="4" fill="#000"/>
<rect x="634" y="1457" width="1" height="4" fill="#000"/>
<rect x="663" y="1691" width="1" height="8" fill="#000"/>
<rect x="663" y="1457" width="1" height="8" fill="#000"/>
<text x="665.933" y="1723.5" class="d" font-size="15.5" text-anchor="middle">20</text>
<rect x="692" y="1695" width="1" height="4" fill="#000"/>
<rect x="692" y="1457" width="1" height="4" fill="#000"/>
<rect x="721" y="1691" width="1" height="8" fill="#000"/>
<rect x="721" y="1457" width="1" height="8" fill="#000"/>
<text x="724.267" y="1723.5" class="d" font-size="15.5" text-anchor="middle">22</text>
<rect x="751" y="1695" width="1" height="4" fill="#000"/>
<rect x="751" y="1457" width="1" height="4" fill="#000"/>
<text x="782.6" y="1723.5" class="d" font-size="15.5" text-anchor="middle">24</text>
<text x="70.6" y="1704.6" class="d" font-size="15.5" text-anchor="end">58</text>
<rect x="81" y="1674" width="8" height="1" fill="#000"/>
<rect x="772" y="1674" width="8" height="1" fill="#000"/>
<text x="70.6" y="1680.3" class="d" font-size="15.5" text-anchor="end">59</text>
<rect x="81" y="1650" width="8" height="1" fill="#000"/>
<rect x="772" y="1650" width="8" height="1" fill="#000"/>
<text x="70.6" y="1656" class="d" font-size="15.5" text-anchor="end">60</text>
<rect x="81" y="1626" width="8" height="1" fill="#000"/>
<rect x="772" y="1626" width="8" height="1" fill="#000"/>
<text x="70.6" y="1631.7" class="d" font-size="15.5" text-anchor="end">61</text>
<rect x="81" y="1602" width="8" height="1" fill="#000"/>
<rect x="772" y="1602" width="8" height="1" fill="#000"/>
<text x="70.6" y="1607.4" class="d" font-size="15.5" text-anchor="end">62</text>
<rect x="81" y="1577" width="8" height="1" fill="#000"/>
<rect x="772" y="1577" width="8" height="1" fill="#000"/>
<text x="70.6" y="1583.1" class="d" font-size="15.5" text-anchor="end">63</text>
<rect x="81" y="1553" width="8" height="1" fill="#000"/>
<rect x="772" y="1553" width="8" height="1" fill="#000"/>
<text x="70.6" y="1558.8" class="d" font-size="15.5" text-anchor="end">64</text>
<rect x="81" y="1529" width="8" height="1" fill="#000"/>
<rect x="772" y="1529" width="8" height="1" fill="#000"/>
<text x="70.6" y="1534.5" class="d" font-size="15.5" text-anchor="end">65</text>
<rect x="81" y="1504" width="8" height="1" fill="#000"/>
<rect x="772" y="1504" width="8" height="1" fill="#000"/>
<text x="70.6" y="1510.2" class="d" font-size="15.5" text-anchor="end">66</text>
<rect x="81" y="1480" width="8" height="1" fill="#000"/>
<rect x="772" y="1480" width="8" height="1" fill="#000"/>
<text x="70.6" y="1485.9" class="d" font-size="15.5" text-anchor="end">67</text>
<text x="70.6" y="1461.6" class="d" font-size="15.5" text-anchor="end">68</text>
<text x="440.3" y="1736.7" class="d" font-size="15.5" text-anchor="middle">EET, h</text>
<text x="21.8" y="1572.3" class="d" font-size="15.5" text-anchor="middle" textLength="102.5" lengthAdjust="spacingAndGlyphs" transform="rotate(-90 21.8 1572.3)">relative units</text>
<text x="606" y="1478.6" class="d" font-size="15.5" textLength="96.3" lengthAdjust="spacingAndGlyphs">noise power</text>
<g font-family="'DejaVu Sans Condensed','DejaVu Sans',sans-serif" font-size="35.8" font-weight="bold" fill="#000" opacity="0.255">
<text x="125" y="1591.5" textLength="170" lengthAdjust="spacingAndGlyphs">Institute</text>
<text x="303.3" y="1591.5" textLength="41.7" lengthAdjust="spacingAndGlyphs">of</text>
<text x="352.5" y="1591.5" textLength="226.5" lengthAdjust="spacingAndGlyphs">ionosphere,</text>
<text x="585.5" y="1591.5" textLength="149.5" lengthAdjust="spacingAndGlyphs">Kharkiv</text>
</g>
<path d="M733 1473.5h7M736.5 1470v7M725 1476.5h7M728.5 1473v7M724 1480.5h7M727.5 1477v7M727 1482.5h7M730.5 1479v7M724 1488.5h7M727.5 1485v7M727 1491.5h7M730.5 1488v7M728 1493.5h7M731.5 1490v7M725 1494.5h7M728.5 1491v7M723 1506.5h7M726.5 1503v7M728 1506.5h7M731.5 1503v7M729 1510.5h7M732.5 1507v7M723 1522.5h7M726.5 1519v7M723 1525.5h7M726.5 1522v7M722 1535.5h7M725.5 1532v7M730 1589.5h7M733.5 1586v7M730 1622.5h7M733.5 1619v7M722 1639.5h7M725.5 1636v7M731 1639.5h7M734.5 1636v7M731 1649.5h7M734.5 1646v7M747 1628.5h7M750.5 1625v7M749 1592.5h7M752.5 1589v7M750 1595.5h7M753.5 1592v7M759 1592.5h7M762.5 1589v7M760 1594.5h7M763.5 1591v7M758 1598.5h7M761.5 1595v7M757 1600.5h7M760.5 1597v7M760 1584.5h7M763.5 1581v7M767 1594.5h7M770.5 1591v7M763 1556.5h7M766.5 1553v7M761 1563.5h7M764.5 1560v7M764 1564.5h7M767.5 1561v7M762 1568.5h7M765.5 1565v7M766 1570.5h7M769.5 1567v7M763 1574.5h7M766.5 1571v7M765 1577.5h7M768.5 1574v7M766 1580.5h7M769.5 1577v7M766 1583.5h7M769.5 1580v7M750 1603.5h7M753.5 1600v7M751 1608.5h7M754.5 1605v7M753 1610.5h7M756.5 1607v7M755 1610.5h7M758.5 1607v7M757 1610.5h7M760.5 1607v7M748 1612.5h7M751.5 1609v7M751 1613.5h7M754.5 1610v7M748 1616.5h7M751.5 1613v7M755 1616.5h7M758.5 1613v7M755 1619.5h7M758.5 1616v7M754 1622.5h7M757.5 1619v7M753 1623.5h7M756.5 1620v7M755 1623.5h7M758.5 1620v7M767 1616.5h7M770.5 1613v7M769 1619.5h7M772.5 1616v7M771 1620.5h7M774.5 1617v7M775 1620.5h7M778.5 1617v7M768 1625.5h7M771.5 1622v7M771 1625.5h7M774.5 1622v7M775 1626.5h7M778.5 1623v7M770 1630.5h7M773.5 1627v7M768 1633.5h7M771.5 1630v7M771 1634.5h7M774.5 1631v7M775 1634.5h7M778.5 1631v7M773 1637.5h7M776.5 1634v7M768 1640.5h7M771.5 1637v7M773 1641.5h7M776.5 1638v7M774 1653.5h7M777.5 1650v7M745 1644.5h7M748.5 1641v7M747 1648.5h7M750.5 1645v7M743 1653.5h7M746.5 1650v7M746 1654.5h7M749.5 1651v7M746 1660.5h7M749.5 1657v7M744 1662.5h7M747.5 1659v7M743 1665.5h7M746.5 1662v7M732 1661.5h7M735.5 1658v7M734 1664.5h7M737.5 1661v7M737 1665.5h7M740.5 1662v7M739 1668.5h7M742.5 1665v7M734 1668.5h7M737.5 1665v7M740 1671.5h7M743.5 1668v7M738 1672.5h7M741.5 1669v7M735 1674.5h7M738.5 1671v7M739 1676.5h7M742.5 1673v7M733 1678.5h7M736.5 1675v7M737 1679.5h7M740.5 1676v7M741 1679.5h7M744.5 1676v7M744 1679.5h7M747.5 1676v7M732 1681.5h7M735.5 1678v7M736 1682.5h7M739.5 1679v7M740 1682.5h7M743.5 1679v7M733 1686.5h7M736.5 1683v7M738 1684.5h7M741.5 1681v7M741 1685.5h7M744.5 1682v7M741 1691.5h7M744.5 1688v7M733 1473.5h7M736.5 1470v7" stroke="#9400d3" stroke-width="1" fill="none" shape-rendering="geometricPrecision"/>
<rect x="72" y="1756" width="711" height="1" fill="#000"/>
<rect x="72" y="1999" width="711" height="1" fill="#000"/>
<rect x="72" y="1756" width="1" height="244" fill="#000"/>
<rect x="782" y="1756" width="1" height="244" fill="#000"/>
<text x="74.2" y="2024.1" class="u" font-size="16" text-anchor="middle" textLength="8.6" lengthAdjust="spacingAndGlyphs">0</text>
<rect x="101" y="1995" width="1" height="4" fill="#000"/>
<rect x="101" y="1757" width="1" height="4" fill="#000"/>
<rect x="131" y="1991" width="1" height="8" fill="#000"/>
<rect x="131" y="1757" width="1" height="8" fill="#000"/>
<text x="133.367" y="2024.1" class="u" font-size="16" text-anchor="middle" textLength="8.6" lengthAdjust="spacingAndGlyphs">2</text>
<rect x="160" y="1995" width="1" height="4" fill="#000"/>
<rect x="160" y="1757" width="1" height="4" fill="#000"/>
<rect x="190" y="1991" width="1" height="8" fill="#000"/>
<rect x="190" y="1757" width="1" height="8" fill="#000"/>
<text x="192.533" y="2024.1" class="u" font-size="16" text-anchor="middle" textLength="8.6" lengthAdjust="spacingAndGlyphs">4</text>
<rect x="220" y="1995" width="1" height="4" fill="#000"/>
<rect x="220" y="1757" width="1" height="4" fill="#000"/>
<rect x="249" y="1991" width="1" height="8" fill="#000"/>
<rect x="249" y="1757" width="1" height="8" fill="#000"/>
<text x="251.7" y="2024.1" class="u" font-size="16" text-anchor="middle" textLength="8.6" lengthAdjust="spacingAndGlyphs">6</text>
<rect x="279" y="1995" width="1" height="4" fill="#000"/>
<rect x="279" y="1757" width="1" height="4" fill="#000"/>
<rect x="308" y="1991" width="1" height="8" fill="#000"/>
<rect x="308" y="1757" width="1" height="8" fill="#000"/>
<text x="310.867" y="2024.1" class="u" font-size="16" text-anchor="middle" textLength="8.6" lengthAdjust="spacingAndGlyphs">8</text>
<rect x="338" y="1995" width="1" height="4" fill="#000"/>
<rect x="338" y="1757" width="1" height="4" fill="#000"/>
<rect x="368" y="1991" width="1" height="8" fill="#000"/>
<rect x="368" y="1757" width="1" height="8" fill="#000"/>
<text x="370.033" y="2024.1" class="u" font-size="16" text-anchor="middle" textLength="17.8" lengthAdjust="spacingAndGlyphs">10</text>
<rect x="397" y="1995" width="1" height="4" fill="#000"/>
<rect x="397" y="1757" width="1" height="4" fill="#000"/>
<rect x="427" y="1991" width="1" height="8" fill="#000"/>
<rect x="427" y="1757" width="1" height="8" fill="#000"/>
<text x="429.2" y="2024.1" class="u" font-size="16" text-anchor="middle" textLength="17.8" lengthAdjust="spacingAndGlyphs">12</text>
<rect x="456" y="1995" width="1" height="4" fill="#000"/>
<rect x="456" y="1757" width="1" height="4" fill="#000"/>
<rect x="486" y="1991" width="1" height="8" fill="#000"/>
<rect x="486" y="1757" width="1" height="8" fill="#000"/>
<text x="488.367" y="2024.1" class="u" font-size="16" text-anchor="middle" textLength="17.8" lengthAdjust="spacingAndGlyphs">14</text>
<rect x="516" y="1995" width="1" height="4" fill="#000"/>
<rect x="516" y="1757" width="1" height="4" fill="#000"/>
<rect x="545" y="1991" width="1" height="8" fill="#000"/>
<rect x="545" y="1757" width="1" height="8" fill="#000"/>
<text x="547.533" y="2024.1" class="u" font-size="16" text-anchor="middle" textLength="17.8" lengthAdjust="spacingAndGlyphs">16</text>
<rect x="575" y="1995" width="1" height="4" fill="#000"/>
<rect x="575" y="1757" width="1" height="4" fill="#000"/>
<rect x="604" y="1991" width="1" height="8" fill="#000"/>
<rect x="604" y="1757" width="1" height="8" fill="#000"/>
<text x="606.7" y="2024.1" class="u" font-size="16" text-anchor="middle" textLength="17.8" lengthAdjust="spacingAndGlyphs">18</text>
<rect x="634" y="1995" width="1" height="4" fill="#000"/>
<rect x="634" y="1757" width="1" height="4" fill="#000"/>
<rect x="663" y="1991" width="1" height="8" fill="#000"/>
<rect x="663" y="1757" width="1" height="8" fill="#000"/>
<text x="665.867" y="2024.1" class="u" font-size="16" text-anchor="middle" textLength="17.8" lengthAdjust="spacingAndGlyphs">20</text>
<rect x="693" y="1995" width="1" height="4" fill="#000"/>
<rect x="693" y="1757" width="1" height="4" fill="#000"/>
<rect x="723" y="1991" width="1" height="8" fill="#000"/>
<rect x="723" y="1757" width="1" height="8" fill="#000"/>
<text x="725.033" y="2024.1" class="u" font-size="16" text-anchor="middle" textLength="17.8" lengthAdjust="spacingAndGlyphs">22</text>
<rect x="752" y="1995" width="1" height="4" fill="#000"/>
<rect x="752" y="1757" width="1" height="4" fill="#000"/>
<text x="784.2" y="2024.1" class="u" font-size="16" text-anchor="middle" textLength="17.8" lengthAdjust="spacingAndGlyphs">24</text>
<text x="63.3" y="2004.9" class="u" font-size="16" text-anchor="end" textLength="22" lengthAdjust="spacingAndGlyphs">0.6</text>
<rect x="73" y="1964" width="8" height="1" fill="#000"/>
<rect x="774" y="1964" width="8" height="1" fill="#000"/>
<text x="63.3" y="1970.19" class="u" font-size="16" text-anchor="end" textLength="22" lengthAdjust="spacingAndGlyphs">0.8</text>
<rect x="73" y="1929" width="8" height="1" fill="#000"/>
<rect x="774" y="1929" width="8" height="1" fill="#000"/>
<text x="63.3" y="1935.47" class="u" font-size="16" text-anchor="end" textLength="8.6" lengthAdjust="spacingAndGlyphs">1</text>
<rect x="73" y="1895" width="8" height="1" fill="#000"/>
<rect x="774" y="1895" width="8" height="1" fill="#000"/>
<text x="63.3" y="1900.76" class="u" font-size="16" text-anchor="end" textLength="22" lengthAdjust="spacingAndGlyphs">1.2</text>
<rect x="73" y="1860" width="8" height="1" fill="#000"/>
<rect x="774" y="1860" width="8" height="1" fill="#000"/>
<text x="63.3" y="1866.04" class="u" font-size="16" text-anchor="end" textLength="22" lengthAdjust="spacingAndGlyphs">1.4</text>
<rect x="73" y="1825" width="8" height="1" fill="#000"/>
<rect x="774" y="1825" width="8" height="1" fill="#000"/>
<text x="63.3" y="1831.33" class="u" font-size="16" text-anchor="end" textLength="22" lengthAdjust="spacingAndGlyphs">1.6</text>
<rect x="73" y="1790" width="8" height="1" fill="#000"/>
<rect x="774" y="1790" width="8" height="1" fill="#000"/>
<text x="63.3" y="1796.61" class="u" font-size="16" text-anchor="end" textLength="22" lengthAdjust="spacingAndGlyphs">1.8</text>
<text x="63.3" y="1761.9" class="u" font-size="16" text-anchor="end" textLength="8.6" lengthAdjust="spacingAndGlyphs">2</text>
<text x="430.5" y="2036.2" class="u" font-size="16" text-anchor="middle" textLength="44.5" lengthAdjust="spacingAndGlyphs">EET, h</text>
<text x="623.3" y="1778.25" class="u" font-size="16.5" textLength="45" lengthAdjust="spacingAndGlyphs">q for h</text>
<text x="670" y="1783.25" class="u" font-size="12" textLength="17" lengthAdjust="spacingAndGlyphs">qH</text>
<text x="687.4" y="1778.25" class="u" font-size="9">2</text>
<text x="693.2" y="1784.25" class="u" font-size="10" textLength="19" lengthAdjust="spacingAndGlyphs">max</text>
<g font-family="'DejaVu Sans Condensed','DejaVu Sans',sans-serif" font-size="35.8" font-weight="bold" fill="#000" opacity="0.255">
<text x="125" y="1891.5" textLength="170" lengthAdjust="spacingAndGlyphs">Institute</text>
<text x="303.3" y="1891.5" textLength="41.7" lengthAdjust="spacingAndGlyphs">of</text>
<text x="352.5" y="1891.5" textLength="226.5" lengthAdjust="spacingAndGlyphs">ionosphere,</text>
<text x="585.5" y="1891.5" textLength="149.5" lengthAdjust="spacingAndGlyphs">Kharkiv</text>
</g>
<path d="M739 1773.5h7M742.5 1770v7M735 1788.5h7M738.5 1785v7M737 1792.5h7M740.5 1789v7M734 1799.5h7M737.5 1796v7M738 1799.5h7M741.5 1796v7M741 1812.5h7M744.5 1809v7M739 1816.5h7M742.5 1813v7M735 1822.5h7M738.5 1819v7M733 1825.5h7M736.5 1822v7M723 1826.5h7M726.5 1823v7M731 1833.5h7M734.5 1830v7M733 1833.5h7M736.5 1830v7M736 1833.5h7M739.5 1830v7M736 1836.5h7M739.5 1833v7M738 1841.5h7M741.5 1838v7M724 1842.5h7M727.5 1839v7M741 1845.5h7M744.5 1842v7M743 1846.5h7M746.5 1843v7M727 1848.5h7M730.5 1845v7M734 1847.5h7M737.5 1844v7M745 1852.5h7M748.5 1849v7M740 1851.5h7M743.5 1848v7M738 1853.5h7M741.5 1850v7M723 1853.5h7M726.5 1850v7M728 1853.5h7M731.5 1850v7M730 1854.5h7M733.5 1851v7M730 1858.5h7M733.5 1855v7M740 1859.5h7M743.5 1856v7M743 1859.5h7M746.5 1856v7M725 1864.5h7M728.5 1861v7M744 1868.5h7M747.5 1865v7M742 1872.5h7M745.5 1869v7M725 1871.5h7M728.5 1868v7M727 1873.5h7M730.5 1870v7M729 1873.5h7M732.5 1870v7M750 1874.5h7M753.5 1871v7M726 1881.5h7M729.5 1878v7M746 1880.5h7M749.5 1877v7M753 1880.5h7M756.5 1877v7M755 1881.5h7M758.5 1878v7M746 1886.5h7M749.5 1883v7M773 1881.5h7M776.5 1878v7M777 1883.5h7M780.5 1880v7M770 1886.5h7M773.5 1883v7M772 1888.5h7M775.5 1885v7M770 1893.5h7M773.5 1890v7M773 1896.5h7M776.5 1893v7M768 1899.5h7M771.5 1896v7M771 1901.5h7M774.5 1898v7M775 1904.5h7M778.5 1901v7M742 1899.5h7M745.5 1896v7M750 1899.5h7M753.5 1896v7M760 1900.5h7M763.5 1897v7M751 1904.5h7M754.5 1901v7M744 1906.5h7M747.5 1903v7M755 1908.5h7M758.5 1905v7M745 1909.5h7M748.5 1906v7M748 1910.5h7M751.5 1907v7M751 1910.5h7M754.5 1907v7M772 1910.5h7M775.5 1907v7M775 1911.5h7M778.5 1908v7M767 1913.5h7M770.5 1910v7M769 1911.5h7M772.5 1908v7M757 1913.5h7M760.5 1910v7M755 1916.5h7M758.5 1913v7M747 1918.5h7M750.5 1915v7M753 1919.5h7M756.5 1916v7M750 1921.5h7M753.5 1918v7M760 1921.5h7M763.5 1918v7M766 1923.5h7M769.5 1920v7M750 1924.5h7M753.5 1921v7M759 1924.5h7M762.5 1921v7M748 1927.5h7M751.5 1924v7M762 1930.5h7M765.5 1927v7M768 1930.5h7M771.5 1927v7M753 1933.5h7M756.5 1930v7M757 1933.5h7M760.5 1930v7M758 1934.5h7M761.5 1931v7M761 1933.5h7M764.5 1930v7M771 1933.5h7M774.5 1930v7M756 1936.5h7M759.5 1933v7M765 1937.5h7M768.5 1934v7M768 1937.5h7M771.5 1934v7M761 1940.5h7M764.5 1937v7M774 1940.5h7M777.5 1937v7M777 1940.5h7M780.5 1937v7M763 1944.5h7M766.5 1941v7M775 1948.5h7M778.5 1945v7M778 1949.5h7M781.5 1946v7M752 1948.5h7M755.5 1945v7M747 1951.5h7M750.5 1948v7M766 1950.5h7M769.5 1947v7M764 1956.5h7M767.5 1953v7M765 1957.5h7M768.5 1954v7M761 1973.5h7M764.5 1970v7M777 1970.5h7M780.5 1967v7M778 1971.5h7M781.5 1968v7M776 1989.5h7M779.5 1986v7M739 1773.5h7M742.5 1770v7" stroke="#9400d3" stroke-width="1" fill="none" shape-rendering="geometricPrecision"/>
<text x="584.3" y="2051.7" class="u" font-size="16.4" textLength="205.5" lengthAdjust="spacingAndGlyphs">confidence interval, SNR&lt;0.1</text>
<rect x="80" y="2052" width="703" height="1" fill="#000"/>
<rect x="80" y="2292" width="703" height="1" fill="#000"/>
<rect x="80" y="2052" width="1" height="241" fill="#000"/>
<rect x="782" y="2052" width="1" height="241" fill="#000"/>
<text x="82.2" y="2317.1" class="u" font-size="16" text-anchor="middle" textLength="8.6" lengthAdjust="spacingAndGlyphs">0</text>
<rect x="109" y="2288" width="1" height="4" fill="#000"/>
<rect x="109" y="2053" width="1" height="4" fill="#000"/>
<rect x="138" y="2284" width="1" height="8" fill="#000"/>
<rect x="138" y="2053" width="1" height="8" fill="#000"/>
<text x="140.7" y="2317.1" class="u" font-size="16" text-anchor="middle" textLength="8.6" lengthAdjust="spacingAndGlyphs">2</text>
<rect x="168" y="2288" width="1" height="4" fill="#000"/>
<rect x="168" y="2053" width="1" height="4" fill="#000"/>
<rect x="197" y="2284" width="1" height="8" fill="#000"/>
<rect x="197" y="2053" width="1" height="8" fill="#000"/>
<text x="199.2" y="2317.1" class="u" font-size="16" text-anchor="middle" textLength="8.6" lengthAdjust="spacingAndGlyphs">4</text>
<rect x="226" y="2288" width="1" height="4" fill="#000"/>
<rect x="226" y="2053" width="1" height="4" fill="#000"/>
<rect x="255" y="2284" width="1" height="8" fill="#000"/>
<rect x="255" y="2053" width="1" height="8" fill="#000"/>
<text x="257.7" y="2317.1" class="u" font-size="16" text-anchor="middle" textLength="8.6" lengthAdjust="spacingAndGlyphs">6</text>
<rect x="284" y="2288" width="1" height="4" fill="#000"/>
<rect x="284" y="2053" width="1" height="4" fill="#000"/>
<rect x="314" y="2284" width="1" height="8" fill="#000"/>
<rect x="314" y="2053" width="1" height="8" fill="#000"/>
<text x="316.2" y="2317.1" class="u" font-size="16" text-anchor="middle" textLength="8.6" lengthAdjust="spacingAndGlyphs">8</text>
<rect x="343" y="2288" width="1" height="4" fill="#000"/>
<rect x="343" y="2053" width="1" height="4" fill="#000"/>
<rect x="372" y="2284" width="1" height="8" fill="#000"/>
<rect x="372" y="2053" width="1" height="8" fill="#000"/>
<text x="374.7" y="2317.1" class="u" font-size="16" text-anchor="middle" textLength="17.8" lengthAdjust="spacingAndGlyphs">10</text>
<rect x="402" y="2288" width="1" height="4" fill="#000"/>
<rect x="402" y="2053" width="1" height="4" fill="#000"/>
<rect x="431" y="2284" width="1" height="8" fill="#000"/>
<rect x="431" y="2053" width="1" height="8" fill="#000"/>
<text x="433.2" y="2317.1" class="u" font-size="16" text-anchor="middle" textLength="17.8" lengthAdjust="spacingAndGlyphs">12</text>
<rect x="460" y="2288" width="1" height="4" fill="#000"/>
<rect x="460" y="2053" width="1" height="4" fill="#000"/>
<rect x="489" y="2284" width="1" height="8" fill="#000"/>
<rect x="489" y="2053" width="1" height="8" fill="#000"/>
<text x="491.7" y="2317.1" class="u" font-size="16" text-anchor="middle" textLength="17.8" lengthAdjust="spacingAndGlyphs">14</text>
<rect x="518" y="2288" width="1" height="4" fill="#000"/>
<rect x="518" y="2053" width="1" height="4" fill="#000"/>
<rect x="548" y="2284" width="1" height="8" fill="#000"/>
<rect x="548" y="2053" width="1" height="8" fill="#000"/>
<text x="550.2" y="2317.1" class="u" font-size="16" text-anchor="middle" textLength="17.8" lengthAdjust="spacingAndGlyphs">16</text>
<rect x="577" y="2288" width="1" height="4" fill="#000"/>
<rect x="577" y="2053" width="1" height="4" fill="#000"/>
<rect x="606" y="2284" width="1" height="8" fill="#000"/>
<rect x="606" y="2053" width="1" height="8" fill="#000"/>
<text x="608.7" y="2317.1" class="u" font-size="16" text-anchor="middle" textLength="17.8" lengthAdjust="spacingAndGlyphs">18</text>
<rect x="636" y="2288" width="1" height="4" fill="#000"/>
<rect x="636" y="2053" width="1" height="4" fill="#000"/>
<rect x="665" y="2284" width="1" height="8" fill="#000"/>
<rect x="665" y="2053" width="1" height="8" fill="#000"/>
<text x="667.2" y="2317.1" class="u" font-size="16" text-anchor="middle" textLength="17.8" lengthAdjust="spacingAndGlyphs">20</text>
<rect x="694" y="2288" width="1" height="4" fill="#000"/>
<rect x="694" y="2053" width="1" height="4" fill="#000"/>
<rect x="723" y="2284" width="1" height="8" fill="#000"/>
<rect x="723" y="2053" width="1" height="8" fill="#000"/>
<text x="725.7" y="2317.1" class="u" font-size="16" text-anchor="middle" textLength="17.8" lengthAdjust="spacingAndGlyphs">22</text>
<rect x="752" y="2288" width="1" height="4" fill="#000"/>
<rect x="752" y="2053" width="1" height="4" fill="#000"/>
<text x="784.2" y="2317.1" class="u" font-size="16" text-anchor="middle" textLength="17.8" lengthAdjust="spacingAndGlyphs">24</text>
<rect x="81" y="2265" width="8" height="1" fill="#000"/>
<text x="71.3" y="2271.05" class="u" font-size="16" text-anchor="end" textLength="27" lengthAdjust="spacingAndGlyphs">200</text>
<rect x="81" y="2234" width="8" height="1" fill="#000"/>
<text x="71.3" y="2240.6" class="u" font-size="16" text-anchor="end" textLength="27" lengthAdjust="spacingAndGlyphs">300</text>
<rect x="81" y="2204" width="8" height="1" fill="#000"/>
<text x="71.3" y="2210.15" class="u" font-size="16" text-anchor="end" textLength="27" lengthAdjust="spacingAndGlyphs">400</text>
<rect x="81" y="2174" width="8" height="1" fill="#000"/>
<text x="71.3" y="2179.7" class="u" font-size="16" text-anchor="end" textLength="27" lengthAdjust="spacingAndGlyphs">500</text>
<rect x="81" y="2143" width="8" height="1" fill="#000"/>
<text x="71.3" y="2149.25" class="u" font-size="16" text-anchor="end" textLength="27" lengthAdjust="spacingAndGlyphs">600</text>
<rect x="81" y="2113" width="8" height="1" fill="#000"/>
<text x="71.3" y="2118.8" class="u" font-size="16" text-anchor="end" textLength="27" lengthAdjust="spacingAndGlyphs">700</text>
<rect x="81" y="2082" width="8" height="1" fill="#000"/>
<text x="71.3" y="2088.35" class="u" font-size="16" text-anchor="end" textLength="27" lengthAdjust="spacingAndGlyphs">800</text>
<text x="71.3" y="2057.9" class="u" font-size="16" text-anchor="end" textLength="27" lengthAdjust="spacingAndGlyphs">900</text>
<text x="439" y="2329.5" class="u" font-size="16" text-anchor="middle" textLength="44.5" lengthAdjust="spacingAndGlyphs">EET, h</text>
<text x="26.8" y="2174.2" class="u" font-size="16.8" text-anchor="middle" textLength="84.5" lengthAdjust="spacingAndGlyphs" transform="rotate(-90 26.8 2174.2)">altitude, km</text>
<text x="661.3" y="2073.5" class="u" font-size="16.5">h</text>
<text x="670" y="2078.5" class="u" font-size="12" textLength="17" lengthAdjust="spacingAndGlyphs">qH</text>
<text x="687.4" y="2073.5" class="u" font-size="9">2</text>
<text x="693.2" y="2079.5" class="u" font-size="10" textLength="19" lengthAdjust="spacingAndGlyphs">max</text>
<g shape-rendering="geometricPrecision"><path d="M69 2172.2H77" stroke="#56b4e9" stroke-width="1.6" fill="none"/><path d="M74.5 2169.4L81 2172.2L74.5 2175Z" fill="#56b4e9"/></g>
<path fill="#979797" d="M726 2053v111.1h1v-111.1zM726 2278.5V2292h1V2278.5zM727 2053v112.6h1v-112.6zM727 2283V2292h1V2283zM728 2053v111.3h1v-111.3zM728 2284.5V2292h1V2284.5zM729 2053v111.7h1v-111.7zM729 2283.5V2292h1V2283.5zM730 2053v117.1h1v-117.1zM730 2283.9V2292h1V2283.9zM731 2053v111.9h1v-111.9zM731 2285.3V2292h1V2285.3zM732 2053v112.5h1v-112.5zM732 2285.3V2292h1V2285.3zM733 2053v110.2h1v-110.2zM733 2285.6V2292h1V2285.6zM734 2053v120.9h1v-120.9zM734 2286.1V2292h1V2286.1zM735 2053v121.3h1v-121.3zM735 2284.9V2292h1V2284.9zM736 2053v121.2h1v-121.2zM736 2285.5V2292h1V2285.5zM737 2053v117.4h1v-117.4zM737 2285.6V2292h1V2285.6zM738 2053v116.7h1v-116.7zM738 2275.2V2292h1V2275.2zM739 2053v126h1v-126zM739 2285.9V2292h1V2285.9zM740 2053v116.6h1v-116.6zM740 2284.7V2292h1V2284.7zM741 2053v118h1v-118zM741 2287.5V2292h1V2287.5zM742 2053v121.4h1v-121.4zM742 2286V2292h1V2286zM743 2053v116.5h1v-116.5zM743 2286.5V2292h1V2286.5zM744 2053v129.7h1v-129.7zM744 2286.4V2292h1V2286.4zM745 2053v120.9h1v-120.9zM745 2286.6V2292h1V2286.6zM746 2053v119.6h1v-119.6zM746 2286.8V2292h1V2286.8zM747 2053v121.1h1v-121.1zM747 2286.6V2292h1V2286.6zM748 2053v117.6h1v-117.6zM748 2287.5V2292h1V2287.5zM749 2053v127.8h1v-127.8zM749 2277.2V2292h1V2277.2zM750 2053v126.4h1v-126.4zM750 2286.6V2292h1V2286.6zM751 2053v114.2h1v-114.2zM751 2281.6V2292h1V2281.6zM752 2053v116.2h1v-116.2zM752 2286.3V2292h1V2286.3zM753 2053v115.7h1v-115.7zM753 2286.5V2292h1V2286.5zM754 2053v114.3h1v-114.3zM754 2286.4V2292h1V2286.4zM755 2053v132.4h1v-132.4zM755 2287.1V2292h1V2287.1zM756 2053v120.3h1v-120.3zM756 2278V2292h1V2278zM757 2053v129.9h1v-129.9zM757 2286.4V2292h1V2286.4zM758 2053v121.1h1v-121.1zM758 2286.2V2292h1V2286.2zM759 2053v121.9h1v-121.9zM759 2286.6V2292h1V2286.6zM760 2053v120h1v-120zM760 2276.2V2292h1V2276.2zM761 2053v122.6h1v-122.6zM761 2276.7V2292h1V2276.7zM762 2053v124.5h1v-124.5zM762 2270V2292h1V2270zM763 2053v124.9h1v-124.9zM763 2277.2V2292h1V2277.2zM764 2053v123.9h1v-123.9zM764 2275.7V2292h1V2275.7zM765 2053v125.2h1v-125.2zM765 2268.1V2292h1V2268.1zM766 2053v125.3h1v-125.3zM766 2264.7V2292h1V2264.7zM767 2053v125h1v-125zM767 2266V2292h1V2266zM768 2053v123.7h1v-123.7zM768 2264V2292h1V2264zM769 2053v123.6h1v-123.6zM769 2263.9V2292h1V2263.9zM770 2053v124.6h1v-124.6zM770 2267.7V2292h1V2267.7zM771 2053v135.8h1v-135.8zM771 2264.5V2292h1V2264.5zM772 2053v124.5h1v-124.5zM772 2265.6V2292h1V2265.6zM773 2053v124.4h1v-124.4zM773 2264.9V2292h1V2264.9zM774 2053v124.1h1v-124.1zM774 2256.3V2292h1V2256.3zM775 2053v124.9h1v-124.9zM775 2267.2V2292h1V2267.2zM776 2053v124.9h1v-124.9zM776 2265.1V2292h1V2265.1zM777 2053v132.4h1v-132.4zM777 2268.8V2292h1V2268.8zM778 2053v123.9h1v-123.9zM778 2267.7V2292h1V2267.7zM779 2053v128.8h1v-128.8zM779 2271.8V2292h1V2271.8zM780 2053v123.1h1v-123.1zM780 2269.3V2292h1V2269.3zM781 2053v123.8h1v-123.8zM781 2270.3V2292h1V2270.3z"/>
<path d="M741.875 2053V2292" stroke="#fff" stroke-opacity="0.3" stroke-width="1" stroke-dasharray="3 2" fill="none"/>
<path d="M761.25 2053V2292" stroke="#fff" stroke-opacity="0.3" stroke-width="1" stroke-dasharray="3 2" fill="none"/>
<path d="M766.25 2053V2292" stroke="#fff" stroke-opacity="0.3" stroke-width="1" stroke-dasharray="3 2" fill="none"/>
<g font-family="'DejaVu Sans Condensed','DejaVu Sans',sans-serif" font-size="35.8" font-weight="bold" fill="#000" opacity="0.255">
<text x="125" y="2190.5" textLength="170" lengthAdjust="spacingAndGlyphs">Institute</text>
<text x="303.3" y="2190.5" textLength="41.7" lengthAdjust="spacingAndGlyphs">of</text>
<text x="352.5" y="2190.5" textLength="226.5" lengthAdjust="spacingAndGlyphs">ionosphere,</text>
<text x="585.5" y="2190.5" textLength="149.5" lengthAdjust="spacingAndGlyphs">Kharkiv</text>
</g>
<path d="M727.0 2220.4l2.3 2.3l-2.3 2.3l-2.3 -2.3zM727.4 2224.1l2.3 2.3l-2.3 2.3l-2.3 -2.3zM727.7 2227.5l2.3 2.3l-2.3 2.3l-2.3 -2.3zM728.1 2228.4l2.3 2.3l-2.3 2.3l-2.3 -2.3zM728.5 2227.6l2.3 2.3l-2.3 2.3l-2.3 -2.3zM728.8 2224.4l2.3 2.3l-2.3 2.3l-2.3 -2.3zM729.2 2225.4l2.3 2.3l-2.3 2.3l-2.3 -2.3zM729.6 2223.9l2.3 2.3l-2.3 2.3l-2.3 -2.3zM730.0 2220.9l2.3 2.3l-2.3 2.3l-2.3 -2.3zM730.3 2223.6l2.3 2.3l-2.3 2.3l-2.3 -2.3zM730.7 2228.0l2.3 2.3l-2.3 2.3l-2.3 -2.3zM731.1 2226.1l2.3 2.3l-2.3 2.3l-2.3 -2.3zM731.4 2224.6l2.3 2.3l-2.3 2.3l-2.3 -2.3zM731.8 2222.6l2.3 2.3l-2.3 2.3l-2.3 -2.3zM732.2 2225.6l2.3 2.3l-2.3 2.3l-2.3 -2.3zM732.5 2224.3l2.3 2.3l-2.3 2.3l-2.3 -2.3zM732.9 2226.3l2.3 2.3l-2.3 2.3l-2.3 -2.3zM733.3 2227.8l2.3 2.3l-2.3 2.3l-2.3 -2.3zM733.6 2219.7l2.3 2.3l-2.3 2.3l-2.3 -2.3zM734.0 2226.4l2.3 2.3l-2.3 2.3l-2.3 -2.3zM734.4 2222.4l2.3 2.3l-2.3 2.3l-2.3 -2.3zM734.8 2224.1l2.3 2.3l-2.3 2.3l-2.3 -2.3zM735.1 2223.3l2.3 2.3l-2.3 2.3l-2.3 -2.3zM735.5 2230.4l2.3 2.3l-2.3 2.3l-2.3 -2.3zM735.9 2229.2l2.3 2.3l-2.3 2.3l-2.3 -2.3zM736.2 2228.7l2.3 2.3l-2.3 2.3l-2.3 -2.3zM736.6 2225.1l2.3 2.3l-2.3 2.3l-2.3 -2.3zM737.0 2223.0l2.3 2.3l-2.3 2.3l-2.3 -2.3zM737.3 2226.2l2.3 2.3l-2.3 2.3l-2.3 -2.3zM737.7 2228.0l2.3 2.3l-2.3 2.3l-2.3 -2.3zM738.1 2227.2l2.3 2.3l-2.3 2.3l-2.3 -2.3zM738.4 2229.4l2.3 2.3l-2.3 2.3l-2.3 -2.3zM738.8 2226.3l2.3 2.3l-2.3 2.3l-2.3 -2.3zM739.2 2232.7l2.3 2.3l-2.3 2.3l-2.3 -2.3zM739.6 2229.3l2.3 2.3l-2.3 2.3l-2.3 -2.3zM739.9 2233.2l2.3 2.3l-2.3 2.3l-2.3 -2.3zM740.3 2227.9l2.3 2.3l-2.3 2.3l-2.3 -2.3zM740.7 2226.4l2.3 2.3l-2.3 2.3l-2.3 -2.3zM741.0 2224.5l2.3 2.3l-2.3 2.3l-2.3 -2.3zM741.4 2229.3l2.3 2.3l-2.3 2.3l-2.3 -2.3zM741.8 2229.9l2.3 2.3l-2.3 2.3l-2.3 -2.3zM742.1 2227.2l2.3 2.3l-2.3 2.3l-2.3 -2.3zM742.5 2227.8l2.3 2.3l-2.3 2.3l-2.3 -2.3zM742.9 2225.6l2.3 2.3l-2.3 2.3l-2.3 -2.3zM743.2 2225.0l2.3 2.3l-2.3 2.3l-2.3 -2.3zM743.6 2225.3l2.3 2.3l-2.3 2.3l-2.3 -2.3zM744.0 2220.4l2.3 2.3l-2.3 2.3l-2.3 -2.3zM744.3 2222.8l2.3 2.3l-2.3 2.3l-2.3 -2.3zM744.7 2225.7l2.3 2.3l-2.3 2.3l-2.3 -2.3zM745.1 2225.8l2.3 2.3l-2.3 2.3l-2.3 -2.3zM745.5 2228.5l2.3 2.3l-2.3 2.3l-2.3 -2.3zM745.8 2226.9l2.3 2.3l-2.3 2.3l-2.3 -2.3zM746.2 2226.1l2.3 2.3l-2.3 2.3l-2.3 -2.3zM746.6 2224.8l2.3 2.3l-2.3 2.3l-2.3 -2.3zM746.9 2217.7l2.3 2.3l-2.3 2.3l-2.3 -2.3zM747.3 2224.4l2.3 2.3l-2.3 2.3l-2.3 -2.3zM747.7 2221.4l2.3 2.3l-2.3 2.3l-2.3 -2.3zM748.0 2225.3l2.3 2.3l-2.3 2.3l-2.3 -2.3zM748.4 2222.8l2.3 2.3l-2.3 2.3l-2.3 -2.3zM748.8 2222.5l2.3 2.3l-2.3 2.3l-2.3 -2.3zM749.1 2221.7l2.3 2.3l-2.3 2.3l-2.3 -2.3zM749.5 2222.2l2.3 2.3l-2.3 2.3l-2.3 -2.3zM749.9 2217.1l2.3 2.3l-2.3 2.3l-2.3 -2.3zM750.3 2218.0l2.3 2.3l-2.3 2.3l-2.3 -2.3zM750.6 2226.2l2.3 2.3l-2.3 2.3l-2.3 -2.3zM751.0 2223.7l2.3 2.3l-2.3 2.3l-2.3 -2.3zM751.4 2220.9l2.3 2.3l-2.3 2.3l-2.3 -2.3zM751.7 2221.0l2.3 2.3l-2.3 2.3l-2.3 -2.3zM752.1 2220.8l2.3 2.3l-2.3 2.3l-2.3 -2.3zM752.5 2231.5l2.3 2.3l-2.3 2.3l-2.3 -2.3zM752.8 2223.2l2.3 2.3l-2.3 2.3l-2.3 -2.3zM753.2 2221.5l2.3 2.3l-2.3 2.3l-2.3 -2.3zM753.6 2219.4l2.3 2.3l-2.3 2.3l-2.3 -2.3zM753.9 2214.3l2.3 2.3l-2.3 2.3l-2.3 -2.3zM754.3 2221.6l2.3 2.3l-2.3 2.3l-2.3 -2.3zM754.7 2225.3l2.3 2.3l-2.3 2.3l-2.3 -2.3zM755.1 2223.9l2.3 2.3l-2.3 2.3l-2.3 -2.3zM755.4 2221.9l2.3 2.3l-2.3 2.3l-2.3 -2.3zM755.8 2219.2l2.3 2.3l-2.3 2.3l-2.3 -2.3zM756.2 2217.5l2.3 2.3l-2.3 2.3l-2.3 -2.3zM756.5 2221.2l2.3 2.3l-2.3 2.3l-2.3 -2.3zM756.9 2219.7l2.3 2.3l-2.3 2.3l-2.3 -2.3zM757.3 2217.6l2.3 2.3l-2.3 2.3l-2.3 -2.3zM757.6 2225.9l2.3 2.3l-2.3 2.3l-2.3 -2.3zM758.0 2218.2l2.3 2.3l-2.3 2.3l-2.3 -2.3zM758.4 2219.5l2.3 2.3l-2.3 2.3l-2.3 -2.3zM758.7 2214.0l2.3 2.3l-2.3 2.3l-2.3 -2.3zM759.1 2226.3l2.3 2.3l-2.3 2.3l-2.3 -2.3zM759.5 2220.8l2.3 2.3l-2.3 2.3l-2.3 -2.3zM759.9 2221.2l2.3 2.3l-2.3 2.3l-2.3 -2.3zM760.2 2222.3l2.3 2.3l-2.3 2.3l-2.3 -2.3zM760.6 2219.1l2.3 2.3l-2.3 2.3l-2.3 -2.3zM761.0 2219.9l2.3 2.3l-2.3 2.3l-2.3 -2.3zM761.3 2222.7l2.3 2.3l-2.3 2.3l-2.3 -2.3zM761.7 2219.5l2.3 2.3l-2.3 2.3l-2.3 -2.3zM762.1 2223.1l2.3 2.3l-2.3 2.3l-2.3 -2.3zM762.4 2225.9l2.3 2.3l-2.3 2.3l-2.3 -2.3zM762.8 2224.7l2.3 2.3l-2.3 2.3l-2.3 -2.3zM763.2 2226.9l2.3 2.3l-2.3 2.3l-2.3 -2.3zM763.5 2226.0l2.3 2.3l-2.3 2.3l-2.3 -2.3zM763.9 2228.2l2.3 2.3l-2.3 2.3l-2.3 -2.3zM764.3 2224.0l2.3 2.3l-2.3 2.3l-2.3 -2.3zM764.7 2224.7l2.3 2.3l-2.3 2.3l-2.3 -2.3zM765.0 2220.3l2.3 2.3l-2.3 2.3l-2.3 -2.3zM765.4 2223.2l2.3 2.3l-2.3 2.3l-2.3 -2.3zM765.8 2221.8l2.3 2.3l-2.3 2.3l-2.3 -2.3zM766.1 2224.0l2.3 2.3l-2.3 2.3l-2.3 -2.3zM766.5 2221.2l2.3 2.3l-2.3 2.3l-2.3 -2.3zM766.9 2225.5l2.3 2.3l-2.3 2.3l-2.3 -2.3zM767.2 2232.5l2.3 2.3l-2.3 2.3l-2.3 -2.3zM767.6 2222.6l2.3 2.3l-2.3 2.3l-2.3 -2.3zM768.0 2226.9l2.3 2.3l-2.3 2.3l-2.3 -2.3zM768.3 2227.2l2.3 2.3l-2.3 2.3l-2.3 -2.3zM768.7 2223.3l2.3 2.3l-2.3 2.3l-2.3 -2.3zM769.1 2224.8l2.3 2.3l-2.3 2.3l-2.3 -2.3zM769.4 2224.3l2.3 2.3l-2.3 2.3l-2.3 -2.3zM769.8 2227.3l2.3 2.3l-2.3 2.3l-2.3 -2.3zM770.2 2224.3l2.3 2.3l-2.3 2.3l-2.3 -2.3zM770.6 2234.1l2.3 2.3l-2.3 2.3l-2.3 -2.3zM770.9 2229.1l2.3 2.3l-2.3 2.3l-2.3 -2.3zM771.3 2230.0l2.3 2.3l-2.3 2.3l-2.3 -2.3zM771.7 2233.2l2.3 2.3l-2.3 2.3l-2.3 -2.3zM772.0 2231.0l2.3 2.3l-2.3 2.3l-2.3 -2.3zM772.4 2226.6l2.3 2.3l-2.3 2.3l-2.3 -2.3zM772.8 2228.1l2.3 2.3l-2.3 2.3l-2.3 -2.3zM773.1 2227.2l2.3 2.3l-2.3 2.3l-2.3 -2.3zM773.5 2228.0l2.3 2.3l-2.3 2.3l-2.3 -2.3zM773.9 2230.2l2.3 2.3l-2.3 2.3l-2.3 -2.3zM774.2 2221.4l2.3 2.3l-2.3 2.3l-2.3 -2.3zM774.6 2222.3l2.3 2.3l-2.3 2.3l-2.3 -2.3zM775.0 2226.4l2.3 2.3l-2.3 2.3l-2.3 -2.3zM775.4 2228.7l2.3 2.3l-2.3 2.3l-2.3 -2.3zM775.7 2225.9l2.3 2.3l-2.3 2.3l-2.3 -2.3zM776.1 2226.8l2.3 2.3l-2.3 2.3l-2.3 -2.3zM776.5 2230.6l2.3 2.3l-2.3 2.3l-2.3 -2.3zM776.8 2229.3l2.3 2.3l-2.3 2.3l-2.3 -2.3zM777.2 2226.9l2.3 2.3l-2.3 2.3l-2.3 -2.3zM777.6 2226.2l2.3 2.3l-2.3 2.3l-2.3 -2.3zM777.9 2222.7l2.3 2.3l-2.3 2.3l-2.3 -2.3zM778.3 2228.4l2.3 2.3l-2.3 2.3l-2.3 -2.3zM778.7 2227.2l2.3 2.3l-2.3 2.3l-2.3 -2.3zM779.0 2223.9l2.3 2.3l-2.3 2.3l-2.3 -2.3zM779.4 2228.1l2.3 2.3l-2.3 2.3l-2.3 -2.3zM779.8 2225.4l2.3 2.3l-2.3 2.3l-2.3 -2.3zM780.2 2225.3l2.3 2.3l-2.3 2.3l-2.3 -2.3zM780.5 2221.3l2.3 2.3l-2.3 2.3l-2.3 -2.3zM780.9 2228.7l2.3 2.3l-2.3 2.3l-2.3 -2.3zM781.3 2223.6l2.3 2.3l-2.3 2.3l-2.3 -2.3zM781.6 2226.6l2.3 2.3l-2.3 2.3l-2.3 -2.3zM782.0 2226.2l2.3 2.3l-2.3 2.3l-2.3 -2.3zM764.4 2205.0l2.3 2.3l-2.3 2.3l-2.3 -2.3zM750.4 2211.2l2.3 2.3l-2.3 2.3l-2.3 -2.3zM780.0 2211.2l2.3 2.3l-2.3 2.3l-2.3 -2.3zM744.4 2234.2l2.3 2.3l-2.3 2.3l-2.3 -2.3zM759.4 2232.7l2.3 2.3l-2.3 2.3l-2.3 -2.3zM763.4 2231.2l2.3 2.3l-2.3 2.3l-2.3 -2.3zM777.5 2234.2l2.3 2.3l-2.3 2.3l-2.3 -2.3zM782.0 2219.7l2.3 2.3l-2.3 2.3l-2.3 -2.3z" fill="#009e73" shape-rendering="geometricPrecision"/>
<path d="M742.4 2067.5l2.0 2.0l-2.0 2.0l-2.0 -2.0z" fill="#009e73" shape-rendering="geometricPrecision"/>
</svg>
</body></html>
